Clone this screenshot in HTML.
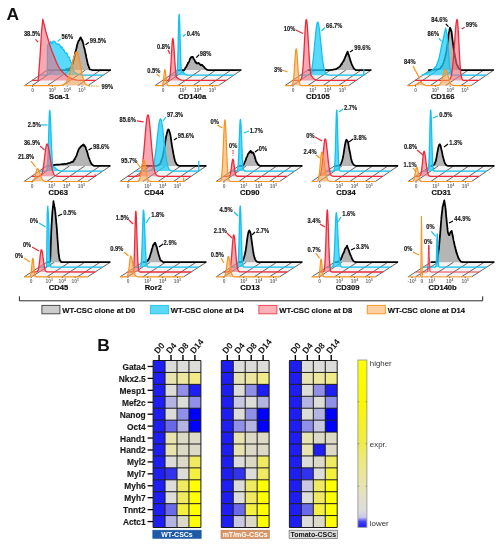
<!DOCTYPE html><html><head><meta charset="utf-8"><style>html,body{margin:0;padding:0;background:#fff;width:503px;height:550px;overflow:hidden;}svg{display:block;font-family:"Liberation Sans",sans-serif;will-change:transform;}</style></head><body><svg width="503" height="550" viewBox="0 0 503 550" font-family="Liberation Sans, sans-serif"><text x="6.6" y="19.6" font-size="17.4" font-weight="bold" fill="#111">A</text><g><path d="M24.5 85.6 L88.1 85.6 L110.9 70 L47.3 70 Z" fill="#ececec" fill-opacity="0.7"/><line x1="24.5" y1="85.6" x2="47.3" y2="70" stroke="#333" stroke-width="0.75"/><line x1="32" y1="85.6" x2="54.8" y2="70" stroke="#333" stroke-width="0.75"/><line x1="47.3" y1="85.6" x2="70.1" y2="70" stroke="#333" stroke-width="0.75"/><line x1="62.6" y1="85.6" x2="85.4" y2="70" stroke="#333" stroke-width="0.75"/><line x1="77.9" y1="85.6" x2="100.7" y2="70" stroke="#333" stroke-width="0.75"/><line x1="88.1" y1="85.6" x2="110.9" y2="70" stroke="#333" stroke-width="0.75"/><path d="M47.3 70 L69.5 70 L68.8 69.84 L68.1 69.68 L67.4 69.52 L66.7 69.36 L66 69.2 L67 69 L68 68.8 L68.72 68.6 L69.45 68.33 L70.18 68.05 L70.9 68.07 L71.2 67.01 L71.5 66.6 L71.8 65.73 L72.1 64.64 L72.4 64.44 L72.7 63.07 L73 62.91 L73.16 61.71 L73.31 61.05 L73.47 60.83 L73.62 60.71 L73.78 59.04 L73.94 58.49 L74.09 58.37 L74.25 58.13 L74.41 56.92 L74.56 55.98 L74.72 56.1 L74.88 54.12 L75.03 54.56 L75.19 53.08 L75.34 52.19 L75.5 51.46 L75.68 51.02 L75.86 51.01 L76.04 49.41 L76.21 49.26 L76.39 48.62 L76.57 47.54 L76.75 47.07 L76.93 45.67 L77.11 44.95 L77.29 44.45 L77.46 44.4 L77.64 43.33 L77.82 42.45 L78 42.12 L78.39 41.26 L78.77 40.38 L79.16 40.4 L79.54 39.59 L79.93 38.28 L80.31 38.08 L80.7 37.34 L81.06 38.57 L81.42 39.1 L81.78 39.22 L82.14 40.93 L82.5 40.47 L82.69 41.62 L82.88 42.83 L83.08 42.71 L83.27 43.92 L83.46 44.02 L83.65 45.64 L83.84 46.5 L84.03 46.97 L84.22 48.13 L84.42 48.07 L84.61 49.34 L84.8 49.93 L84.96 50.66 L85.11 51.23 L85.27 52.51 L85.42 53.4 L85.58 53.49 L85.73 54.5 L85.89 54.4 L86.04 56.04 L86.2 56.71 L86.34 57.91 L86.48 58.39 L86.62 58.36 L86.76 59.22 L86.9 60.34 L87.04 60.15 L87.18 61.49 L87.32 61.8 L87.46 62.44 L87.6 63.08 L87.86 64.75 L88.12 64.68 L88.39 65.55 L88.65 66.41 L88.91 67.44 L89.17 67.69 L89.44 68.6 L89.7 69.3 L90.47 69.53 L91.23 69.77 L92 70 L110.9 70 Z" fill="#a8a8a8" fill-opacity="0.85" stroke="none"/><path d="M47.3 70 L69.5 70 L68.8 69.84 L68.1 69.68 L67.4 69.52 L66.7 69.36 L66 69.2 L67 69 L68 68.8 L68.72 68.6 L69.45 68.33 L70.18 68.05 L70.9 68.07 L71.2 67.01 L71.5 66.6 L71.8 65.73 L72.1 64.64 L72.4 64.44 L72.7 63.07 L73 62.91 L73.16 61.71 L73.31 61.05 L73.47 60.83 L73.62 60.71 L73.78 59.04 L73.94 58.49 L74.09 58.37 L74.25 58.13 L74.41 56.92 L74.56 55.98 L74.72 56.1 L74.88 54.12 L75.03 54.56 L75.19 53.08 L75.34 52.19 L75.5 51.46 L75.68 51.02 L75.86 51.01 L76.04 49.41 L76.21 49.26 L76.39 48.62 L76.57 47.54 L76.75 47.07 L76.93 45.67 L77.11 44.95 L77.29 44.45 L77.46 44.4 L77.64 43.33 L77.82 42.45 L78 42.12 L78.39 41.26 L78.77 40.38 L79.16 40.4 L79.54 39.59 L79.93 38.28 L80.31 38.08 L80.7 37.34 L81.06 38.57 L81.42 39.1 L81.78 39.22 L82.14 40.93 L82.5 40.47 L82.69 41.62 L82.88 42.83 L83.08 42.71 L83.27 43.92 L83.46 44.02 L83.65 45.64 L83.84 46.5 L84.03 46.97 L84.22 48.13 L84.42 48.07 L84.61 49.34 L84.8 49.93 L84.96 50.66 L85.11 51.23 L85.27 52.51 L85.42 53.4 L85.58 53.49 L85.73 54.5 L85.89 54.4 L86.04 56.04 L86.2 56.71 L86.34 57.91 L86.48 58.39 L86.62 58.36 L86.76 59.22 L86.9 60.34 L87.04 60.15 L87.18 61.49 L87.32 61.8 L87.46 62.44 L87.6 63.08 L87.86 64.75 L88.12 64.68 L88.39 65.55 L88.65 66.41 L88.91 67.44 L89.17 67.69 L89.44 68.6 L89.7 69.3 L90.47 69.53 L91.23 69.77 L92 70 L110.9 70" fill="none" stroke="#000000" stroke-width="1.75" stroke-linejoin="round"/><path d="M39.7 75.2 L44.26 75.14 L47.3 75.1 L47.3 74.4 L47.31 73.67 L47.31 73.02 L47.32 72.59 L47.32 71.9 L47.33 71.3 L47.33 69.89 L47.34 69.35 L47.34 68.55 L47.35 68.69 L47.35 68.11 L47.36 66.11 L47.36 65.45 L47.37 64.84 L47.37 64.14 L47.38 63.84 L47.38 63.3 L47.39 62.08 L47.39 60.96 L47.4 60.92 L47.4 60.14 L47.41 59.75 L47.41 59.67 L47.42 58.55 L47.42 57.56 L47.43 57.02 L47.43 56.42 L47.44 54.72 L47.44 55.37 L47.45 54.47 L47.45 53.92 L47.46 53.1 L47.46 51.75 L47.47 51.06 L47.47 49.88 L47.48 50.03 L47.48 48.41 L47.49 47.72 L47.49 47.24 L47.5 46.46 L47.5 46.04 L48 44.82 L48.5 43.97 L49 43.44 L49.57 42.73 L50.13 42.52 L50.7 41.34 L51.35 43.35 L52 43.58 L52.5 42.04 L53 41.4 L54.2 41.16 L54.8 41.78 L55.4 42 L56 43.76 L56.8 44.32 L57.6 43.81 L58.4 44.17 L58.92 44.11 L59.45 44.71 L59.98 45.67 L60.5 46.12 L61.02 47.5 L61.55 46.91 L62.08 47.16 L62.6 49.12 L62.98 49.07 L63.36 49.07 L63.74 50.33 L64.12 50.12 L64.5 51.54 L65.05 52.72 L65.6 52.98 L66.15 53.16 L66.7 52.92 L67 53.73 L67.3 54.05 L67.6 55.66 L67.9 55.91 L68.2 56.95 L68.85 57.03 L69.5 57.66 L69.78 59.32 L70.05 60.33 L70.32 60.84 L70.6 61.49 L70.93 62.18 L71.27 62.72 L71.6 62.56 L71.8 63.83 L72 64.37 L72.2 64.65 L72.4 65.44 L72.6 66.65 L72.82 67.35 L73.04 68.79 L73.26 69.95 L73.48 69.89 L73.7 71.22 L74.15 71.79 L74.6 72.26 L75.05 72.32 L75.5 72.84 L76.3 73.27 L77.1 73.8 L77.9 74.2 L78.72 74.38 L79.54 74.56 L80.36 74.74 L81.18 74.92 L82 75.1 L93.36 75.15 L103.3 75.2 Z" fill="#22cef8" fill-opacity="0.75" stroke="none"/><path d="M39.7 75.2 L44.26 75.14 L47.3 75.1 L47.3 74.4 L47.31 73.67 L47.31 73.02 L47.32 72.59 L47.32 71.9 L47.33 71.3 L47.33 69.89 L47.34 69.35 L47.34 68.55 L47.35 68.69 L47.35 68.11 L47.36 66.11 L47.36 65.45 L47.37 64.84 L47.37 64.14 L47.38 63.84 L47.38 63.3 L47.39 62.08 L47.39 60.96 L47.4 60.92 L47.4 60.14 L47.41 59.75 L47.41 59.67 L47.42 58.55 L47.42 57.56 L47.43 57.02 L47.43 56.42 L47.44 54.72 L47.44 55.37 L47.45 54.47 L47.45 53.92 L47.46 53.1 L47.46 51.75 L47.47 51.06 L47.47 49.88 L47.48 50.03 L47.48 48.41 L47.49 47.72 L47.49 47.24 L47.5 46.46 L47.5 46.04 L48 44.82 L48.5 43.97 L49 43.44 L49.57 42.73 L50.13 42.52 L50.7 41.34 L51.35 43.35 L52 43.58 L52.5 42.04 L53 41.4 L54.2 41.16 L54.8 41.78 L55.4 42 L56 43.76 L56.8 44.32 L57.6 43.81 L58.4 44.17 L58.92 44.11 L59.45 44.71 L59.98 45.67 L60.5 46.12 L61.02 47.5 L61.55 46.91 L62.08 47.16 L62.6 49.12 L62.98 49.07 L63.36 49.07 L63.74 50.33 L64.12 50.12 L64.5 51.54 L65.05 52.72 L65.6 52.98 L66.15 53.16 L66.7 52.92 L67 53.73 L67.3 54.05 L67.6 55.66 L67.9 55.91 L68.2 56.95 L68.85 57.03 L69.5 57.66 L69.78 59.32 L70.05 60.33 L70.32 60.84 L70.6 61.49 L70.93 62.18 L71.27 62.72 L71.6 62.56 L71.8 63.83 L72 64.37 L72.2 64.65 L72.4 65.44 L72.6 66.65 L72.82 67.35 L73.04 68.79 L73.26 69.95 L73.48 69.89 L73.7 71.22 L74.15 71.79 L74.6 72.26 L75.05 72.32 L75.5 72.84 L76.3 73.27 L77.1 73.8 L77.9 74.2 L78.72 74.38 L79.54 74.56 L80.36 74.74 L81.18 74.92 L82 75.1 L93.36 75.15 L103.3 75.2" fill="none" stroke="#12c2f2" stroke-width="1.3" stroke-linejoin="round"/><path d="M32.1 80.4 L38.2 80.4 L39 70 L40 56.7 L41.5 32 L42.8 19.2 L44.2 25 L45.9 31.7 L48 39 L50 45.6 L52 51.5 L54.2 56.7 L56.3 62 L58.4 66.5 L61 70.5 L64 73.4 L66.8 76 L69.5 77.6 L73 79.2 L77 80.1 L80 80.4 L95.7 80.4 Z" fill="#f07080" fill-opacity="0.6" stroke="none"/><path d="M32.1 80.4 L38.2 80.4 L39 70 L40 56.7 L41.5 32 L42.8 19.2 L44.2 25 L45.9 31.7 L48 39 L50 45.6 L52 51.5 L54.2 56.7 L56.3 62 L58.4 66.5 L61 70.5 L64 73.4 L66.8 76 L69.5 77.6 L73 79.2 L77 80.1 L80 80.4 L95.7 80.4" fill="none" stroke="#ee2a3a" stroke-width="1.3" stroke-linejoin="round"/><path d="M24.5 85.6 L58.92 85.54 L59.92 85.49 L60.66 85.42 L61.16 85.35 L61.66 85.26 L61.91 85.2 L62.16 85.14 L62.41 85.06 L62.66 84.98 L62.91 84.89 L63.16 84.78 L63.41 84.67 L63.66 84.53 L63.91 84.39 L64.16 84.22 L64.41 84.04 L64.66 83.84 L64.9 83.61 L65.15 83.36 L65.4 83.09 L65.65 82.79 L65.9 82.47 L66.15 82.11 L66.4 81.72 L66.65 81.31 L66.9 80.85 L67.15 80.37 L67.4 79.85 L67.65 79.29 L67.9 78.69 L68.15 78.06 L68.4 77.39 L68.65 76.69 L68.9 75.94 L69.14 75.16 L69.39 74.35 L69.64 73.5 L69.89 72.62 L70.14 71.71 L70.39 70.78 L70.64 69.82 L70.89 68.84 L71.14 67.84 L71.39 66.83 L71.64 65.82 L71.89 64.8 L72.14 63.78 L72.39 62.77 L72.64 61.77 L72.89 60.79 L73.14 59.84 L73.38 58.91 L73.63 58.02 L73.88 57.17 L74.13 56.37 L74.38 55.62 L74.63 54.92 L74.88 54.29 L75.13 53.73 L75.38 53.23 L75.63 52.81 L75.88 52.47 L76.13 52.2 L76.38 52.02 L76.63 51.92 L76.88 51.91 L77.13 52.04 L77.38 52.33 L77.62 52.77 L77.87 53.37 L78.12 54.1 L78.37 54.97 L78.62 55.95 L78.87 57.04 L79.12 58.22 L79.37 59.48 L79.62 60.8 L79.87 62.17 L80.12 63.57 L80.37 64.98 L80.62 66.39 L80.87 67.8 L81.12 69.18 L81.37 70.52 L81.62 71.82 L81.86 73.07 L82.11 74.26 L82.36 75.39 L82.61 76.45 L82.86 77.44 L83.11 78.35 L83.36 79.2 L83.61 79.97 L83.86 80.67 L84.11 81.31 L84.36 81.88 L84.61 82.39 L84.86 82.85 L85.11 83.25 L85.36 83.6 L85.61 83.91 L85.86 84.18 L86.1 84.41 L86.35 84.6 L86.6 84.77 L86.85 84.92 L87.1 85.04 L87.35 85.14 L87.6 85.23 L87.85 85.3 L88.1 85.36 Z" fill="#f5a050" fill-opacity="0.55" stroke="none"/><path d="M24.5 85.6 L58.92 85.54 L59.92 85.49 L60.66 85.42 L61.16 85.35 L61.66 85.26 L61.91 85.2 L62.16 85.14 L62.41 85.06 L62.66 84.98 L62.91 84.89 L63.16 84.78 L63.41 84.67 L63.66 84.53 L63.91 84.39 L64.16 84.22 L64.41 84.04 L64.66 83.84 L64.9 83.61 L65.15 83.36 L65.4 83.09 L65.65 82.79 L65.9 82.47 L66.15 82.11 L66.4 81.72 L66.65 81.31 L66.9 80.85 L67.15 80.37 L67.4 79.85 L67.65 79.29 L67.9 78.69 L68.15 78.06 L68.4 77.39 L68.65 76.69 L68.9 75.94 L69.14 75.16 L69.39 74.35 L69.64 73.5 L69.89 72.62 L70.14 71.71 L70.39 70.78 L70.64 69.82 L70.89 68.84 L71.14 67.84 L71.39 66.83 L71.64 65.82 L71.89 64.8 L72.14 63.78 L72.39 62.77 L72.64 61.77 L72.89 60.79 L73.14 59.84 L73.38 58.91 L73.63 58.02 L73.88 57.17 L74.13 56.37 L74.38 55.62 L74.63 54.92 L74.88 54.29 L75.13 53.73 L75.38 53.23 L75.63 52.81 L75.88 52.47 L76.13 52.2 L76.38 52.02 L76.63 51.92 L76.88 51.91 L77.13 52.04 L77.38 52.33 L77.62 52.77 L77.87 53.37 L78.12 54.1 L78.37 54.97 L78.62 55.95 L78.87 57.04 L79.12 58.22 L79.37 59.48 L79.62 60.8 L79.87 62.17 L80.12 63.57 L80.37 64.98 L80.62 66.39 L80.87 67.8 L81.12 69.18 L81.37 70.52 L81.62 71.82 L81.86 73.07 L82.11 74.26 L82.36 75.39 L82.61 76.45 L82.86 77.44 L83.11 78.35 L83.36 79.2 L83.61 79.97 L83.86 80.67 L84.11 81.31 L84.36 81.88 L84.61 82.39 L84.86 82.85 L85.11 83.25 L85.36 83.6 L85.61 83.91 L85.86 84.18 L86.1 84.41 L86.35 84.6 L86.6 84.77 L86.85 84.92 L87.1 85.04 L87.35 85.14 L87.6 85.23 L87.85 85.3 L88.1 85.36" fill="none" stroke="#f7941d" stroke-width="1.2" stroke-linejoin="round"/><g font-size="4.9" font-weight="bold" fill="#707070" text-anchor="middle"><text x="32.5" y="91.8">0</text><text x="52.3" y="91.8">10<tspan font-size="3.3" dy="-1.7">3</tspan></text><text x="67.2" y="91.8">10<tspan font-size="3.3" dy="-1.7">4</tspan></text><text x="82" y="91.8">10<tspan font-size="3.3" dy="-1.7">5</tspan></text></g><line x1="32.5" y1="85.6" x2="32.5" y2="86.8" stroke="#333" stroke-width="0.7"/><line x1="52.3" y1="85.6" x2="52.3" y2="86.8" stroke="#333" stroke-width="0.7"/><line x1="67.2" y1="85.6" x2="67.2" y2="86.8" stroke="#333" stroke-width="0.7"/><line x1="82" y1="85.6" x2="82" y2="86.8" stroke="#333" stroke-width="0.7"/><text x="59.2" y="98.9" font-size="7.6" font-weight="bold" text-anchor="middle" fill="#111" stroke="#111" stroke-width="0.2">Sca-1</text><line x1="35.4" y1="39.4" x2="38.2" y2="42.1" stroke="#ee2a3a" stroke-width="1.2"/><text transform="translate(23.9 35.9) scale(0.9 1)" font-size="6.4" font-weight="bold" fill="#1a1a1a" stroke="#1a1a1a" stroke-width="0.15">38.5%</text><line x1="57.7" y1="41.4" x2="60.5" y2="38.9" stroke="#16c0ee" stroke-width="1.2"/><text transform="translate(61.5 39.3) scale(0.9 1)" font-size="6.4" font-weight="bold" fill="#1a1a1a" stroke="#1a1a1a" stroke-width="0.15">56%</text><line x1="85.5" y1="44.7" x2="88.8" y2="42.6" stroke="#000" stroke-width="1.2"/><text transform="translate(89.8 43.1) scale(0.9 1)" font-size="6.4" font-weight="bold" fill="#1a1a1a" stroke="#1a1a1a" stroke-width="0.15">99.5%</text><line x1="88.5" y1="86" x2="99.3" y2="86" stroke="#f7941d" stroke-width="1.2" stroke-dasharray="1.5 1"/><text transform="translate(101.5 88.5) scale(0.9 1)" font-size="6.4" font-weight="bold" fill="#1a1a1a" stroke="#1a1a1a" stroke-width="0.15">99%</text></g><g><path d="M155 85.6 L218.6 85.6 L241.4 70 L177.8 70 Z" fill="#ececec" fill-opacity="0.7"/><line x1="155" y1="85.6" x2="177.8" y2="70" stroke="#333" stroke-width="0.75"/><line x1="162.5" y1="85.6" x2="185.3" y2="70" stroke="#333" stroke-width="0.75"/><line x1="177.8" y1="85.6" x2="200.6" y2="70" stroke="#333" stroke-width="0.75"/><line x1="193.1" y1="85.6" x2="215.9" y2="70" stroke="#333" stroke-width="0.75"/><line x1="208.4" y1="85.6" x2="231.2" y2="70" stroke="#333" stroke-width="0.75"/><line x1="218.6" y1="85.6" x2="241.4" y2="70" stroke="#333" stroke-width="0.75"/><path d="M177.8 70 L179.9 70.07 L182 70.13 L184.1 70.2 L184.48 69.56 L184.86 68.92 L185.24 68.18 L185.62 67.5 L186 67.07 L186.36 66.64 L186.71 65.98 L187.07 65.01 L187.43 64.54 L187.79 64.07 L188.14 62.56 L188.5 62.59 L188.83 62.16 L189.17 61.27 L189.5 60.5 L189.83 59.44 L190.17 58.35 L190.5 58.35 L191.03 57.23 L191.57 57.23 L192.1 56.87 L192.65 56.78 L193.2 57.38 L193.47 58.71 L193.75 59.12 L194.03 59.13 L194.3 59.75 L194.74 60.36 L195.18 61.85 L195.62 62.31 L196.06 62.1 L196.5 63.49 L197.45 63.48 L198.4 62.89 L198.82 63.1 L199.25 63.91 L199.68 64.01 L200.1 64.51 L201 65.29 L201.9 64.76 L202.55 65.32 L203.2 66.35 L203.85 66.71 L204.5 67.69 L205.05 68.18 L205.6 68.6 L206.15 69.15 L206.7 69.7 L207.47 69.87 L208.23 70.03 L209 70.2 L217.45 70.15 L225.9 70.1 L234.36 70.04 L241.4 70 Z" fill="#a8a8a8" fill-opacity="0.85" stroke="none"/><path d="M177.8 70 L179.9 70.07 L182 70.13 L184.1 70.2 L184.48 69.56 L184.86 68.92 L185.24 68.18 L185.62 67.5 L186 67.07 L186.36 66.64 L186.71 65.98 L187.07 65.01 L187.43 64.54 L187.79 64.07 L188.14 62.56 L188.5 62.59 L188.83 62.16 L189.17 61.27 L189.5 60.5 L189.83 59.44 L190.17 58.35 L190.5 58.35 L191.03 57.23 L191.57 57.23 L192.1 56.87 L192.65 56.78 L193.2 57.38 L193.47 58.71 L193.75 59.12 L194.03 59.13 L194.3 59.75 L194.74 60.36 L195.18 61.85 L195.62 62.31 L196.06 62.1 L196.5 63.49 L197.45 63.48 L198.4 62.89 L198.82 63.1 L199.25 63.91 L199.68 64.01 L200.1 64.51 L201 65.29 L201.9 64.76 L202.55 65.32 L203.2 66.35 L203.85 66.71 L204.5 67.69 L205.05 68.18 L205.6 68.6 L206.15 69.15 L206.7 69.7 L207.47 69.87 L208.23 70.03 L209 70.2 L217.45 70.15 L225.9 70.1 L234.36 70.04 L241.4 70" fill="none" stroke="#000000" stroke-width="1.75" stroke-linejoin="round"/><path d="M170.2 75.2 L175.94 75.18 L176.19 75.12 L176.44 74.96 L176.68 74.56 L176.93 73.64 L177.18 71.73 L177.43 68.23 L177.68 62.49 L177.93 54.16 L178.18 43.61 L178.43 32.15 L178.68 21.97 L178.93 15.47 L179.18 14.29 L179.43 17.3 L179.68 23.49 L179.93 31.8 L180.18 40.97 L180.43 49.83 L180.68 57.53 L180.92 63.64 L181.17 68.09 L181.42 71.06 L181.67 71.15 L181.92 71.28 L182.17 71.44 L182.42 71.63 L182.67 71.84 L182.92 72.07 L183.17 72.32 L183.42 72.57 L183.67 72.82 L183.92 73.07 L184.17 73.32 L184.42 73.55 L184.67 73.77 L184.92 73.97 L185.16 74.15 L185.41 74.32 L185.66 74.46 L185.91 74.59 L186.16 74.7 L186.41 74.8 L186.66 74.88 L186.91 74.94 L187.16 75 L187.66 75.08 L188.16 75.13 L189.4 75.19 L233.8 75.2 Z" fill="#22cef8" fill-opacity="0.75" stroke="none"/><path d="M170.2 75.2 L175.94 75.18 L176.19 75.12 L176.44 74.96 L176.68 74.56 L176.93 73.64 L177.18 71.73 L177.43 68.23 L177.68 62.49 L177.93 54.16 L178.18 43.61 L178.43 32.15 L178.68 21.97 L178.93 15.47 L179.18 14.29 L179.43 17.3 L179.68 23.49 L179.93 31.8 L180.18 40.97 L180.43 49.83 L180.68 57.53 L180.92 63.64 L181.17 68.09 L181.42 71.06 L181.67 71.15 L181.92 71.28 L182.17 71.44 L182.42 71.63 L182.67 71.84 L182.92 72.07 L183.17 72.32 L183.42 72.57 L183.67 72.82 L183.92 73.07 L184.17 73.32 L184.42 73.55 L184.67 73.77 L184.92 73.97 L185.16 74.15 L185.41 74.32 L185.66 74.46 L185.91 74.59 L186.16 74.7 L186.41 74.8 L186.66 74.88 L186.91 74.94 L187.16 75 L187.66 75.08 L188.16 75.13 L189.4 75.19 L233.8 75.2" fill="none" stroke="#12c2f2" stroke-width="1.3" stroke-linejoin="round"/><path d="M162.6 80.4 L168.09 80.31 L168.34 80.22 L168.59 80.08 L168.84 79.84 L169.08 79.45 L169.33 78.84 L169.58 77.94 L169.83 76.65 L170.08 74.86 L170.33 72.5 L170.58 69.52 L170.83 65.91 L171.08 61.75 L171.33 57.2 L171.58 52.5 L171.83 47.99 L172.08 44 L172.33 40.9 L172.58 38.97 L172.83 38.41 L173.08 39.02 L173.32 40.6 L173.57 43.04 L173.82 46.17 L174.07 49.79 L174.32 53.69 L174.57 57.65 L174.82 61.49 L175.07 65.06 L175.32 68.25 L175.57 71.01 L175.82 73.32 L176.07 75.19 L176.32 76.65 L176.57 77.43 L176.82 77.57 L177.07 77.72 L177.32 77.88 L177.56 78.04 L177.81 78.21 L178.06 78.38 L178.31 78.55 L178.56 78.72 L178.81 78.88 L179.06 79.04 L179.31 79.19 L179.56 79.33 L179.81 79.46 L180.06 79.58 L180.31 79.69 L180.56 79.79 L180.81 79.88 L181.06 79.96 L181.31 80.03 L181.56 80.09 L181.8 80.14 L182.3 80.22 L182.8 80.28 L183.55 80.34 L185.55 80.39 L226.2 80.4 Z" fill="#f07080" fill-opacity="0.6" stroke="none"/><path d="M162.6 80.4 L168.09 80.31 L168.34 80.22 L168.59 80.08 L168.84 79.84 L169.08 79.45 L169.33 78.84 L169.58 77.94 L169.83 76.65 L170.08 74.86 L170.33 72.5 L170.58 69.52 L170.83 65.91 L171.08 61.75 L171.33 57.2 L171.58 52.5 L171.83 47.99 L172.08 44 L172.33 40.9 L172.58 38.97 L172.83 38.41 L173.08 39.02 L173.32 40.6 L173.57 43.04 L173.82 46.17 L174.07 49.79 L174.32 53.69 L174.57 57.65 L174.82 61.49 L175.07 65.06 L175.32 68.25 L175.57 71.01 L175.82 73.32 L176.07 75.19 L176.32 76.65 L176.57 77.43 L176.82 77.57 L177.07 77.72 L177.32 77.88 L177.56 78.04 L177.81 78.21 L178.06 78.38 L178.31 78.55 L178.56 78.72 L178.81 78.88 L179.06 79.04 L179.31 79.19 L179.56 79.33 L179.81 79.46 L180.06 79.58 L180.31 79.69 L180.56 79.79 L180.81 79.88 L181.06 79.96 L181.31 80.03 L181.56 80.09 L181.8 80.14 L182.3 80.22 L182.8 80.28 L183.55 80.34 L185.55 80.39 L226.2 80.4" fill="none" stroke="#ee2a3a" stroke-width="1.3" stroke-linejoin="round"/><path d="M155 85.6 L161.73 85.54 L161.98 85.46 L162.23 85.29 L162.48 84.97 L162.73 84.41 L162.98 83.51 L163.23 82.16 L163.48 80.33 L163.73 78.06 L163.98 75.54 L164.23 73.06 L164.48 71.02 L164.73 69.76 L164.98 69.55 L165.23 70.33 L165.48 71.96 L165.72 74.14 L165.97 76.56 L166.22 78.89 L166.47 80.93 L166.72 82.54 L166.97 83.72 L167.22 84.51 L167.47 85.01 L167.72 85.3 L167.97 85.46 L168.22 85.53 L168.72 85.59 L218.6 85.6 Z" fill="#f5a050" fill-opacity="0.55" stroke="none"/><path d="M155 85.6 L161.73 85.54 L161.98 85.46 L162.23 85.29 L162.48 84.97 L162.73 84.41 L162.98 83.51 L163.23 82.16 L163.48 80.33 L163.73 78.06 L163.98 75.54 L164.23 73.06 L164.48 71.02 L164.73 69.76 L164.98 69.55 L165.23 70.33 L165.48 71.96 L165.72 74.14 L165.97 76.56 L166.22 78.89 L166.47 80.93 L166.72 82.54 L166.97 83.72 L167.22 84.51 L167.47 85.01 L167.72 85.3 L167.97 85.46 L168.22 85.53 L168.72 85.59 L218.6 85.6" fill="none" stroke="#f7941d" stroke-width="1.2" stroke-linejoin="round"/><g font-size="4.9" font-weight="bold" fill="#707070" text-anchor="middle"><text x="163" y="91.8">0</text><text x="182.8" y="91.8">10<tspan font-size="3.3" dy="-1.7">3</tspan></text><text x="197.7" y="91.8">10<tspan font-size="3.3" dy="-1.7">4</tspan></text><text x="212.5" y="91.8">10<tspan font-size="3.3" dy="-1.7">5</tspan></text></g><line x1="163" y1="85.6" x2="163" y2="86.8" stroke="#333" stroke-width="0.7"/><line x1="182.8" y1="85.6" x2="182.8" y2="86.8" stroke="#333" stroke-width="0.7"/><line x1="197.7" y1="85.6" x2="197.7" y2="86.8" stroke="#333" stroke-width="0.7"/><line x1="212.5" y1="85.6" x2="212.5" y2="86.8" stroke="#333" stroke-width="0.7"/><text x="192.3" y="98.9" font-size="7.6" font-weight="bold" text-anchor="middle" fill="#111" stroke="#111" stroke-width="0.2">CD140a</text><line x1="156.7" y1="74" x2="159.6" y2="76.5" stroke="#f7941d" stroke-width="1.2"/><text transform="translate(147.3 72.9) scale(0.9 1)" font-size="6.4" font-weight="bold" fill="#1a1a1a" stroke="#1a1a1a" stroke-width="0.15">0.5%</text><line x1="167.9" y1="49.7" x2="169.9" y2="54" stroke="#ee2a3a" stroke-width="1.2"/><text transform="translate(157 48.6) scale(0.9 1)" font-size="6.4" font-weight="bold" fill="#1a1a1a" stroke="#1a1a1a" stroke-width="0.15">0.8%</text><line x1="182.8" y1="36.4" x2="185.8" y2="34.2" stroke="#16c0ee" stroke-width="1.2"/><text transform="translate(186.8 36.1) scale(0.9 1)" font-size="6.4" font-weight="bold" fill="#1a1a1a" stroke="#1a1a1a" stroke-width="0.15">0.4%</text><line x1="196.2" y1="57.7" x2="199.2" y2="54.7" stroke="#000" stroke-width="1.2"/><text transform="translate(199.8 56) scale(0.9 1)" font-size="6.4" font-weight="bold" fill="#1a1a1a" stroke="#1a1a1a" stroke-width="0.15">98%</text></g><g><path d="M285 85.6 L348.6 85.6 L371.4 70 L307.8 70 Z" fill="#ececec" fill-opacity="0.7"/><line x1="285" y1="85.6" x2="307.8" y2="70" stroke="#333" stroke-width="0.75"/><line x1="292.5" y1="85.6" x2="315.3" y2="70" stroke="#333" stroke-width="0.75"/><line x1="307.8" y1="85.6" x2="330.6" y2="70" stroke="#333" stroke-width="0.75"/><line x1="323.1" y1="85.6" x2="345.9" y2="70" stroke="#333" stroke-width="0.75"/><line x1="338.4" y1="85.6" x2="361.2" y2="70" stroke="#333" stroke-width="0.75"/><line x1="348.6" y1="85.6" x2="371.4" y2="70" stroke="#333" stroke-width="0.75"/><path d="M307.8 70 L313.57 70.06 L319.33 70.11 L325.1 70.17 L328.7 70.2 L329.46 70.12 L330.22 70.04 L330.98 69.96 L331.74 69.88 L332.5 69.8 L333.28 69.64 L334.06 69.48 L334.84 69.32 L335.62 69.16 L336.4 69 L337.06 68.56 L337.72 68.01 L338.38 67.56 L339.04 67.13 L339.7 66.63 L340.12 66.27 L340.54 65.39 L340.96 64.92 L341.38 63.99 L341.8 64.29 L342.23 62.87 L342.65 62.25 L343.07 61.65 L343.5 61.29 L343.81 60.08 L344.13 60.04 L344.44 58.92 L344.76 58.32 L345.07 57.69 L345.39 56.45 L345.7 56.33 L345.97 55.32 L346.24 54.4 L346.51 54.66 L346.79 53.21 L347.06 52.87 L347.33 52.47 L347.6 51.57 L347.84 52.04 L348.08 53.02 L348.31 53.82 L348.55 54.84 L348.79 54.78 L349.02 56.07 L349.26 56.45 L349.5 57.23 L349.74 58.56 L349.99 58.98 L350.23 59.77 L350.48 60.75 L350.72 61.66 L350.97 61.83 L351.21 62.77 L351.46 63.37 L351.7 64.11 L352.01 64.95 L352.33 65.34 L352.64 66.06 L352.96 66.66 L353.27 67.55 L353.59 68.04 L353.9 68.6 L354.63 69.13 L355.37 69.67 L356.1 70.2 L360.47 70.14 L364.84 70.09 L369.21 70.03 L371.4 70 Z" fill="#a8a8a8" fill-opacity="0.85" stroke="none"/><path d="M307.8 70 L313.57 70.06 L319.33 70.11 L325.1 70.17 L328.7 70.2 L329.46 70.12 L330.22 70.04 L330.98 69.96 L331.74 69.88 L332.5 69.8 L333.28 69.64 L334.06 69.48 L334.84 69.32 L335.62 69.16 L336.4 69 L337.06 68.56 L337.72 68.01 L338.38 67.56 L339.04 67.13 L339.7 66.63 L340.12 66.27 L340.54 65.39 L340.96 64.92 L341.38 63.99 L341.8 64.29 L342.23 62.87 L342.65 62.25 L343.07 61.65 L343.5 61.29 L343.81 60.08 L344.13 60.04 L344.44 58.92 L344.76 58.32 L345.07 57.69 L345.39 56.45 L345.7 56.33 L345.97 55.32 L346.24 54.4 L346.51 54.66 L346.79 53.21 L347.06 52.87 L347.33 52.47 L347.6 51.57 L347.84 52.04 L348.08 53.02 L348.31 53.82 L348.55 54.84 L348.79 54.78 L349.02 56.07 L349.26 56.45 L349.5 57.23 L349.74 58.56 L349.99 58.98 L350.23 59.77 L350.48 60.75 L350.72 61.66 L350.97 61.83 L351.21 62.77 L351.46 63.37 L351.7 64.11 L352.01 64.95 L352.33 65.34 L352.64 66.06 L352.96 66.66 L353.27 67.55 L353.59 68.04 L353.9 68.6 L354.63 69.13 L355.37 69.67 L356.1 70.2 L360.47 70.14 L364.84 70.09 L369.21 70.03 L371.4 70" fill="none" stroke="#000000" stroke-width="1.75" stroke-linejoin="round"/><path d="M300.2 75.2 L306.93 75.15 L307.68 75.06 L307.93 75.02 L308.18 74.96 L308.43 74.88 L308.68 74.78 L308.93 74.65 L309.18 74.49 L309.43 74.29 L309.68 74.05 L309.93 73.74 L310.18 73.37 L310.43 72.92 L310.68 72.38 L310.92 71.74 L311.17 70.99 L311.42 70.11 L311.67 69.09 L311.92 67.92 L312.17 66.59 L312.42 65.09 L312.67 63.42 L312.92 61.58 L313.17 59.56 L313.42 57.37 L313.67 55.04 L313.92 52.56 L314.17 49.97 L314.42 47.28 L314.67 44.54 L314.92 41.78 L315.16 39.03 L315.41 36.35 L315.66 33.78 L315.91 31.37 L316.16 29.15 L316.41 27.18 L316.66 25.49 L316.91 24.13 L317.16 23.11 L317.41 22.47 L317.66 22.21 L317.91 22.32 L318.16 22.77 L318.41 23.56 L318.66 24.66 L318.91 26.06 L319.16 27.73 L319.4 29.64 L319.65 31.75 L319.9 34.03 L320.15 36.45 L320.4 38.95 L320.65 41.52 L320.9 44.1 L321.15 46.67 L321.4 49.2 L321.65 51.66 L321.9 54.02 L322.15 56.27 L322.4 58.39 L322.65 60.37 L322.9 62.2 L323.15 63.87 L323.4 65.4 L323.64 66.77 L323.89 68 L324.14 69.09 L324.39 70.05 L324.64 70.88 L324.89 71.61 L325.14 72.23 L325.39 72.76 L325.64 73.21 L325.89 73.58 L326.14 73.9 L326.39 74.16 L326.64 74.31 L326.89 74.44 L327.14 74.56 L327.39 74.66 L327.64 74.75 L327.88 74.83 L328.13 74.89 L328.38 74.95 L328.88 75.04 L329.38 75.09 L330.13 75.15 L333.87 75.2 L363.8 75.2 Z" fill="#22cef8" fill-opacity="0.75" stroke="none"/><path d="M300.2 75.2 L306.93 75.15 L307.68 75.06 L307.93 75.02 L308.18 74.96 L308.43 74.88 L308.68 74.78 L308.93 74.65 L309.18 74.49 L309.43 74.29 L309.68 74.05 L309.93 73.74 L310.18 73.37 L310.43 72.92 L310.68 72.38 L310.92 71.74 L311.17 70.99 L311.42 70.11 L311.67 69.09 L311.92 67.92 L312.17 66.59 L312.42 65.09 L312.67 63.42 L312.92 61.58 L313.17 59.56 L313.42 57.37 L313.67 55.04 L313.92 52.56 L314.17 49.97 L314.42 47.28 L314.67 44.54 L314.92 41.78 L315.16 39.03 L315.41 36.35 L315.66 33.78 L315.91 31.37 L316.16 29.15 L316.41 27.18 L316.66 25.49 L316.91 24.13 L317.16 23.11 L317.41 22.47 L317.66 22.21 L317.91 22.32 L318.16 22.77 L318.41 23.56 L318.66 24.66 L318.91 26.06 L319.16 27.73 L319.4 29.64 L319.65 31.75 L319.9 34.03 L320.15 36.45 L320.4 38.95 L320.65 41.52 L320.9 44.1 L321.15 46.67 L321.4 49.2 L321.65 51.66 L321.9 54.02 L322.15 56.27 L322.4 58.39 L322.65 60.37 L322.9 62.2 L323.15 63.87 L323.4 65.4 L323.64 66.77 L323.89 68 L324.14 69.09 L324.39 70.05 L324.64 70.88 L324.89 71.61 L325.14 72.23 L325.39 72.76 L325.64 73.21 L325.89 73.58 L326.14 73.9 L326.39 74.16 L326.64 74.31 L326.89 74.44 L327.14 74.56 L327.39 74.66 L327.64 74.75 L327.88 74.83 L328.13 74.89 L328.38 74.95 L328.88 75.04 L329.38 75.09 L330.13 75.15 L333.87 75.2 L363.8 75.2 L363.8 69.2" fill="none" stroke="#12c2f2" stroke-width="1.3" stroke-linejoin="round"/><path d="M292.6 80.4 L299.33 80.33 L299.58 80.28 L299.83 80.21 L300.08 80.11 L300.33 79.96 L300.58 79.74 L300.83 79.43 L301.08 79 L301.33 78.41 L301.58 77.62 L301.83 76.58 L302.08 75.25 L302.33 73.56 L302.58 71.47 L302.83 68.95 L303.08 65.97 L303.32 62.53 L303.57 58.64 L303.82 54.36 L304.07 49.76 L304.32 44.97 L304.57 40.13 L304.82 35.41 L305.07 31 L305.32 27.09 L305.57 23.84 L305.82 21.42 L306.07 19.95 L306.32 19.5 L306.57 19.99 L306.82 21.31 L307.07 23.42 L307.32 26.22 L307.56 29.6 L307.81 33.44 L308.06 37.6 L308.31 41.93 L308.56 46.31 L308.81 50.62 L309.06 54.74 L309.31 58.61 L309.56 62.15 L309.81 65.33 L310.06 68.13 L310.31 70.55 L310.56 72.6 L310.81 74.31 L311.06 75.34 L311.31 75.64 L311.56 75.95 L311.8 76.27 L312.05 76.59 L312.3 76.91 L312.55 77.23 L312.8 77.53 L313.05 77.83 L313.3 78.11 L313.55 78.37 L313.8 78.62 L314.05 78.85 L314.3 79.05 L314.55 79.24 L314.8 79.41 L315.05 79.56 L315.3 79.69 L315.55 79.81 L315.8 79.91 L316.04 79.99 L316.29 80.07 L316.54 80.13 L316.79 80.18 L317.29 80.26 L317.79 80.31 L318.79 80.37 L356.2 80.4 Z" fill="#f07080" fill-opacity="0.6" stroke="none"/><path d="M292.6 80.4 L299.33 80.33 L299.58 80.28 L299.83 80.21 L300.08 80.11 L300.33 79.96 L300.58 79.74 L300.83 79.43 L301.08 79 L301.33 78.41 L301.58 77.62 L301.83 76.58 L302.08 75.25 L302.33 73.56 L302.58 71.47 L302.83 68.95 L303.08 65.97 L303.32 62.53 L303.57 58.64 L303.82 54.36 L304.07 49.76 L304.32 44.97 L304.57 40.13 L304.82 35.41 L305.07 31 L305.32 27.09 L305.57 23.84 L305.82 21.42 L306.07 19.95 L306.32 19.5 L306.57 19.99 L306.82 21.31 L307.07 23.42 L307.32 26.22 L307.56 29.6 L307.81 33.44 L308.06 37.6 L308.31 41.93 L308.56 46.31 L308.81 50.62 L309.06 54.74 L309.31 58.61 L309.56 62.15 L309.81 65.33 L310.06 68.13 L310.31 70.55 L310.56 72.6 L310.81 74.31 L311.06 75.34 L311.31 75.64 L311.56 75.95 L311.8 76.27 L312.05 76.59 L312.3 76.91 L312.55 77.23 L312.8 77.53 L313.05 77.83 L313.3 78.11 L313.55 78.37 L313.8 78.62 L314.05 78.85 L314.3 79.05 L314.55 79.24 L314.8 79.41 L315.05 79.56 L315.3 79.69 L315.55 79.81 L315.8 79.91 L316.04 79.99 L316.29 80.07 L316.54 80.13 L316.79 80.18 L317.29 80.26 L317.79 80.31 L318.79 80.37 L356.2 80.4" fill="none" stroke="#ee2a3a" stroke-width="1.3" stroke-linejoin="round"/><path d="M285 85.6 L290.99 85.54 L291.24 85.5 L291.48 85.41 L291.73 85.28 L291.98 85.06 L292.23 84.73 L292.48 84.22 L292.73 83.49 L292.98 82.47 L293.23 81.08 L293.48 79.27 L293.73 76.98 L293.98 74.22 L294.23 71 L294.48 67.43 L294.73 63.63 L294.98 59.82 L295.23 56.23 L295.48 53.12 L295.72 50.72 L295.97 49.24 L296.22 48.8 L296.47 49.45 L296.72 51.11 L296.97 53.66 L297.22 56.88 L297.47 60.53 L297.72 64.36 L297.97 68.12 L298.22 71.64 L298.47 74.77 L298.72 77.45 L298.97 79.64 L299.22 81.37 L299.47 82.69 L299.72 83.65 L299.96 84.34 L300.21 84.8 L300.46 85.11 L300.71 85.31 L300.96 85.43 L301.21 85.51 L301.71 85.57 L348.6 85.6 Z" fill="#f5a050" fill-opacity="0.55" stroke="none"/><path d="M285 85.6 L290.99 85.54 L291.24 85.5 L291.48 85.41 L291.73 85.28 L291.98 85.06 L292.23 84.73 L292.48 84.22 L292.73 83.49 L292.98 82.47 L293.23 81.08 L293.48 79.27 L293.73 76.98 L293.98 74.22 L294.23 71 L294.48 67.43 L294.73 63.63 L294.98 59.82 L295.23 56.23 L295.48 53.12 L295.72 50.72 L295.97 49.24 L296.22 48.8 L296.47 49.45 L296.72 51.11 L296.97 53.66 L297.22 56.88 L297.47 60.53 L297.72 64.36 L297.97 68.12 L298.22 71.64 L298.47 74.77 L298.72 77.45 L298.97 79.64 L299.22 81.37 L299.47 82.69 L299.72 83.65 L299.96 84.34 L300.21 84.8 L300.46 85.11 L300.71 85.31 L300.96 85.43 L301.21 85.51 L301.71 85.57 L348.6 85.6" fill="none" stroke="#f7941d" stroke-width="1.2" stroke-linejoin="round"/><g font-size="4.9" font-weight="bold" fill="#707070" text-anchor="middle"><text x="293" y="91.8">0</text><text x="312.8" y="91.8">10<tspan font-size="3.3" dy="-1.7">3</tspan></text><text x="327.7" y="91.8">10<tspan font-size="3.3" dy="-1.7">4</tspan></text><text x="342.5" y="91.8">10<tspan font-size="3.3" dy="-1.7">5</tspan></text></g><line x1="293" y1="85.6" x2="293" y2="86.8" stroke="#333" stroke-width="0.7"/><line x1="312.8" y1="85.6" x2="312.8" y2="86.8" stroke="#333" stroke-width="0.7"/><line x1="327.7" y1="85.6" x2="327.7" y2="86.8" stroke="#333" stroke-width="0.7"/><line x1="342.5" y1="85.6" x2="342.5" y2="86.8" stroke="#333" stroke-width="0.7"/><text x="317.8" y="98.9" font-size="7.6" font-weight="bold" text-anchor="middle" fill="#111" stroke="#111" stroke-width="0.2">CD105</text><line x1="282.5" y1="70" x2="287.5" y2="72" stroke="#f7941d" stroke-width="1.2"/><text transform="translate(274 71.5) scale(0.9 1)" font-size="6.4" font-weight="bold" fill="#1a1a1a" stroke="#1a1a1a" stroke-width="0.15">3%</text><line x1="295.8" y1="30" x2="303" y2="33.5" stroke="#ee2a3a" stroke-width="1.2"/><text transform="translate(283.8 31.1) scale(0.9 1)" font-size="6.4" font-weight="bold" fill="#1a1a1a" stroke="#1a1a1a" stroke-width="0.15">10%</text><line x1="321.5" y1="31" x2="325" y2="27.5" stroke="#16c0ee" stroke-width="1.2"/><text transform="translate(326 27.7) scale(0.9 1)" font-size="6.4" font-weight="bold" fill="#1a1a1a" stroke="#1a1a1a" stroke-width="0.15">66.7%</text><line x1="350" y1="52" x2="353" y2="50" stroke="#000" stroke-width="1.2"/><text transform="translate(354.2 50.4) scale(0.9 1)" font-size="6.4" font-weight="bold" fill="#1a1a1a" stroke="#1a1a1a" stroke-width="0.15">99.6%</text></g><g><path d="M407.5 85.6 L471.1 85.6 L493.9 70 L430.3 70 Z" fill="#ececec" fill-opacity="0.7"/><line x1="407.5" y1="85.6" x2="430.3" y2="70" stroke="#333" stroke-width="0.75"/><line x1="415" y1="85.6" x2="437.8" y2="70" stroke="#333" stroke-width="0.75"/><line x1="430.3" y1="85.6" x2="453.1" y2="70" stroke="#333" stroke-width="0.75"/><line x1="445.6" y1="85.6" x2="468.4" y2="70" stroke="#333" stroke-width="0.75"/><line x1="460.9" y1="85.6" x2="483.7" y2="70" stroke="#333" stroke-width="0.75"/><line x1="471.1" y1="85.6" x2="493.9" y2="70" stroke="#333" stroke-width="0.75"/><path d="M430.3 70 L429.5 70.1 L428.7 70.2 L429.43 70.14 L430.16 70.08 L430.89 70.02 L431.62 69.96 L432.35 69.9 L433.08 69.84 L433.81 69.78 L434.54 69.72 L435.27 69.66 L436 69.6 L436.8 69.42 L437.6 69.24 L438.4 69.06 L439.2 68.88 L440 68.7 L440.43 68.21 L440.85 67.65 L441.27 66.63 L441.7 66.2 L442.12 65.91 L442.55 65.22 L442.97 63.82 L443.4 63.15 L443.57 62.85 L443.75 61.72 L443.92 61.25 L444.1 60.36 L444.27 60.4 L444.45 59.85 L444.62 59.31 L444.8 57.74 L444.97 57.73 L445.15 56.98 L445.32 55.68 L445.5 55.88 L445.68 55.3 L445.85 53.73 L446.02 53.92 L446.2 52.58 L446.31 51.96 L446.41 51.83 L446.52 50.92 L446.63 49.39 L446.73 48.98 L446.84 48.36 L446.95 47.42 L447.05 46.52 L447.16 45.94 L447.27 45.7 L447.37 44.13 L447.48 44.04 L447.59 43.18 L447.69 41.95 L447.8 41.6 L447.88 41.19 L447.96 40.29 L448.04 39 L448.12 39.34 L448.2 38.35 L448.28 37.81 L448.36 36.01 L448.44 35.44 L448.52 34.41 L448.6 34.53 L448.76 33.19 L448.91 32.29 L449.07 31.91 L449.22 31.76 L449.38 30.92 L449.53 29.51 L449.69 28.65 L449.84 28.84 L450 27.68 L450.27 28.57 L450.53 28.57 L450.8 29.27 L451.07 30.76 L451.33 31.18 L451.6 31.49 L451.68 33.23 L451.76 33.56 L451.84 34.46 L451.91 34.3 L451.99 35.93 L452.07 35.68 L452.15 37.34 L452.23 37.54 L452.31 38.11 L452.39 39.06 L452.46 40.21 L452.54 40.12 L452.62 40.66 L452.7 41.83 L452.81 42.21 L452.91 42.78 L453.02 43.57 L453.13 44.17 L453.23 45.08 L453.34 45.93 L453.45 46.65 L453.55 47.92 L453.66 48.09 L453.77 49.07 L453.87 49.41 L453.98 50.34 L454.09 50.67 L454.19 51.67 L454.3 52.12 L454.45 53.71 L454.59 54.21 L454.74 54.51 L454.89 55.58 L455.03 56.85 L455.18 56.59 L455.33 58.17 L455.47 58.43 L455.62 59.23 L455.77 60.37 L455.91 60.57 L456.06 61.43 L456.21 62.37 L456.35 63.45 L456.5 63.41 L456.81 64.68 L457.13 65.21 L457.44 65.82 L457.76 66.33 L458.07 67.01 L458.39 67.6 L458.7 68.5 L459.27 68.92 L459.85 69.35 L460.43 69.78 L461 70.2 L469.4 70.15 L477.8 70.1 L486.2 70.05 L493.9 70 Z" fill="#a8a8a8" fill-opacity="0.85" stroke="none"/><path d="M430.3 70 L429.5 70.1 L428.7 70.2 L429.43 70.14 L430.16 70.08 L430.89 70.02 L431.62 69.96 L432.35 69.9 L433.08 69.84 L433.81 69.78 L434.54 69.72 L435.27 69.66 L436 69.6 L436.8 69.42 L437.6 69.24 L438.4 69.06 L439.2 68.88 L440 68.7 L440.43 68.21 L440.85 67.65 L441.27 66.63 L441.7 66.2 L442.12 65.91 L442.55 65.22 L442.97 63.82 L443.4 63.15 L443.57 62.85 L443.75 61.72 L443.92 61.25 L444.1 60.36 L444.27 60.4 L444.45 59.85 L444.62 59.31 L444.8 57.74 L444.97 57.73 L445.15 56.98 L445.32 55.68 L445.5 55.88 L445.68 55.3 L445.85 53.73 L446.02 53.92 L446.2 52.58 L446.31 51.96 L446.41 51.83 L446.52 50.92 L446.63 49.39 L446.73 48.98 L446.84 48.36 L446.95 47.42 L447.05 46.52 L447.16 45.94 L447.27 45.7 L447.37 44.13 L447.48 44.04 L447.59 43.18 L447.69 41.95 L447.8 41.6 L447.88 41.19 L447.96 40.29 L448.04 39 L448.12 39.34 L448.2 38.35 L448.28 37.81 L448.36 36.01 L448.44 35.44 L448.52 34.41 L448.6 34.53 L448.76 33.19 L448.91 32.29 L449.07 31.91 L449.22 31.76 L449.38 30.92 L449.53 29.51 L449.69 28.65 L449.84 28.84 L450 27.68 L450.27 28.57 L450.53 28.57 L450.8 29.27 L451.07 30.76 L451.33 31.18 L451.6 31.49 L451.68 33.23 L451.76 33.56 L451.84 34.46 L451.91 34.3 L451.99 35.93 L452.07 35.68 L452.15 37.34 L452.23 37.54 L452.31 38.11 L452.39 39.06 L452.46 40.21 L452.54 40.12 L452.62 40.66 L452.7 41.83 L452.81 42.21 L452.91 42.78 L453.02 43.57 L453.13 44.17 L453.23 45.08 L453.34 45.93 L453.45 46.65 L453.55 47.92 L453.66 48.09 L453.77 49.07 L453.87 49.41 L453.98 50.34 L454.09 50.67 L454.19 51.67 L454.3 52.12 L454.45 53.71 L454.59 54.21 L454.74 54.51 L454.89 55.58 L455.03 56.85 L455.18 56.59 L455.33 58.17 L455.47 58.43 L455.62 59.23 L455.77 60.37 L455.91 60.57 L456.06 61.43 L456.21 62.37 L456.35 63.45 L456.5 63.41 L456.81 64.68 L457.13 65.21 L457.44 65.82 L457.76 66.33 L458.07 67.01 L458.39 67.6 L458.7 68.5 L459.27 68.92 L459.85 69.35 L460.43 69.78 L461 70.2 L469.4 70.15 L477.8 70.1 L486.2 70.05 L493.9 70" fill="none" stroke="#000000" stroke-width="1.75" stroke-linejoin="round"/><path d="M422.7 75.2 L422.2 75.1 L426 73.5 L430.9 71.2 L434 68.5 L436.3 65.8 L437.8 62 L439.1 58.1 L440.2 53 L441.3 47.2 L442.4 42.5 L443.4 38.5 L444.5 33 L445.6 28.2 L446.4 31 L447.2 36.3 L448 44 L448.6 52.7 L449.6 66.9 L451.1 73.4 L452.5 75.1 L486.3 75.2 Z" fill="#22cef8" fill-opacity="0.75" stroke="none"/><path d="M422.7 75.2 L422.2 75.1 L426 73.5 L430.9 71.2 L434 68.5 L436.3 65.8 L437.8 62 L439.1 58.1 L440.2 53 L441.3 47.2 L442.4 42.5 L443.4 38.5 L444.5 33 L445.6 28.2 L446.4 31 L447.2 36.3 L448 44 L448.6 52.7 L449.6 66.9 L451.1 73.4 L452.5 75.1 L486.3 75.2" fill="none" stroke="#12c2f2" stroke-width="1.3" stroke-linejoin="round"/><path d="M415.1 80.4 L447.52 80.33 L448.02 80.26 L448.27 80.21 L448.52 80.14 L448.77 80.04 L449.02 79.91 L449.27 79.75 L449.52 79.53 L449.77 79.26 L450.02 78.91 L450.27 78.47 L450.52 77.93 L450.77 77.27 L451.02 76.46 L451.26 75.49 L451.51 74.34 L451.76 72.99 L452.01 71.42 L452.26 69.61 L452.51 67.57 L452.76 65.27 L453.01 62.72 L453.26 59.94 L453.51 56.93 L453.76 53.73 L454.01 50.37 L454.26 46.9 L454.51 43.36 L454.76 39.83 L455.01 36.37 L455.26 33.05 L455.5 29.95 L455.75 27.14 L456 24.68 L456.25 22.65 L456.5 21.09 L456.75 20.04 L457 19.54 L457.25 19.71 L457.5 20.99 L457.75 23.34 L458 26.64 L458.25 30.71 L458.5 35.35 L458.75 40.33 L459 45.44 L459.25 50.48 L459.5 55.28 L459.74 59.71 L459.99 63.68 L460.24 67.15 L460.49 70.09 L460.74 72.54 L460.99 74.52 L461.24 76.08 L461.49 77.29 L461.74 78.2 L461.99 78.88 L462.24 79.37 L462.49 79.71 L462.74 79.95 L462.99 80.11 L463.24 80.22 L463.49 80.29 L463.98 80.36 L478.7 80.4 Z" fill="#f07080" fill-opacity="0.6" stroke="none"/><path d="M415.1 80.4 L447.52 80.33 L448.02 80.26 L448.27 80.21 L448.52 80.14 L448.77 80.04 L449.02 79.91 L449.27 79.75 L449.52 79.53 L449.77 79.26 L450.02 78.91 L450.27 78.47 L450.52 77.93 L450.77 77.27 L451.02 76.46 L451.26 75.49 L451.51 74.34 L451.76 72.99 L452.01 71.42 L452.26 69.61 L452.51 67.57 L452.76 65.27 L453.01 62.72 L453.26 59.94 L453.51 56.93 L453.76 53.73 L454.01 50.37 L454.26 46.9 L454.51 43.36 L454.76 39.83 L455.01 36.37 L455.26 33.05 L455.5 29.95 L455.75 27.14 L456 24.68 L456.25 22.65 L456.5 21.09 L456.75 20.04 L457 19.54 L457.25 19.71 L457.5 20.99 L457.75 23.34 L458 26.64 L458.25 30.71 L458.5 35.35 L458.75 40.33 L459 45.44 L459.25 50.48 L459.5 55.28 L459.74 59.71 L459.99 63.68 L460.24 67.15 L460.49 70.09 L460.74 72.54 L460.99 74.52 L461.24 76.08 L461.49 77.29 L461.74 78.2 L461.99 78.88 L462.24 79.37 L462.49 79.71 L462.74 79.95 L462.99 80.11 L463.24 80.22 L463.49 80.29 L463.98 80.36 L478.7 80.4" fill="none" stroke="#ee2a3a" stroke-width="1.3" stroke-linejoin="round"/><path d="M407.5 85.6 L412.99 85.53 L413.74 85.45 L414.23 85.36 L414.48 85.3 L414.73 85.23 L414.98 85.15 L415.23 85.05 L415.48 84.94 L415.73 84.81 L415.98 84.67 L416.23 84.51 L416.48 84.34 L416.73 84.16 L416.98 83.96 L417.23 83.76 L417.48 83.56 L417.73 83.35 L417.98 83.15 L418.22 82.96 L418.47 82.78 L418.72 82.62 L418.97 82.48 L419.22 82.36 L419.47 82.28 L419.72 82.22 L420.47 82.26 L420.72 82.34 L420.97 82.45 L421.22 82.58 L421.47 82.74 L421.72 82.91 L421.97 83.1 L422.22 83.3 L422.46 83.51 L422.71 83.71 L422.96 83.92 L423.21 84.11 L423.46 84.3 L423.71 84.47 L423.96 84.63 L424.21 84.78 L424.46 84.91 L424.71 85.02 L424.96 85.12 L425.21 85.21 L425.46 85.29 L425.71 85.35 L425.96 85.4 L426.46 85.48 L426.95 85.53 L428.2 85.58 L436.93 85.53 L437.43 85.47 L437.68 85.43 L437.93 85.37 L438.18 85.3 L438.43 85.21 L438.68 85.09 L438.93 84.95 L439.18 84.78 L439.42 84.56 L439.67 84.31 L439.92 84.01 L440.17 83.65 L440.42 83.24 L440.67 82.76 L440.92 82.23 L441.17 81.63 L441.42 80.96 L441.67 80.23 L441.92 79.44 L442.17 78.6 L442.42 77.73 L442.67 76.82 L442.92 75.9 L443.17 74.97 L443.42 74.07 L443.66 73.21 L443.91 72.4 L444.16 71.67 L444.41 71.03 L444.66 70.5 L444.91 70.1 L445.16 69.83 L445.41 69.71 L445.66 69.73 L445.91 69.9 L446.16 70.2 L446.41 70.64 L446.66 71.2 L446.91 71.87 L447.16 72.62 L447.41 73.45 L447.66 74.32 L447.9 75.23 L448.15 76.16 L448.4 77.08 L448.65 77.98 L448.9 78.85 L449.15 79.67 L449.4 80.44 L449.65 81.15 L449.9 81.8 L450.15 82.39 L450.4 82.91 L450.65 83.36 L450.9 83.76 L451.15 84.1 L451.4 84.39 L451.65 84.63 L451.9 84.83 L452.14 84.99 L452.39 85.13 L452.64 85.24 L452.89 85.32 L453.14 85.39 L453.39 85.44 L453.89 85.51 L454.64 85.57 L471.1 85.6 Z" fill="#f5a050" fill-opacity="0.55" stroke="none"/><path d="M407.5 85.6 L412.99 85.53 L413.74 85.45 L414.23 85.36 L414.48 85.3 L414.73 85.23 L414.98 85.15 L415.23 85.05 L415.48 84.94 L415.73 84.81 L415.98 84.67 L416.23 84.51 L416.48 84.34 L416.73 84.16 L416.98 83.96 L417.23 83.76 L417.48 83.56 L417.73 83.35 L417.98 83.15 L418.22 82.96 L418.47 82.78 L418.72 82.62 L418.97 82.48 L419.22 82.36 L419.47 82.28 L419.72 82.22 L420.47 82.26 L420.72 82.34 L420.97 82.45 L421.22 82.58 L421.47 82.74 L421.72 82.91 L421.97 83.1 L422.22 83.3 L422.46 83.51 L422.71 83.71 L422.96 83.92 L423.21 84.11 L423.46 84.3 L423.71 84.47 L423.96 84.63 L424.21 84.78 L424.46 84.91 L424.71 85.02 L424.96 85.12 L425.21 85.21 L425.46 85.29 L425.71 85.35 L425.96 85.4 L426.46 85.48 L426.95 85.53 L428.2 85.58 L436.93 85.53 L437.43 85.47 L437.68 85.43 L437.93 85.37 L438.18 85.3 L438.43 85.21 L438.68 85.09 L438.93 84.95 L439.18 84.78 L439.42 84.56 L439.67 84.31 L439.92 84.01 L440.17 83.65 L440.42 83.24 L440.67 82.76 L440.92 82.23 L441.17 81.63 L441.42 80.96 L441.67 80.23 L441.92 79.44 L442.17 78.6 L442.42 77.73 L442.67 76.82 L442.92 75.9 L443.17 74.97 L443.42 74.07 L443.66 73.21 L443.91 72.4 L444.16 71.67 L444.41 71.03 L444.66 70.5 L444.91 70.1 L445.16 69.83 L445.41 69.71 L445.66 69.73 L445.91 69.9 L446.16 70.2 L446.41 70.64 L446.66 71.2 L446.91 71.87 L447.16 72.62 L447.41 73.45 L447.66 74.32 L447.9 75.23 L448.15 76.16 L448.4 77.08 L448.65 77.98 L448.9 78.85 L449.15 79.67 L449.4 80.44 L449.65 81.15 L449.9 81.8 L450.15 82.39 L450.4 82.91 L450.65 83.36 L450.9 83.76 L451.15 84.1 L451.4 84.39 L451.65 84.63 L451.9 84.83 L452.14 84.99 L452.39 85.13 L452.64 85.24 L452.89 85.32 L453.14 85.39 L453.39 85.44 L453.89 85.51 L454.64 85.57 L471.1 85.6" fill="none" stroke="#f7941d" stroke-width="1.2" stroke-linejoin="round"/><g font-size="4.9" font-weight="bold" fill="#707070" text-anchor="middle"><text x="415.5" y="91.8">0</text><text x="435.3" y="91.8">10<tspan font-size="3.3" dy="-1.7">3</tspan></text><text x="450.2" y="91.8">10<tspan font-size="3.3" dy="-1.7">4</tspan></text><text x="465" y="91.8">10<tspan font-size="3.3" dy="-1.7">5</tspan></text></g><line x1="415.5" y1="85.6" x2="415.5" y2="86.8" stroke="#333" stroke-width="0.7"/><line x1="435.3" y1="85.6" x2="435.3" y2="86.8" stroke="#333" stroke-width="0.7"/><line x1="450.2" y1="85.6" x2="450.2" y2="86.8" stroke="#333" stroke-width="0.7"/><line x1="465" y1="85.6" x2="465" y2="86.8" stroke="#333" stroke-width="0.7"/><text x="442.6" y="98.9" font-size="7.6" font-weight="bold" text-anchor="middle" fill="#111" stroke="#111" stroke-width="0.2">CD166</text><line x1="445.8" y1="23.8" x2="448.4" y2="26.7" stroke="#000" stroke-width="1.2"/><text transform="translate(431.2 22.2) scale(0.9 1)" font-size="6.4" font-weight="bold" fill="#1a1a1a" stroke="#1a1a1a" stroke-width="0.15">84.6%</text><line x1="438.8" y1="38.4" x2="441.7" y2="41.3" stroke="#16c0ee" stroke-width="1.2"/><text transform="translate(427.6 36) scale(0.9 1)" font-size="6.4" font-weight="bold" fill="#1a1a1a" stroke="#1a1a1a" stroke-width="0.15">86%</text><line x1="461.8" y1="28.9" x2="464.7" y2="27.2" stroke="#ee2a3a" stroke-width="1.2"/><text transform="translate(465.8 26.9) scale(0.9 1)" font-size="6.4" font-weight="bold" fill="#1a1a1a" stroke="#1a1a1a" stroke-width="0.15">99%</text><line x1="413" y1="66" x2="419.6" y2="78.4" stroke="#f7941d" stroke-width="1.2"/><text transform="translate(404 64.4) scale(0.9 1)" font-size="6.4" font-weight="bold" fill="#1a1a1a" stroke="#1a1a1a" stroke-width="0.15">84%</text></g><g><path d="M24 181.5 L87.6 181.5 L110.4 165.9 L46.8 165.9 Z" fill="#ececec" fill-opacity="0.7"/><line x1="24" y1="181.5" x2="46.8" y2="165.9" stroke="#333" stroke-width="0.75"/><line x1="31.5" y1="181.5" x2="54.3" y2="165.9" stroke="#333" stroke-width="0.75"/><line x1="46.8" y1="181.5" x2="69.6" y2="165.9" stroke="#333" stroke-width="0.75"/><line x1="62.1" y1="181.5" x2="84.9" y2="165.9" stroke="#333" stroke-width="0.75"/><line x1="77.4" y1="181.5" x2="100.2" y2="165.9" stroke="#333" stroke-width="0.75"/><line x1="87.6" y1="181.5" x2="110.4" y2="165.9" stroke="#333" stroke-width="0.75"/><path d="M46.8 165.9 L50 165.9 L50.71 165.74 L51.43 165.59 L52.14 165.43 L52.86 165.27 L53.57 165.11 L54.29 164.96 L55 164.8 L56.43 164.71 L57.86 164.63 L59.29 164.54 L60 164.5 L60.71 164.43 L61.43 164.24 L62.14 164.15 L62.86 164.3 L63.57 164.06 L64.29 163.95 L65 163.84 L65.71 164 L66.43 163.88 L67.14 163.65 L67.86 163.32 L68.57 163.15 L69.29 163.03 L70 162.98 L70.75 162.4 L71.5 162.21 L72.25 161.68 L73 161.91 L73.43 161.33 L73.86 160.27 L74.29 159.26 L74.71 159.49 L75.14 158.06 L75.57 157.47 L76 156.4 L76.25 156.19 L76.5 155.64 L76.75 155 L77 153.97 L77.25 153.67 L77.5 152.41 L77.75 152.05 L78 151.17 L78.25 150.88 L78.5 149.78 L78.75 149.09 L79 148.77 L79.42 148.1 L79.83 147.94 L80.25 147.29 L80.67 146.97 L81.08 146.27 L81.5 145.76 L82.17 145.69 L82.83 144.83 L83.5 144.49 L84 145.86 L84.5 145.43 L85 146.69 L85.5 147.17 L85.72 147.12 L85.94 148.74 L86.17 149.47 L86.39 149.82 L86.61 150.61 L86.83 151.37 L87.06 151.23 L87.28 152.36 L87.5 153.01 L87.7 154.1 L87.9 154.77 L88.1 155.49 L88.3 155.9 L88.5 156.97 L88.7 157.42 L88.9 158.13 L89.1 158.28 L89.3 158.74 L89.5 159.57 L89.83 160.52 L90.17 160.97 L90.5 162.26 L90.83 162.7 L91.17 163.4 L91.5 164.05 L92.12 164.47 L92.75 164.95 L93.38 165.43 L94 165.9 L110.4 165.9 Z" fill="#a8a8a8" fill-opacity="0.85" stroke="none"/><path d="M46.8 165.9 L50 165.9 L50.71 165.74 L51.43 165.59 L52.14 165.43 L52.86 165.27 L53.57 165.11 L54.29 164.96 L55 164.8 L56.43 164.71 L57.86 164.63 L59.29 164.54 L60 164.5 L60.71 164.43 L61.43 164.24 L62.14 164.15 L62.86 164.3 L63.57 164.06 L64.29 163.95 L65 163.84 L65.71 164 L66.43 163.88 L67.14 163.65 L67.86 163.32 L68.57 163.15 L69.29 163.03 L70 162.98 L70.75 162.4 L71.5 162.21 L72.25 161.68 L73 161.91 L73.43 161.33 L73.86 160.27 L74.29 159.26 L74.71 159.49 L75.14 158.06 L75.57 157.47 L76 156.4 L76.25 156.19 L76.5 155.64 L76.75 155 L77 153.97 L77.25 153.67 L77.5 152.41 L77.75 152.05 L78 151.17 L78.25 150.88 L78.5 149.78 L78.75 149.09 L79 148.77 L79.42 148.1 L79.83 147.94 L80.25 147.29 L80.67 146.97 L81.08 146.27 L81.5 145.76 L82.17 145.69 L82.83 144.83 L83.5 144.49 L84 145.86 L84.5 145.43 L85 146.69 L85.5 147.17 L85.72 147.12 L85.94 148.74 L86.17 149.47 L86.39 149.82 L86.61 150.61 L86.83 151.37 L87.06 151.23 L87.28 152.36 L87.5 153.01 L87.7 154.1 L87.9 154.77 L88.1 155.49 L88.3 155.9 L88.5 156.97 L88.7 157.42 L88.9 158.13 L89.1 158.28 L89.3 158.74 L89.5 159.57 L89.83 160.52 L90.17 160.97 L90.5 162.26 L90.83 162.7 L91.17 163.4 L91.5 164.05 L92.12 164.47 L92.75 164.95 L93.38 165.43 L94 165.9 L110.4 165.9" fill="none" stroke="#000000" stroke-width="1.75" stroke-linejoin="round"/><path d="M39.2 171.1 L45.19 171.04 L45.93 170.95 L46.18 170.91 L46.43 170.81 L46.68 170.46 L46.93 169.78 L47.18 168.55 L47.43 166.47 L47.68 163.2 L47.93 158.42 L48.18 151.98 L48.43 144.02 L48.68 135.05 L48.93 126 L49.18 118.09 L49.43 112.54 L49.68 110.32 L49.92 111.14 L50.17 113.94 L50.42 118.43 L50.67 124.21 L50.92 130.75 L51.17 137.54 L51.42 144.13 L51.67 150.15 L51.92 155.37 L52.17 159.69 L52.42 163.1 L52.67 165.68 L52.92 166.54 L53.17 166.6 L53.42 166.68 L53.67 166.8 L53.92 166.93 L54.16 167.08 L54.41 167.25 L54.66 167.44 L54.91 167.64 L55.16 167.85 L55.41 168.06 L55.66 168.28 L55.91 168.49 L56.16 168.71 L56.41 168.92 L56.66 169.12 L56.91 169.32 L57.16 169.51 L57.41 169.68 L57.66 169.84 L57.91 170 L58.16 170.13 L58.4 170.26 L58.65 170.38 L58.9 170.48 L59.15 170.57 L59.4 170.65 L59.65 170.72 L59.9 170.78 L60.15 170.84 L60.65 170.92 L61.15 170.98 L61.9 171.04 L63.64 171.09 L102.8 171.1 Z" fill="#22cef8" fill-opacity="0.75" stroke="none"/><path d="M39.2 171.1 L45.19 171.04 L45.93 170.95 L46.18 170.91 L46.43 170.81 L46.68 170.46 L46.93 169.78 L47.18 168.55 L47.43 166.47 L47.68 163.2 L47.93 158.42 L48.18 151.98 L48.43 144.02 L48.68 135.05 L48.93 126 L49.18 118.09 L49.43 112.54 L49.68 110.32 L49.92 111.14 L50.17 113.94 L50.42 118.43 L50.67 124.21 L50.92 130.75 L51.17 137.54 L51.42 144.13 L51.67 150.15 L51.92 155.37 L52.17 159.69 L52.42 163.1 L52.67 165.68 L52.92 166.54 L53.17 166.6 L53.42 166.68 L53.67 166.8 L53.92 166.93 L54.16 167.08 L54.41 167.25 L54.66 167.44 L54.91 167.64 L55.16 167.85 L55.41 168.06 L55.66 168.28 L55.91 168.49 L56.16 168.71 L56.41 168.92 L56.66 169.12 L56.91 169.32 L57.16 169.51 L57.41 169.68 L57.66 169.84 L57.91 170 L58.16 170.13 L58.4 170.26 L58.65 170.38 L58.9 170.48 L59.15 170.57 L59.4 170.65 L59.65 170.72 L59.9 170.78 L60.15 170.84 L60.65 170.92 L61.15 170.98 L61.9 171.04 L63.64 171.09 L102.8 171.1" fill="none" stroke="#12c2f2" stroke-width="1.3" stroke-linejoin="round"/><path d="M31.6 176.3 L38.83 176.24 L39.33 176.18 L39.58 176.12 L39.83 176.05 L40.08 175.95 L40.33 175.82 L40.58 175.64 L40.83 175.42 L41.08 175.13 L41.33 174.76 L41.58 174.3 L41.83 173.73 L42.08 173.04 L42.32 172.21 L42.57 171.23 L42.82 170.09 L43.07 168.78 L43.32 167.3 L43.57 165.66 L43.82 163.87 L44.07 161.95 L44.32 159.92 L44.57 157.82 L44.82 155.7 L45.07 153.6 L45.32 151.58 L45.57 149.7 L45.82 148.01 L46.07 146.56 L46.32 145.4 L46.56 144.57 L46.81 144.11 L47.06 144.01 L47.31 144.18 L47.56 144.56 L47.81 145.16 L48.06 145.96 L48.31 146.94 L48.56 148.08 L48.81 149.37 L49.06 150.78 L49.31 152.28 L49.56 153.84 L49.81 155.45 L50.06 157.08 L50.31 158.7 L50.56 160.3 L50.8 161.85 L51.05 163.34 L51.3 164.76 L51.55 166.09 L51.8 167.33 L52.05 168.48 L52.3 169.52 L52.55 170.47 L52.8 171.32 L53.05 172.07 L53.3 172.74 L53.55 173.32 L53.8 173.82 L54.05 174.25 L54.3 174.62 L54.55 174.93 L54.8 175.2 L55.04 175.41 L55.29 175.59 L55.54 175.74 L55.79 175.86 L56.04 175.96 L56.29 176.03 L56.54 176.09 L57.04 176.18 L57.54 176.23 L58.79 176.29 L95.2 176.3 Z" fill="#f07080" fill-opacity="0.6" stroke="none"/><path d="M31.6 176.3 L38.83 176.24 L39.33 176.18 L39.58 176.12 L39.83 176.05 L40.08 175.95 L40.33 175.82 L40.58 175.64 L40.83 175.42 L41.08 175.13 L41.33 174.76 L41.58 174.3 L41.83 173.73 L42.08 173.04 L42.32 172.21 L42.57 171.23 L42.82 170.09 L43.07 168.78 L43.32 167.3 L43.57 165.66 L43.82 163.87 L44.07 161.95 L44.32 159.92 L44.57 157.82 L44.82 155.7 L45.07 153.6 L45.32 151.58 L45.57 149.7 L45.82 148.01 L46.07 146.56 L46.32 145.4 L46.56 144.57 L46.81 144.11 L47.06 144.01 L47.31 144.18 L47.56 144.56 L47.81 145.16 L48.06 145.96 L48.31 146.94 L48.56 148.08 L48.81 149.37 L49.06 150.78 L49.31 152.28 L49.56 153.84 L49.81 155.45 L50.06 157.08 L50.31 158.7 L50.56 160.3 L50.8 161.85 L51.05 163.34 L51.3 164.76 L51.55 166.09 L51.8 167.33 L52.05 168.48 L52.3 169.52 L52.55 170.47 L52.8 171.32 L53.05 172.07 L53.3 172.74 L53.55 173.32 L53.8 173.82 L54.05 174.25 L54.3 174.62 L54.55 174.93 L54.8 175.2 L55.04 175.41 L55.29 175.59 L55.54 175.74 L55.79 175.86 L56.04 175.96 L56.29 176.03 L56.54 176.09 L57.04 176.18 L57.54 176.23 L58.79 176.29 L95.2 176.3 L95.2 174.5" fill="none" stroke="#ee2a3a" stroke-width="1.3" stroke-linejoin="round"/><path d="M24 181.5 L32.23 181.43 L32.48 181.39 L32.73 181.32 L32.98 181.22 L33.23 181.07 L33.48 180.86 L33.73 180.57 L33.98 180.19 L34.23 179.7 L34.48 179.07 L34.72 178.31 L34.97 177.41 L35.22 176.39 L35.47 175.25 L35.72 174.06 L35.97 172.84 L36.22 171.67 L36.47 170.6 L36.72 169.71 L36.97 169.06 L37.22 168.68 L37.47 168.6 L37.72 168.7 L37.97 168.9 L38.22 169.22 L38.47 169.64 L38.72 170.15 L38.96 170.74 L39.21 171.39 L39.46 172.09 L39.71 172.82 L39.96 173.56 L40.21 174.31 L40.46 175.05 L40.71 175.77 L40.96 176.45 L41.21 177.09 L41.46 177.69 L41.71 178.23 L41.96 178.72 L42.21 179.16 L42.46 179.55 L42.71 179.89 L42.96 180.18 L43.2 180.43 L43.45 180.64 L43.7 180.82 L43.95 180.96 L44.2 181.08 L44.45 181.17 L44.7 181.25 L44.95 181.31 L45.45 181.39 L46.2 181.46 L87.6 181.5 Z" fill="#f5a050" fill-opacity="0.55" stroke="none"/><path d="M24 181.5 L32.23 181.43 L32.48 181.39 L32.73 181.32 L32.98 181.22 L33.23 181.07 L33.48 180.86 L33.73 180.57 L33.98 180.19 L34.23 179.7 L34.48 179.07 L34.72 178.31 L34.97 177.41 L35.22 176.39 L35.47 175.25 L35.72 174.06 L35.97 172.84 L36.22 171.67 L36.47 170.6 L36.72 169.71 L36.97 169.06 L37.22 168.68 L37.47 168.6 L37.72 168.7 L37.97 168.9 L38.22 169.22 L38.47 169.64 L38.72 170.15 L38.96 170.74 L39.21 171.39 L39.46 172.09 L39.71 172.82 L39.96 173.56 L40.21 174.31 L40.46 175.05 L40.71 175.77 L40.96 176.45 L41.21 177.09 L41.46 177.69 L41.71 178.23 L41.96 178.72 L42.21 179.16 L42.46 179.55 L42.71 179.89 L42.96 180.18 L43.2 180.43 L43.45 180.64 L43.7 180.82 L43.95 180.96 L44.2 181.08 L44.45 181.17 L44.7 181.25 L44.95 181.31 L45.45 181.39 L46.2 181.46 L87.6 181.5" fill="none" stroke="#f7941d" stroke-width="1.2" stroke-linejoin="round"/><g font-size="4.9" font-weight="bold" fill="#707070" text-anchor="middle"><text x="32" y="187.7">0</text><text x="51.8" y="187.7">10<tspan font-size="3.3" dy="-1.7">3</tspan></text><text x="66.7" y="187.7">10<tspan font-size="3.3" dy="-1.7">4</tspan></text><text x="81.5" y="187.7">10<tspan font-size="3.3" dy="-1.7">5</tspan></text></g><line x1="32" y1="181.5" x2="32" y2="182.7" stroke="#333" stroke-width="0.7"/><line x1="51.8" y1="181.5" x2="51.8" y2="182.7" stroke="#333" stroke-width="0.7"/><line x1="66.7" y1="181.5" x2="66.7" y2="182.7" stroke="#333" stroke-width="0.7"/><line x1="81.5" y1="181.5" x2="81.5" y2="182.7" stroke="#333" stroke-width="0.7"/><text x="58.2" y="194.8" font-size="7.6" font-weight="bold" text-anchor="middle" fill="#111" stroke="#111" stroke-width="0.2">CD63</text><line x1="31" y1="161" x2="35.5" y2="167" stroke="#f7941d" stroke-width="1.2"/><text transform="translate(17.9 159.3) scale(0.9 1)" font-size="6.4" font-weight="bold" fill="#1a1a1a" stroke="#1a1a1a" stroke-width="0.15">21.8%</text><line x1="40" y1="146" x2="44.5" y2="150" stroke="#ee2a3a" stroke-width="1.2"/><text transform="translate(23.9 144.6) scale(0.9 1)" font-size="6.4" font-weight="bold" fill="#1a1a1a" stroke="#1a1a1a" stroke-width="0.15">36.9%</text><line x1="41" y1="125" x2="47.5" y2="125" stroke="#16c0ee" stroke-width="1.2"/><text transform="translate(27.8 127.2) scale(0.9 1)" font-size="6.4" font-weight="bold" fill="#1a1a1a" stroke="#1a1a1a" stroke-width="0.15">2.5%</text><line x1="88.5" y1="150" x2="92" y2="148" stroke="#000" stroke-width="1.2"/><text transform="translate(93 149.4) scale(0.9 1)" font-size="6.4" font-weight="bold" fill="#1a1a1a" stroke="#1a1a1a" stroke-width="0.15">98.6%</text></g><g><path d="M120 181.5 L183.6 181.5 L206.4 165.9 L142.8 165.9 Z" fill="#ececec" fill-opacity="0.7"/><line x1="120" y1="181.5" x2="142.8" y2="165.9" stroke="#333" stroke-width="0.75"/><line x1="127.5" y1="181.5" x2="150.3" y2="165.9" stroke="#333" stroke-width="0.75"/><line x1="142.8" y1="181.5" x2="165.6" y2="165.9" stroke="#333" stroke-width="0.75"/><line x1="158.1" y1="181.5" x2="180.9" y2="165.9" stroke="#333" stroke-width="0.75"/><line x1="173.4" y1="181.5" x2="196.2" y2="165.9" stroke="#333" stroke-width="0.75"/><line x1="183.6" y1="181.5" x2="206.4" y2="165.9" stroke="#333" stroke-width="0.75"/><path d="M142.8 165.9 L155.52 165.85 L156.27 165.79 L157.02 165.68 L157.76 165.48 L158.51 165.13 L159.26 164.56 L160.01 163.74 L160.76 162.32 L161.51 159.89 L162.25 158.24 L163 154.95 L163.75 150.78 L164.5 146.48 L165.25 142.09 L166 137.04 L166.74 134.14 L167.49 130.89 L168.24 129.38 L168.99 129.91 L169.74 132.52 L170.48 135.42 L171.23 140.57 L171.98 145.78 L172.73 150.01 L173.48 154.19 L174.23 157.86 L174.97 160.82 L175.72 162.78 L176.47 163.99 L177.22 164.8 L177.97 165.31 L178.72 165.6 L179.46 165.76 L180.21 165.83 L181.71 165.89 L206.4 165.9 Z" fill="#a8a8a8" fill-opacity="0.85" stroke="none"/><path d="M142.8 165.9 L155.52 165.85 L156.27 165.79 L157.02 165.68 L157.76 165.48 L158.51 165.13 L159.26 164.56 L160.01 163.74 L160.76 162.32 L161.51 159.89 L162.25 158.24 L163 154.95 L163.75 150.78 L164.5 146.48 L165.25 142.09 L166 137.04 L166.74 134.14 L167.49 130.89 L168.24 129.38 L168.99 129.91 L169.74 132.52 L170.48 135.42 L171.23 140.57 L171.98 145.78 L172.73 150.01 L173.48 154.19 L174.23 157.86 L174.97 160.82 L175.72 162.78 L176.47 163.99 L177.22 164.8 L177.97 165.31 L178.72 165.6 L179.46 165.76 L180.21 165.83 L181.71 165.89 L206.4 165.9" fill="none" stroke="#000000" stroke-width="1.75" stroke-linejoin="round"/><path d="M135.2 171.1 L147.92 171.04 L148.67 170.98 L149.17 170.9 L149.42 170.84 L149.67 170.77 L149.92 170.69 L150.16 170.59 L150.41 170.46 L150.66 170.31 L150.91 170.12 L151.16 169.9 L151.41 169.63 L151.66 169.32 L151.91 168.95 L152.16 168.52 L152.41 168.02 L152.66 167.45 L152.91 166.78 L153.16 166.03 L153.41 165.18 L153.66 164.21 L153.91 163.14 L154.16 161.95 L154.4 160.63 L154.65 159.2 L154.9 157.63 L155.15 155.94 L155.4 154.14 L155.65 152.21 L155.9 150.19 L156.15 148.07 L156.4 145.87 L156.65 143.61 L156.9 141.31 L157.15 138.99 L157.4 136.67 L157.65 134.39 L157.9 132.16 L158.15 130.03 L158.4 128 L158.64 126.12 L158.89 124.41 L159.14 122.89 L159.39 121.6 L159.64 120.53 L159.89 119.73 L160.14 119.19 L160.39 118.93 L160.64 118.94 L160.89 119.24 L161.14 119.81 L161.39 120.65 L161.64 121.74 L161.89 123.07 L162.14 124.61 L162.39 126.34 L162.64 128.24 L162.88 130.28 L163.13 132.43 L163.38 134.67 L163.63 136.96 L163.88 139.27 L164.13 141.59 L164.38 143.89 L164.63 146.14 L164.88 148.33 L165.13 150.44 L165.38 152.46 L165.63 154.36 L165.88 156.16 L166.13 157.83 L166.38 159.38 L166.63 160.8 L166.88 162.1 L167.12 163.28 L167.37 164.34 L167.62 165.29 L167.87 166.13 L168.12 166.87 L168.37 167.52 L168.62 168.09 L168.87 168.58 L169.12 169 L169.37 169.36 L169.62 169.67 L169.87 169.93 L170.12 170.14 L170.37 170.33 L170.62 170.48 L170.87 170.6 L171.12 170.7 L171.36 170.78 L171.61 170.85 L171.86 170.9 L172.36 170.98 L173.11 171.05 L175.36 171.1 L198.8 171.1 Z" fill="#22cef8" fill-opacity="0.75" stroke="none"/><path d="M135.2 171.1 L147.92 171.04 L148.67 170.98 L149.17 170.9 L149.42 170.84 L149.67 170.77 L149.92 170.69 L150.16 170.59 L150.41 170.46 L150.66 170.31 L150.91 170.12 L151.16 169.9 L151.41 169.63 L151.66 169.32 L151.91 168.95 L152.16 168.52 L152.41 168.02 L152.66 167.45 L152.91 166.78 L153.16 166.03 L153.41 165.18 L153.66 164.21 L153.91 163.14 L154.16 161.95 L154.4 160.63 L154.65 159.2 L154.9 157.63 L155.15 155.94 L155.4 154.14 L155.65 152.21 L155.9 150.19 L156.15 148.07 L156.4 145.87 L156.65 143.61 L156.9 141.31 L157.15 138.99 L157.4 136.67 L157.65 134.39 L157.9 132.16 L158.15 130.03 L158.4 128 L158.64 126.12 L158.89 124.41 L159.14 122.89 L159.39 121.6 L159.64 120.53 L159.89 119.73 L160.14 119.19 L160.39 118.93 L160.64 118.94 L160.89 119.24 L161.14 119.81 L161.39 120.65 L161.64 121.74 L161.89 123.07 L162.14 124.61 L162.39 126.34 L162.64 128.24 L162.88 130.28 L163.13 132.43 L163.38 134.67 L163.63 136.96 L163.88 139.27 L164.13 141.59 L164.38 143.89 L164.63 146.14 L164.88 148.33 L165.13 150.44 L165.38 152.46 L165.63 154.36 L165.88 156.16 L166.13 157.83 L166.38 159.38 L166.63 160.8 L166.88 162.1 L167.12 163.28 L167.37 164.34 L167.62 165.29 L167.87 166.13 L168.12 166.87 L168.37 167.52 L168.62 168.09 L168.87 168.58 L169.12 169 L169.37 169.36 L169.62 169.67 L169.87 169.93 L170.12 170.14 L170.37 170.33 L170.62 170.48 L170.87 170.6 L171.12 170.7 L171.36 170.78 L171.61 170.85 L171.86 170.9 L172.36 170.98 L173.11 171.05 L175.36 171.1 L198.8 171.1 L198.8 161.1" fill="none" stroke="#12c2f2" stroke-width="1.3" stroke-linejoin="round"/><path d="M127.6 176.3 L136.83 176.23 L137.33 176.18 L137.58 176.14 L137.83 176.08 L138.08 176.01 L138.32 175.92 L138.57 175.81 L138.82 175.67 L139.07 175.49 L139.32 175.27 L139.57 175 L139.82 174.67 L140.07 174.26 L140.32 173.78 L140.57 173.2 L140.82 172.51 L141.07 171.71 L141.32 170.77 L141.57 169.69 L141.82 168.44 L142.07 167.03 L142.32 165.44 L142.56 163.67 L142.81 161.71 L143.06 159.56 L143.31 157.22 L143.56 154.71 L143.81 152.04 L144.06 149.22 L144.31 146.29 L144.56 143.26 L144.81 140.18 L145.06 137.09 L145.31 134.02 L145.56 131.03 L145.81 128.16 L146.06 125.46 L146.31 122.98 L146.56 120.77 L146.8 118.86 L147.05 117.29 L147.3 116.1 L147.55 115.31 L147.8 114.93 L148.05 114.97 L148.3 115.41 L148.55 116.24 L148.8 117.43 L149.05 118.98 L149.3 120.84 L149.55 122.99 L149.8 125.39 L150.05 127.99 L150.3 130.76 L150.55 133.64 L150.8 136.6 L151.04 139.6 L151.29 142.58 L151.54 145.52 L151.79 148.39 L152.04 151.16 L152.29 153.79 L152.54 156.28 L152.79 158.61 L153.04 160.77 L153.29 162.75 L153.54 164.56 L153.79 166.19 L154.04 167.65 L154.29 168.95 L154.54 170.09 L154.79 171.09 L155.04 171.96 L155.28 172.7 L155.53 173.34 L155.78 173.88 L156.03 174.33 L156.28 174.71 L156.53 175.03 L156.78 175.29 L157.03 175.5 L157.28 175.67 L157.53 175.81 L157.78 175.92 L158.03 176 L158.28 176.07 L158.53 176.13 L159.03 176.2 L159.77 176.26 L191.2 176.3 Z" fill="#f07080" fill-opacity="0.6" stroke="none"/><path d="M127.6 176.3 L136.83 176.23 L137.33 176.18 L137.58 176.14 L137.83 176.08 L138.08 176.01 L138.32 175.92 L138.57 175.81 L138.82 175.67 L139.07 175.49 L139.32 175.27 L139.57 175 L139.82 174.67 L140.07 174.26 L140.32 173.78 L140.57 173.2 L140.82 172.51 L141.07 171.71 L141.32 170.77 L141.57 169.69 L141.82 168.44 L142.07 167.03 L142.32 165.44 L142.56 163.67 L142.81 161.71 L143.06 159.56 L143.31 157.22 L143.56 154.71 L143.81 152.04 L144.06 149.22 L144.31 146.29 L144.56 143.26 L144.81 140.18 L145.06 137.09 L145.31 134.02 L145.56 131.03 L145.81 128.16 L146.06 125.46 L146.31 122.98 L146.56 120.77 L146.8 118.86 L147.05 117.29 L147.3 116.1 L147.55 115.31 L147.8 114.93 L148.05 114.97 L148.3 115.41 L148.55 116.24 L148.8 117.43 L149.05 118.98 L149.3 120.84 L149.55 122.99 L149.8 125.39 L150.05 127.99 L150.3 130.76 L150.55 133.64 L150.8 136.6 L151.04 139.6 L151.29 142.58 L151.54 145.52 L151.79 148.39 L152.04 151.16 L152.29 153.79 L152.54 156.28 L152.79 158.61 L153.04 160.77 L153.29 162.75 L153.54 164.56 L153.79 166.19 L154.04 167.65 L154.29 168.95 L154.54 170.09 L154.79 171.09 L155.04 171.96 L155.28 172.7 L155.53 173.34 L155.78 173.88 L156.03 174.33 L156.28 174.71 L156.53 175.03 L156.78 175.29 L157.03 175.5 L157.28 175.67 L157.53 175.81 L157.78 175.92 L158.03 176 L158.28 176.07 L158.53 176.13 L159.03 176.2 L159.77 176.26 L191.2 176.3" fill="none" stroke="#ee2a3a" stroke-width="1.3" stroke-linejoin="round"/><path d="M120 181.5 L136.96 181.43 L137.21 181.39 L137.46 181.33 L137.71 181.26 L137.96 181.15 L138.21 181 L138.46 180.8 L138.71 180.54 L138.96 180.2 L139.2 179.76 L139.45 179.22 L139.7 178.55 L139.95 177.75 L140.2 176.8 L140.45 175.7 L140.7 174.45 L140.95 173.06 L141.2 171.57 L141.45 169.98 L141.7 168.35 L141.95 166.71 L142.2 165.13 L142.45 163.67 L142.7 162.37 L142.95 161.29 L143.2 160.48 L143.44 159.98 L143.69 159.8 L143.94 159.96 L144.19 160.45 L144.44 161.24 L144.69 162.31 L144.94 163.6 L145.19 165.06 L145.44 166.64 L145.69 168.27 L145.94 169.9 L146.19 171.49 L146.44 173 L146.69 174.39 L146.94 175.64 L147.19 176.75 L147.44 177.71 L147.68 178.52 L147.93 179.19 L148.18 179.74 L148.43 180.18 L148.68 180.53 L148.93 180.79 L149.18 180.99 L149.43 181.14 L149.68 181.25 L149.93 181.33 L150.18 181.39 L150.68 181.45 L183.6 181.5 Z" fill="#f5a050" fill-opacity="0.55" stroke="none"/><path d="M120 181.5 L136.96 181.43 L137.21 181.39 L137.46 181.33 L137.71 181.26 L137.96 181.15 L138.21 181 L138.46 180.8 L138.71 180.54 L138.96 180.2 L139.2 179.76 L139.45 179.22 L139.7 178.55 L139.95 177.75 L140.2 176.8 L140.45 175.7 L140.7 174.45 L140.95 173.06 L141.2 171.57 L141.45 169.98 L141.7 168.35 L141.95 166.71 L142.2 165.13 L142.45 163.67 L142.7 162.37 L142.95 161.29 L143.2 160.48 L143.44 159.98 L143.69 159.8 L143.94 159.96 L144.19 160.45 L144.44 161.24 L144.69 162.31 L144.94 163.6 L145.19 165.06 L145.44 166.64 L145.69 168.27 L145.94 169.9 L146.19 171.49 L146.44 173 L146.69 174.39 L146.94 175.64 L147.19 176.75 L147.44 177.71 L147.68 178.52 L147.93 179.19 L148.18 179.74 L148.43 180.18 L148.68 180.53 L148.93 180.79 L149.18 180.99 L149.43 181.14 L149.68 181.25 L149.93 181.33 L150.18 181.39 L150.68 181.45 L183.6 181.5 L183.6 177.5" fill="none" stroke="#f7941d" stroke-width="1.2" stroke-linejoin="round"/><g font-size="4.9" font-weight="bold" fill="#707070" text-anchor="middle"><text x="128" y="187.7">0</text><text x="147.8" y="187.7">10<tspan font-size="3.3" dy="-1.7">3</tspan></text><text x="162.7" y="187.7">10<tspan font-size="3.3" dy="-1.7">4</tspan></text><text x="177.5" y="187.7">10<tspan font-size="3.3" dy="-1.7">5</tspan></text></g><line x1="128" y1="181.5" x2="128" y2="182.7" stroke="#333" stroke-width="0.7"/><line x1="147.8" y1="181.5" x2="147.8" y2="182.7" stroke="#333" stroke-width="0.7"/><line x1="162.7" y1="181.5" x2="162.7" y2="182.7" stroke="#333" stroke-width="0.7"/><line x1="177.5" y1="181.5" x2="177.5" y2="182.7" stroke="#333" stroke-width="0.7"/><text x="154" y="194.8" font-size="7.6" font-weight="bold" text-anchor="middle" fill="#111" stroke="#111" stroke-width="0.2">CD44</text><line x1="137" y1="163" x2="141" y2="168" stroke="#f7941d" stroke-width="1.2"/><text transform="translate(121.1 163.3) scale(0.9 1)" font-size="6.4" font-weight="bold" fill="#1a1a1a" stroke="#1a1a1a" stroke-width="0.15">95.7%</text><line x1="136.9" y1="120.9" x2="143.7" y2="121.8" stroke="#ee2a3a" stroke-width="1.2"/><text transform="translate(119.5 121.7) scale(0.9 1)" font-size="6.4" font-weight="bold" fill="#1a1a1a" stroke="#1a1a1a" stroke-width="0.15">85.6%</text><line x1="163" y1="121" x2="166" y2="117" stroke="#16c0ee" stroke-width="1.2"/><text transform="translate(166.9 117.2) scale(0.9 1)" font-size="6.4" font-weight="bold" fill="#1a1a1a" stroke="#1a1a1a" stroke-width="0.15">97.3%</text><line x1="174" y1="140" x2="177" y2="138" stroke="#000" stroke-width="1.2"/><text transform="translate(177.8 138.1) scale(0.9 1)" font-size="6.4" font-weight="bold" fill="#1a1a1a" stroke="#1a1a1a" stroke-width="0.15">95.6%</text></g><g><path d="M216 181.5 L279.6 181.5 L302.4 165.9 L238.8 165.9 Z" fill="#ececec" fill-opacity="0.7"/><line x1="216" y1="181.5" x2="238.8" y2="165.9" stroke="#333" stroke-width="0.75"/><line x1="223.5" y1="181.5" x2="246.3" y2="165.9" stroke="#333" stroke-width="0.75"/><line x1="238.8" y1="181.5" x2="261.6" y2="165.9" stroke="#333" stroke-width="0.75"/><line x1="254.1" y1="181.5" x2="276.9" y2="165.9" stroke="#333" stroke-width="0.75"/><line x1="269.4" y1="181.5" x2="292.2" y2="165.9" stroke="#333" stroke-width="0.75"/><line x1="279.6" y1="181.5" x2="302.4" y2="165.9" stroke="#333" stroke-width="0.75"/><path d="M238.8 165.9 L243 165.9 L243.38 165.18 L243.75 164.45 L244.12 163.79 L244.5 162.75 L244.79 162.03 L245.07 161.36 L245.36 161.1 L245.64 159.92 L245.93 159.51 L246.21 158.13 L246.5 157.47 L246.75 157.06 L247 156.87 L247.25 156.23 L247.5 155.54 L247.75 154.42 L248 154.02 L248.5 153.46 L249 152.96 L249.5 152.04 L249.93 152.37 L250.37 150.94 L250.8 151.27 L251.2 151.99 L251.6 151.65 L252 152.95 L252.5 152.88 L253 152.56 L253.25 152.61 L253.5 153.06 L253.75 153.65 L254 155.2 L254.25 154.99 L254.5 156.1 L254.71 156.28 L254.93 157.46 L255.14 158.69 L255.36 158.42 L255.57 159.96 L255.79 160.3 L256 161.38 L256.4 161.87 L256.8 162.21 L257.2 163.32 L257.6 163.79 L258 164.5 L258.67 164.97 L259.33 165.43 L260 165.9 L302.4 165.9 Z" fill="#a8a8a8" fill-opacity="0.85" stroke="none"/><path d="M238.8 165.9 L243 165.9 L243.38 165.18 L243.75 164.45 L244.12 163.79 L244.5 162.75 L244.79 162.03 L245.07 161.36 L245.36 161.1 L245.64 159.92 L245.93 159.51 L246.21 158.13 L246.5 157.47 L246.75 157.06 L247 156.87 L247.25 156.23 L247.5 155.54 L247.75 154.42 L248 154.02 L248.5 153.46 L249 152.96 L249.5 152.04 L249.93 152.37 L250.37 150.94 L250.8 151.27 L251.2 151.99 L251.6 151.65 L252 152.95 L252.5 152.88 L253 152.56 L253.25 152.61 L253.5 153.06 L253.75 153.65 L254 155.2 L254.25 154.99 L254.5 156.1 L254.71 156.28 L254.93 157.46 L255.14 158.69 L255.36 158.42 L255.57 159.96 L255.79 160.3 L256 161.38 L256.4 161.87 L256.8 162.21 L257.2 163.32 L257.6 163.79 L258 164.5 L258.67 164.97 L259.33 165.43 L260 165.9 L302.4 165.9" fill="none" stroke="#000000" stroke-width="1.75" stroke-linejoin="round"/><path d="M231.2 171.1 L236.44 171.02 L236.69 170.93 L236.94 170.74 L237.19 170.37 L237.44 169.73 L237.68 168.64 L237.93 166.9 L238.18 164.3 L238.43 160.63 L238.68 155.79 L238.93 149.84 L239.18 143.06 L239.43 135.97 L239.68 129.29 L239.93 123.83 L240.18 120.34 L240.43 119.31 L240.68 120.67 L240.93 124.06 L241.18 129.08 L241.43 135.16 L241.68 141.65 L241.92 147.99 L242.17 153.73 L242.42 158.6 L242.67 162.48 L242.92 165.41 L243.17 167.5 L243.42 168.92 L243.67 169.84 L243.92 170.4 L244.17 170.73 L244.42 170.91 L244.67 171.01 L245.17 171.08 L294.8 171.1 Z" fill="#22cef8" fill-opacity="0.75" stroke="none"/><path d="M231.2 171.1 L236.44 171.02 L236.69 170.93 L236.94 170.74 L237.19 170.37 L237.44 169.73 L237.68 168.64 L237.93 166.9 L238.18 164.3 L238.43 160.63 L238.68 155.79 L238.93 149.84 L239.18 143.06 L239.43 135.97 L239.68 129.29 L239.93 123.83 L240.18 120.34 L240.43 119.31 L240.68 120.67 L240.93 124.06 L241.18 129.08 L241.43 135.16 L241.68 141.65 L241.92 147.99 L242.17 153.73 L242.42 158.6 L242.67 162.48 L242.92 165.41 L243.17 167.5 L243.42 168.92 L243.67 169.84 L243.92 170.4 L244.17 170.73 L244.42 170.91 L244.67 171.01 L245.17 171.08 L294.8 171.1" fill="none" stroke="#12c2f2" stroke-width="1.3" stroke-linejoin="round"/><path d="M223.6 176.3 L228.59 176.23 L228.84 176.17 L229.09 176.07 L229.34 175.9 L229.59 175.64 L229.84 175.24 L230.08 174.66 L230.33 173.86 L230.58 172.8 L230.83 171.47 L231.08 169.87 L231.33 168.04 L231.58 166.08 L231.83 164.11 L232.08 162.28 L232.33 160.77 L232.58 159.71 L232.83 159.23 L233.08 159.36 L233.33 160.1 L233.58 161.37 L233.83 163.03 L234.08 164.94 L234.32 166.92 L234.57 168.84 L234.82 170.58 L235.07 172.07 L235.32 173.29 L235.57 174.23 L235.82 174.93 L236.07 175.43 L236.32 175.76 L236.57 175.98 L236.82 176.12 L237.07 176.2 L237.57 176.27 L287.2 176.3 Z" fill="#f07080" fill-opacity="0.6" stroke="none"/><path d="M223.6 176.3 L228.59 176.23 L228.84 176.17 L229.09 176.07 L229.34 175.9 L229.59 175.64 L229.84 175.24 L230.08 174.66 L230.33 173.86 L230.58 172.8 L230.83 171.47 L231.08 169.87 L231.33 168.04 L231.58 166.08 L231.83 164.11 L232.08 162.28 L232.33 160.77 L232.58 159.71 L232.83 159.23 L233.08 159.36 L233.33 160.1 L233.58 161.37 L233.83 163.03 L234.08 164.94 L234.32 166.92 L234.57 168.84 L234.82 170.58 L235.07 172.07 L235.32 173.29 L235.57 174.23 L235.82 174.93 L236.07 175.43 L236.32 175.76 L236.57 175.98 L236.82 176.12 L237.07 176.2 L237.57 176.27 L287.2 176.3" fill="none" stroke="#ee2a3a" stroke-width="1.3" stroke-linejoin="round"/><path d="M216 181.5 L219.24 181.45 L219.49 181.41 L219.74 181.33 L219.99 181.21 L220.24 181.01 L220.49 180.68 L220.74 180.19 L220.99 179.45 L221.24 178.37 L221.49 176.87 L221.74 174.84 L221.99 172.17 L222.24 168.79 L222.48 164.65 L222.73 159.78 L222.98 154.27 L223.23 148.28 L223.48 142.09 L223.73 136.02 L223.98 130.44 L224.23 125.74 L224.48 122.27 L224.73 120.3 L224.98 119.98 L225.23 121.36 L225.48 124.3 L225.73 128.59 L225.98 133.88 L226.23 139.82 L226.48 146.01 L226.72 152.11 L226.97 157.82 L227.22 162.94 L227.47 167.35 L227.72 171.01 L227.97 173.93 L228.22 176.19 L228.47 177.88 L228.72 179.09 L228.97 179.95 L229.22 180.52 L229.47 180.9 L229.72 181.15 L229.97 181.3 L230.22 181.38 L230.47 181.44 L231.21 181.49 L279.6 181.5 Z" fill="#f5a050" fill-opacity="0.55" stroke="none"/><path d="M216 181.5 L219.24 181.45 L219.49 181.41 L219.74 181.33 L219.99 181.21 L220.24 181.01 L220.49 180.68 L220.74 180.19 L220.99 179.45 L221.24 178.37 L221.49 176.87 L221.74 174.84 L221.99 172.17 L222.24 168.79 L222.48 164.65 L222.73 159.78 L222.98 154.27 L223.23 148.28 L223.48 142.09 L223.73 136.02 L223.98 130.44 L224.23 125.74 L224.48 122.27 L224.73 120.3 L224.98 119.98 L225.23 121.36 L225.48 124.3 L225.73 128.59 L225.98 133.88 L226.23 139.82 L226.48 146.01 L226.72 152.11 L226.97 157.82 L227.22 162.94 L227.47 167.35 L227.72 171.01 L227.97 173.93 L228.22 176.19 L228.47 177.88 L228.72 179.09 L228.97 179.95 L229.22 180.52 L229.47 180.9 L229.72 181.15 L229.97 181.3 L230.22 181.38 L230.47 181.44 L231.21 181.49 L279.6 181.5" fill="none" stroke="#f7941d" stroke-width="1.2" stroke-linejoin="round"/><g font-size="4.9" font-weight="bold" fill="#707070" text-anchor="middle"><text x="224" y="187.7">0</text><text x="243.8" y="187.7">10<tspan font-size="3.3" dy="-1.7">3</tspan></text><text x="258.7" y="187.7">10<tspan font-size="3.3" dy="-1.7">4</tspan></text><text x="273.5" y="187.7">10<tspan font-size="3.3" dy="-1.7">5</tspan></text></g><line x1="224" y1="181.5" x2="224" y2="182.7" stroke="#333" stroke-width="0.7"/><line x1="243.8" y1="181.5" x2="243.8" y2="182.7" stroke="#333" stroke-width="0.7"/><line x1="258.7" y1="181.5" x2="258.7" y2="182.7" stroke="#333" stroke-width="0.7"/><line x1="273.5" y1="181.5" x2="273.5" y2="182.7" stroke="#333" stroke-width="0.7"/><text x="249.8" y="194.8" font-size="7.6" font-weight="bold" text-anchor="middle" fill="#111" stroke="#111" stroke-width="0.2">CD90</text><line x1="217.5" y1="125" x2="222.5" y2="128" stroke="#f7941d" stroke-width="1.2"/><text transform="translate(210.6 124.2) scale(0.9 1)" font-size="6.4" font-weight="bold" fill="#1a1a1a" stroke="#1a1a1a" stroke-width="0.15">0%</text><line x1="233" y1="150" x2="233" y2="155.5" stroke="#ee2a3a" stroke-width="1.2" stroke-dasharray="1.5 1"/><text transform="translate(229 148.3) scale(0.9 1)" font-size="6.4" font-weight="bold" fill="#1a1a1a" stroke="#1a1a1a" stroke-width="0.15">0%</text><line x1="244" y1="133" x2="249" y2="131" stroke="#16c0ee" stroke-width="1.2"/><text transform="translate(249.8 133.1) scale(0.9 1)" font-size="6.4" font-weight="bold" fill="#1a1a1a" stroke="#1a1a1a" stroke-width="0.15">1.7%</text><line x1="255" y1="152" x2="258.5" y2="149.5" stroke="#000" stroke-width="1.2"/><text transform="translate(258.7 150.6) scale(0.9 1)" font-size="6.4" font-weight="bold" fill="#1a1a1a" stroke="#1a1a1a" stroke-width="0.15">0%</text></g><g><path d="M311.7 181.5 L375.3 181.5 L398.1 165.9 L334.5 165.9 Z" fill="#ececec" fill-opacity="0.7"/><line x1="311.7" y1="181.5" x2="334.5" y2="165.9" stroke="#333" stroke-width="0.75"/><line x1="319.2" y1="181.5" x2="342" y2="165.9" stroke="#333" stroke-width="0.75"/><line x1="334.5" y1="181.5" x2="357.3" y2="165.9" stroke="#333" stroke-width="0.75"/><line x1="349.8" y1="181.5" x2="372.6" y2="165.9" stroke="#333" stroke-width="0.75"/><line x1="365.1" y1="181.5" x2="387.9" y2="165.9" stroke="#333" stroke-width="0.75"/><line x1="375.3" y1="181.5" x2="398.1" y2="165.9" stroke="#333" stroke-width="0.75"/><path d="M334.5 165.9 L337.49 165.87 L338.24 165.81 L338.99 165.68 L339.74 165.36 L340.49 164.71 L341.23 163.28 L341.98 161.06 L342.73 158.49 L343.48 154.46 L344.23 149.66 L344.98 144.9 L345.72 141.53 L346.47 139.69 L347.22 140.65 L347.97 141.75 L348.72 146.06 L349.46 150.28 L350.21 153.56 L350.96 158.21 L351.71 160.86 L352.46 163 L353.21 164.07 L353.95 164.99 L354.7 165.46 L355.45 165.7 L356.2 165.82 L356.95 165.87 L398.1 165.9 Z" fill="#a8a8a8" fill-opacity="0.85" stroke="none"/><path d="M334.5 165.9 L337.49 165.87 L338.24 165.81 L338.99 165.68 L339.74 165.36 L340.49 164.71 L341.23 163.28 L341.98 161.06 L342.73 158.49 L343.48 154.46 L344.23 149.66 L344.98 144.9 L345.72 141.53 L346.47 139.69 L347.22 140.65 L347.97 141.75 L348.72 146.06 L349.46 150.28 L350.21 153.56 L350.96 158.21 L351.71 160.86 L352.46 163 L353.21 164.07 L353.95 164.99 L354.7 165.46 L355.45 165.7 L356.2 165.82 L356.95 165.87 L398.1 165.9" fill="none" stroke="#000000" stroke-width="1.75" stroke-linejoin="round"/><path d="M326.9 171.1 L333.38 171.03 L333.63 170.92 L333.88 170.64 L334.13 170.05 L334.38 168.88 L334.63 166.74 L334.88 163.17 L335.13 157.74 L335.38 150.26 L335.63 140.99 L335.88 130.8 L336.13 121.17 L336.38 113.8 L336.63 110.2 L336.88 110.94 L337.13 115.3 L337.38 122.46 L337.62 131.26 L337.87 140.43 L338.12 148.92 L338.37 156.02 L338.62 161.47 L338.87 165.32 L339.12 167.84 L339.37 169.37 L339.62 170.24 L339.87 170.7 L340.12 170.92 L340.37 171.03 L340.87 171.09 L390.5 171.1 Z" fill="#22cef8" fill-opacity="0.75" stroke="none"/><path d="M326.9 171.1 L333.38 171.03 L333.63 170.92 L333.88 170.64 L334.13 170.05 L334.38 168.88 L334.63 166.74 L334.88 163.17 L335.13 157.74 L335.38 150.26 L335.63 140.99 L335.88 130.8 L336.13 121.17 L336.38 113.8 L336.63 110.2 L336.88 110.94 L337.13 115.3 L337.38 122.46 L337.62 131.26 L337.87 140.43 L338.12 148.92 L338.37 156.02 L338.62 161.47 L338.87 165.32 L339.12 167.84 L339.37 169.37 L339.62 170.24 L339.87 170.7 L340.12 170.92 L340.37 171.03 L340.87 171.09 L390.5 171.1" fill="none" stroke="#12c2f2" stroke-width="1.3" stroke-linejoin="round"/><path d="M319.3 175.82 L319.55 175.61 L319.8 175.32 L320.05 174.94 L320.3 174.44 L320.55 173.8 L320.8 172.98 L321.05 171.96 L321.3 170.72 L321.54 169.24 L321.79 167.5 L322.04 165.51 L322.29 163.26 L322.54 160.79 L322.79 158.14 L323.04 155.36 L323.29 152.53 L323.54 149.73 L323.79 147.06 L324.04 144.62 L324.29 142.5 L324.54 140.8 L324.79 139.59 L325.04 138.93 L325.29 138.83 L325.54 139.2 L325.78 139.99 L326.03 141.19 L326.28 142.74 L326.53 144.6 L326.78 146.7 L327.03 148.99 L327.28 151.4 L327.53 153.86 L327.78 156.31 L328.03 158.7 L328.28 160.99 L328.53 163.14 L328.78 165.12 L329.03 166.91 L329.28 168.5 L329.53 169.9 L329.78 171.12 L330.02 172.15 L330.27 173.01 L330.52 173.73 L330.77 174.31 L331.02 174.78 L331.27 175.15 L331.52 175.44 L331.77 175.67 L332.02 175.84 L332.27 175.97 L332.52 176.06 L332.77 176.13 L333.02 176.18 L333.52 176.25 L335.01 176.3 L382.9 176.3 Z" fill="#f07080" fill-opacity="0.6" stroke="none"/><path d="M319.3 175.82 L319.55 175.61 L319.8 175.32 L320.05 174.94 L320.3 174.44 L320.55 173.8 L320.8 172.98 L321.05 171.96 L321.3 170.72 L321.54 169.24 L321.79 167.5 L322.04 165.51 L322.29 163.26 L322.54 160.79 L322.79 158.14 L323.04 155.36 L323.29 152.53 L323.54 149.73 L323.79 147.06 L324.04 144.62 L324.29 142.5 L324.54 140.8 L324.79 139.59 L325.04 138.93 L325.29 138.83 L325.54 139.2 L325.78 139.99 L326.03 141.19 L326.28 142.74 L326.53 144.6 L326.78 146.7 L327.03 148.99 L327.28 151.4 L327.53 153.86 L327.78 156.31 L328.03 158.7 L328.28 160.99 L328.53 163.14 L328.78 165.12 L329.03 166.91 L329.28 168.5 L329.53 169.9 L329.78 171.12 L330.02 172.15 L330.27 173.01 L330.52 173.73 L330.77 174.31 L331.02 174.78 L331.27 175.15 L331.52 175.44 L331.77 175.67 L332.02 175.84 L332.27 175.97 L332.52 176.06 L332.77 176.13 L333.02 176.18 L333.52 176.25 L335.01 176.3 L382.9 176.3" fill="none" stroke="#ee2a3a" stroke-width="1.3" stroke-linejoin="round"/><path d="M311.7 181.5 L316.69 181.41 L316.94 181.35 L317.19 181.24 L317.44 181.07 L317.69 180.81 L317.94 180.43 L318.18 179.88 L318.43 179.12 L318.68 178.09 L318.93 176.75 L319.18 175.07 L319.43 173.02 L319.68 170.62 L319.93 167.93 L320.18 165.04 L320.43 162.07 L320.68 159.19 L320.93 156.58 L321.18 154.43 L321.43 152.9 L321.68 152.1 L321.93 152.04 L322.18 152.33 L322.42 152.91 L322.67 153.75 L322.92 154.83 L323.17 156.13 L323.42 157.6 L323.67 159.21 L323.92 160.92 L324.17 162.68 L324.42 164.47 L324.67 166.23 L324.92 167.95 L325.17 169.6 L325.42 171.15 L325.67 172.58 L325.92 173.9 L326.17 175.08 L326.42 176.13 L326.66 177.06 L326.91 177.86 L327.16 178.55 L327.41 179.13 L327.66 179.61 L327.91 180.01 L328.16 180.34 L328.41 180.61 L328.66 180.82 L328.91 180.98 L329.16 181.11 L329.41 181.21 L329.66 181.29 L329.91 181.35 L330.41 181.42 L331.15 181.47 L375.3 181.5 Z" fill="#f5a050" fill-opacity="0.55" stroke="none"/><path d="M311.7 181.5 L316.69 181.41 L316.94 181.35 L317.19 181.24 L317.44 181.07 L317.69 180.81 L317.94 180.43 L318.18 179.88 L318.43 179.12 L318.68 178.09 L318.93 176.75 L319.18 175.07 L319.43 173.02 L319.68 170.62 L319.93 167.93 L320.18 165.04 L320.43 162.07 L320.68 159.19 L320.93 156.58 L321.18 154.43 L321.43 152.9 L321.68 152.1 L321.93 152.04 L322.18 152.33 L322.42 152.91 L322.67 153.75 L322.92 154.83 L323.17 156.13 L323.42 157.6 L323.67 159.21 L323.92 160.92 L324.17 162.68 L324.42 164.47 L324.67 166.23 L324.92 167.95 L325.17 169.6 L325.42 171.15 L325.67 172.58 L325.92 173.9 L326.17 175.08 L326.42 176.13 L326.66 177.06 L326.91 177.86 L327.16 178.55 L327.41 179.13 L327.66 179.61 L327.91 180.01 L328.16 180.34 L328.41 180.61 L328.66 180.82 L328.91 180.98 L329.16 181.11 L329.41 181.21 L329.66 181.29 L329.91 181.35 L330.41 181.42 L331.15 181.47 L375.3 181.5" fill="none" stroke="#f7941d" stroke-width="1.2" stroke-linejoin="round"/><g font-size="4.9" font-weight="bold" fill="#707070" text-anchor="middle"><text x="319.7" y="187.7">0</text><text x="339.5" y="187.7">10<tspan font-size="3.3" dy="-1.7">3</tspan></text><text x="354.4" y="187.7">10<tspan font-size="3.3" dy="-1.7">4</tspan></text><text x="369.2" y="187.7">10<tspan font-size="3.3" dy="-1.7">5</tspan></text></g><line x1="319.7" y1="181.5" x2="319.7" y2="182.7" stroke="#333" stroke-width="0.7"/><line x1="339.5" y1="181.5" x2="339.5" y2="182.7" stroke="#333" stroke-width="0.7"/><line x1="354.4" y1="181.5" x2="354.4" y2="182.7" stroke="#333" stroke-width="0.7"/><line x1="369.2" y1="181.5" x2="369.2" y2="182.7" stroke="#333" stroke-width="0.7"/><text x="346" y="194.8" font-size="7.6" font-weight="bold" text-anchor="middle" fill="#111" stroke="#111" stroke-width="0.2">CD34</text><line x1="316" y1="155" x2="320" y2="158" stroke="#f7941d" stroke-width="1.2"/><text transform="translate(303.5 154.4) scale(0.9 1)" font-size="6.4" font-weight="bold" fill="#1a1a1a" stroke="#1a1a1a" stroke-width="0.15">2.4%</text><line x1="315" y1="137" x2="322" y2="141" stroke="#ee2a3a" stroke-width="1.2"/><text transform="translate(306.3 138.1) scale(0.9 1)" font-size="6.4" font-weight="bold" fill="#1a1a1a" stroke="#1a1a1a" stroke-width="0.15">0%</text><line x1="339" y1="112" x2="343" y2="109" stroke="#16c0ee" stroke-width="1.2"/><text transform="translate(344 109.9) scale(0.9 1)" font-size="6.4" font-weight="bold" fill="#1a1a1a" stroke="#1a1a1a" stroke-width="0.15">2.7%</text><line x1="349" y1="142" x2="353" y2="139" stroke="#000" stroke-width="1.2"/><text transform="translate(353.6 139.7) scale(0.9 1)" font-size="6.4" font-weight="bold" fill="#1a1a1a" stroke="#1a1a1a" stroke-width="0.15">3.8%</text></g><g><path d="M408 181.5 L471.6 181.5 L494.4 165.9 L430.8 165.9 Z" fill="#ececec" fill-opacity="0.7"/><line x1="408" y1="181.5" x2="430.8" y2="165.9" stroke="#333" stroke-width="0.75"/><line x1="415.5" y1="181.5" x2="438.3" y2="165.9" stroke="#333" stroke-width="0.75"/><line x1="430.8" y1="181.5" x2="453.6" y2="165.9" stroke="#333" stroke-width="0.75"/><line x1="446.1" y1="181.5" x2="468.9" y2="165.9" stroke="#333" stroke-width="0.75"/><line x1="461.4" y1="181.5" x2="484.2" y2="165.9" stroke="#333" stroke-width="0.75"/><line x1="471.6" y1="181.5" x2="494.4" y2="165.9" stroke="#333" stroke-width="0.75"/><path d="M430.8 165.89 L431.55 165.85 L432.3 165.76 L433.04 165.53 L433.79 165.02 L434.54 163.96 L435.29 162.16 L436.04 160.11 L436.79 155.98 L437.53 151.57 L438.28 147.82 L439.03 145.07 L439.78 144.21 L440.53 145.53 L441.28 149.08 L442.02 151.91 L442.77 156.35 L443.52 158.8 L444.27 161.47 L445.02 163.48 L445.76 164.62 L446.51 165.28 L447.26 165.62 L448.01 165.79 L448.76 165.86 L494.4 165.9 Z" fill="#a8a8a8" fill-opacity="0.85" stroke="none"/><path d="M430.8 165.89 L431.55 165.85 L432.3 165.76 L433.04 165.53 L433.79 165.02 L434.54 163.96 L435.29 162.16 L436.04 160.11 L436.79 155.98 L437.53 151.57 L438.28 147.82 L439.03 145.07 L439.78 144.21 L440.53 145.53 L441.28 149.08 L442.02 151.91 L442.77 156.35 L443.52 158.8 L444.27 161.47 L445.02 163.48 L445.76 164.62 L446.51 165.28 L447.26 165.62 L448.01 165.79 L448.76 165.86 L494.4 165.9" fill="none" stroke="#000000" stroke-width="1.75" stroke-linejoin="round"/><path d="M423.2 171.1 L427.19 171.07 L427.44 171.01 L427.69 170.87 L427.94 170.55 L428.19 169.86 L428.44 168.51 L428.69 166.09 L428.94 162.14 L429.19 156.26 L429.44 148.34 L429.68 138.76 L429.93 128.56 L430.18 119.28 L430.43 112.63 L430.68 110.01 L430.93 111.62 L431.18 116.68 L431.43 124.31 L431.68 133.3 L431.93 142.4 L432.18 150.63 L432.43 157.38 L432.68 162.46 L432.93 165.98 L433.18 168.25 L433.43 169.61 L433.68 170.37 L433.92 170.76 L434.17 170.95 L434.42 171.04 L434.92 171.09 L486.8 171.1 Z" fill="#22cef8" fill-opacity="0.75" stroke="none"/><path d="M423.2 171.1 L427.19 171.07 L427.44 171.01 L427.69 170.87 L427.94 170.55 L428.19 169.86 L428.44 168.51 L428.69 166.09 L428.94 162.14 L429.19 156.26 L429.44 148.34 L429.68 138.76 L429.93 128.56 L430.18 119.28 L430.43 112.63 L430.68 110.01 L430.93 111.62 L431.18 116.68 L431.43 124.31 L431.68 133.3 L431.93 142.4 L432.18 150.63 L432.43 157.38 L432.68 162.46 L432.93 165.98 L433.18 168.25 L433.43 169.61 L433.68 170.37 L433.92 170.76 L434.17 170.95 L434.42 171.04 L434.92 171.09 L486.8 171.1" fill="none" stroke="#12c2f2" stroke-width="1.3" stroke-linejoin="round"/><path d="M415.6 176.3 L418.84 176.25 L419.09 176.21 L419.34 176.14 L419.59 176.03 L419.84 175.86 L420.09 175.6 L420.34 175.22 L420.59 174.69 L420.84 173.95 L421.09 172.97 L421.34 171.72 L421.59 170.16 L421.84 168.3 L422.08 166.16 L422.33 163.8 L422.58 161.3 L422.83 158.8 L423.08 156.44 L423.33 154.37 L423.58 152.75 L423.83 151.7 L424.08 151.3 L424.33 151.5 L424.58 152.17 L424.83 153.26 L425.08 154.73 L425.33 156.48 L425.58 158.44 L425.83 160.51 L426.08 162.61 L426.32 164.65 L426.57 166.58 L426.82 168.34 L427.07 169.91 L427.32 171.26 L427.57 172.41 L427.82 173.35 L428.07 174.11 L428.32 174.7 L428.57 175.15 L428.82 175.5 L429.07 175.75 L429.32 175.93 L429.57 176.05 L429.82 176.14 L430.07 176.2 L430.56 176.26 L479.2 176.3 Z" fill="#f07080" fill-opacity="0.6" stroke="none"/><path d="M415.6 176.3 L418.84 176.25 L419.09 176.21 L419.34 176.14 L419.59 176.03 L419.84 175.86 L420.09 175.6 L420.34 175.22 L420.59 174.69 L420.84 173.95 L421.09 172.97 L421.34 171.72 L421.59 170.16 L421.84 168.3 L422.08 166.16 L422.33 163.8 L422.58 161.3 L422.83 158.8 L423.08 156.44 L423.33 154.37 L423.58 152.75 L423.83 151.7 L424.08 151.3 L424.33 151.5 L424.58 152.17 L424.83 153.26 L425.08 154.73 L425.33 156.48 L425.58 158.44 L425.83 160.51 L426.08 162.61 L426.32 164.65 L426.57 166.58 L426.82 168.34 L427.07 169.91 L427.32 171.26 L427.57 172.41 L427.82 173.35 L428.07 174.11 L428.32 174.7 L428.57 175.15 L428.82 175.5 L429.07 175.75 L429.32 175.93 L429.57 176.05 L429.82 176.14 L430.07 176.2 L430.56 176.26 L479.2 176.3" fill="none" stroke="#ee2a3a" stroke-width="1.3" stroke-linejoin="round"/><path d="M408 181.5 L411.99 181.42 L412.24 181.36 L412.49 181.27 L412.74 181.13 L412.99 180.93 L413.24 180.65 L413.49 180.25 L413.74 179.72 L413.99 179.04 L414.24 178.18 L414.48 177.16 L414.73 175.96 L414.98 174.63 L415.23 173.21 L415.48 171.78 L415.73 170.4 L415.98 169.18 L416.23 168.19 L416.48 167.52 L416.73 167.22 L416.98 167.3 L417.23 167.77 L417.48 168.59 L417.73 169.69 L417.98 170.99 L418.23 172.4 L418.48 173.84 L418.72 175.22 L418.97 176.5 L419.22 177.62 L419.47 178.58 L419.72 179.36 L419.97 179.97 L420.22 180.44 L420.47 180.78 L420.72 181.03 L420.97 181.2 L421.22 181.31 L421.47 181.39 L421.97 181.46 L471.6 181.5 Z" fill="#f5a050" fill-opacity="0.55" stroke="none"/><path d="M408 181.5 L411.99 181.42 L412.24 181.36 L412.49 181.27 L412.74 181.13 L412.99 180.93 L413.24 180.65 L413.49 180.25 L413.74 179.72 L413.99 179.04 L414.24 178.18 L414.48 177.16 L414.73 175.96 L414.98 174.63 L415.23 173.21 L415.48 171.78 L415.73 170.4 L415.98 169.18 L416.23 168.19 L416.48 167.52 L416.73 167.22 L416.98 167.3 L417.23 167.77 L417.48 168.59 L417.73 169.69 L417.98 170.99 L418.23 172.4 L418.48 173.84 L418.72 175.22 L418.97 176.5 L419.22 177.62 L419.47 178.58 L419.72 179.36 L419.97 179.97 L420.22 180.44 L420.47 180.78 L420.72 181.03 L420.97 181.2 L421.22 181.31 L421.47 181.39 L421.97 181.46 L471.6 181.5" fill="none" stroke="#f7941d" stroke-width="1.2" stroke-linejoin="round"/><g font-size="4.9" font-weight="bold" fill="#707070" text-anchor="middle"><text x="416" y="187.7">0</text><text x="435.8" y="187.7">10<tspan font-size="3.3" dy="-1.7">3</tspan></text><text x="450.7" y="187.7">10<tspan font-size="3.3" dy="-1.7">4</tspan></text><text x="465.5" y="187.7">10<tspan font-size="3.3" dy="-1.7">5</tspan></text></g><line x1="416" y1="181.5" x2="416" y2="182.7" stroke="#333" stroke-width="0.7"/><line x1="435.8" y1="181.5" x2="435.8" y2="182.7" stroke="#333" stroke-width="0.7"/><line x1="450.7" y1="181.5" x2="450.7" y2="182.7" stroke="#333" stroke-width="0.7"/><line x1="465.5" y1="181.5" x2="465.5" y2="182.7" stroke="#333" stroke-width="0.7"/><text x="441.3" y="194.8" font-size="7.6" font-weight="bold" text-anchor="middle" fill="#111" stroke="#111" stroke-width="0.2">CD31</text><line x1="413" y1="168" x2="416" y2="172" stroke="#f7941d" stroke-width="1.2"/><text transform="translate(403.5 166.9) scale(0.9 1)" font-size="6.4" font-weight="bold" fill="#1a1a1a" stroke="#1a1a1a" stroke-width="0.15">1.1%</text><line x1="417" y1="150" x2="423" y2="155" stroke="#ee2a3a" stroke-width="1.2"/><text transform="translate(403.9 149.4) scale(0.9 1)" font-size="6.4" font-weight="bold" fill="#1a1a1a" stroke="#1a1a1a" stroke-width="0.15">0.8%</text><line x1="433" y1="118" x2="438" y2="116" stroke="#16c0ee" stroke-width="1.2"/><text transform="translate(439.2 117.2) scale(0.9 1)" font-size="6.4" font-weight="bold" fill="#1a1a1a" stroke="#1a1a1a" stroke-width="0.15">0.5%</text><line x1="444" y1="147" x2="448" y2="144" stroke="#000" stroke-width="1.2"/><text transform="translate(449.2 144.6) scale(0.9 1)" font-size="6.4" font-weight="bold" fill="#1a1a1a" stroke="#1a1a1a" stroke-width="0.15">1.3%</text></g><g><path d="M24 276.9 L87.6 276.9 L110.4 262.2 L46.8 262.2 Z" fill="#ececec" fill-opacity="0.7"/><line x1="24" y1="276.9" x2="46.8" y2="262.2" stroke="#333" stroke-width="0.75"/><line x1="31.5" y1="276.9" x2="54.3" y2="262.2" stroke="#333" stroke-width="0.75"/><line x1="46.8" y1="276.9" x2="69.6" y2="262.2" stroke="#333" stroke-width="0.75"/><line x1="62.1" y1="276.9" x2="84.9" y2="262.2" stroke="#333" stroke-width="0.75"/><line x1="77.4" y1="276.9" x2="100.2" y2="262.2" stroke="#333" stroke-width="0.75"/><line x1="87.6" y1="276.9" x2="110.4" y2="262.2" stroke="#333" stroke-width="0.75"/><path d="M46.8 262.2 L49.5 262.2 L49.73 261.4 L49.97 260.5 L50.2 259.74 L50.24 259.31 L50.28 258.55 L50.31 257.77 L50.35 256.84 L50.39 256.42 L50.42 255.68 L50.46 254.43 L50.5 253.86 L50.52 252.34 L50.55 252.43 L50.57 251.37 L50.59 251.01 L50.62 250.16 L50.64 249 L50.66 247.99 L50.69 248.32 L50.71 246.64 L50.74 246.33 L50.76 245.45 L50.78 244.67 L50.81 244.48 L50.83 244.04 L50.85 242.46 L50.88 242.21 L50.9 241.06 L50.93 240.67 L50.95 239.77 L50.98 238.8 L51.01 238.09 L51.04 237.45 L51.06 237.59 L51.09 236.4 L51.12 235.36 L51.15 235.49 L51.17 234.9 L51.2 233.54 L51.23 232.47 L51.25 231.83 L51.28 231.01 L51.31 230.61 L51.34 229.61 L51.36 229.09 L51.39 228.41 L51.42 228.08 L51.45 227.76 L51.47 226.9 L51.5 225.8 L51.55 225.09 L51.59 224.52 L51.64 223.64 L51.68 222.89 L51.73 221.85 L51.77 221.41 L51.82 221.53 L51.86 219.81 L51.91 219.56 L51.95 219.01 L52 218.59 L52.05 217.1 L52.09 216.47 L52.14 215.73 L52.18 215.21 L52.23 214.56 L52.27 214.47 L52.32 213.64 L52.36 212.96 L52.41 211.24 L52.45 210.54 L52.5 210.65 L52.58 210.13 L52.67 208.88 L52.75 208.28 L52.83 206.83 L52.92 206.56 L53 206.46 L53.08 205.6 L53.17 204.89 L53.25 204.29 L53.33 202.68 L53.42 201.77 L53.5 201.09 L53.63 202.27 L53.77 203.2 L53.9 204.25 L54.03 204.73 L54.17 205.39 L54.3 206.27 L54.43 206.64 L54.57 207.5 L54.7 207.62 L54.83 209.26 L54.97 209.34 L55.1 210.9 L55.17 211.28 L55.24 211.57 L55.3 212.07 L55.37 212.92 L55.44 214.09 L55.51 214.87 L55.58 214.87 L55.65 215.52 L55.71 216.77 L55.78 217.54 L55.85 218.02 L55.92 218.52 L55.99 219.68 L56.05 219.68 L56.12 220.73 L56.19 221.63 L56.26 222.93 L56.33 223.26 L56.4 224.25 L56.46 224.46 L56.53 224.88 L56.6 225.6 L56.65 227.15 L56.7 227.55 L56.75 227.77 L56.8 228.13 L56.85 229.4 L56.9 230.31 L56.95 230.7 L57 231.21 L57.05 232.4 L57.1 233.41 L57.15 233.27 L57.2 233.74 L57.25 234.81 L57.3 235.6 L57.35 236.62 L57.4 236.74 L57.45 238.16 L57.5 238.79 L57.55 239.21 L57.6 239.55 L57.65 241.16 L57.7 241.07 L57.75 242.41 L57.81 242.42 L57.86 243.14 L57.91 244.51 L57.96 244.67 L58.02 246.18 L58.07 246.36 L58.12 246.71 L58.18 247.48 L58.23 248.44 L58.28 249.46 L58.34 250.52 L58.39 250.28 L58.44 251.3 L58.49 251.81 L58.55 253.45 L58.6 253.17 L58.74 253.84 L58.88 254.62 L59.01 255.8 L59.15 257.14 L59.29 257.84 L59.43 258.43 L59.56 259.34 L59.7 260.01 L60.1 260.34 L60.5 261 L60.9 261.6 L61.3 262.2 L110.4 262.2 Z" fill="#a8a8a8" fill-opacity="0.85" stroke="none"/><path d="M46.8 262.2 L49.5 262.2 L49.73 261.4 L49.97 260.5 L50.2 259.74 L50.24 259.31 L50.28 258.55 L50.31 257.77 L50.35 256.84 L50.39 256.42 L50.42 255.68 L50.46 254.43 L50.5 253.86 L50.52 252.34 L50.55 252.43 L50.57 251.37 L50.59 251.01 L50.62 250.16 L50.64 249 L50.66 247.99 L50.69 248.32 L50.71 246.64 L50.74 246.33 L50.76 245.45 L50.78 244.67 L50.81 244.48 L50.83 244.04 L50.85 242.46 L50.88 242.21 L50.9 241.06 L50.93 240.67 L50.95 239.77 L50.98 238.8 L51.01 238.09 L51.04 237.45 L51.06 237.59 L51.09 236.4 L51.12 235.36 L51.15 235.49 L51.17 234.9 L51.2 233.54 L51.23 232.47 L51.25 231.83 L51.28 231.01 L51.31 230.61 L51.34 229.61 L51.36 229.09 L51.39 228.41 L51.42 228.08 L51.45 227.76 L51.47 226.9 L51.5 225.8 L51.55 225.09 L51.59 224.52 L51.64 223.64 L51.68 222.89 L51.73 221.85 L51.77 221.41 L51.82 221.53 L51.86 219.81 L51.91 219.56 L51.95 219.01 L52 218.59 L52.05 217.1 L52.09 216.47 L52.14 215.73 L52.18 215.21 L52.23 214.56 L52.27 214.47 L52.32 213.64 L52.36 212.96 L52.41 211.24 L52.45 210.54 L52.5 210.65 L52.58 210.13 L52.67 208.88 L52.75 208.28 L52.83 206.83 L52.92 206.56 L53 206.46 L53.08 205.6 L53.17 204.89 L53.25 204.29 L53.33 202.68 L53.42 201.77 L53.5 201.09 L53.63 202.27 L53.77 203.2 L53.9 204.25 L54.03 204.73 L54.17 205.39 L54.3 206.27 L54.43 206.64 L54.57 207.5 L54.7 207.62 L54.83 209.26 L54.97 209.34 L55.1 210.9 L55.17 211.28 L55.24 211.57 L55.3 212.07 L55.37 212.92 L55.44 214.09 L55.51 214.87 L55.58 214.87 L55.65 215.52 L55.71 216.77 L55.78 217.54 L55.85 218.02 L55.92 218.52 L55.99 219.68 L56.05 219.68 L56.12 220.73 L56.19 221.63 L56.26 222.93 L56.33 223.26 L56.4 224.25 L56.46 224.46 L56.53 224.88 L56.6 225.6 L56.65 227.15 L56.7 227.55 L56.75 227.77 L56.8 228.13 L56.85 229.4 L56.9 230.31 L56.95 230.7 L57 231.21 L57.05 232.4 L57.1 233.41 L57.15 233.27 L57.2 233.74 L57.25 234.81 L57.3 235.6 L57.35 236.62 L57.4 236.74 L57.45 238.16 L57.5 238.79 L57.55 239.21 L57.6 239.55 L57.65 241.16 L57.7 241.07 L57.75 242.41 L57.81 242.42 L57.86 243.14 L57.91 244.51 L57.96 244.67 L58.02 246.18 L58.07 246.36 L58.12 246.71 L58.18 247.48 L58.23 248.44 L58.28 249.46 L58.34 250.52 L58.39 250.28 L58.44 251.3 L58.49 251.81 L58.55 253.45 L58.6 253.17 L58.74 253.84 L58.88 254.62 L59.01 255.8 L59.15 257.14 L59.29 257.84 L59.43 258.43 L59.56 259.34 L59.7 260.01 L60.1 260.34 L60.5 261 L60.9 261.6 L61.3 262.2 L110.4 262.2" fill="none" stroke="#000000" stroke-width="1.75" stroke-linejoin="round"/><path d="M39.2 267.1 L46.6 267.1 L46.9 240 L47.2 215 L47.8 206.1 L48.4 215 L48.9 225.9 L49.4 256.7 L50 264 L51 267.1 L102.8 267.1 Z" fill="#22cef8" fill-opacity="0.75" stroke="none"/><path d="M39.2 267.1 L46.6 267.1 L46.9 240 L47.2 215 L47.8 206.1 L48.4 215 L48.9 225.9 L49.4 256.7 L50 264 L51 267.1 L102.8 267.1" fill="none" stroke="#12c2f2" stroke-width="1.3" stroke-linejoin="round"/><path d="M31.6 272 L36.34 271.92 L36.59 271.87 L36.84 271.78 L37.09 271.64 L37.34 271.43 L37.59 271.12 L37.84 270.68 L38.08 270.06 L38.33 269.24 L38.58 268.17 L38.83 266.84 L39.08 265.24 L39.33 263.38 L39.58 261.31 L39.83 259.1 L40.08 256.86 L40.33 254.71 L40.58 252.8 L40.83 251.26 L41.08 250.21 L41.33 249.73 L41.58 249.81 L41.83 250.32 L42.08 251.22 L42.32 252.46 L42.57 253.97 L42.82 255.69 L43.07 257.52 L43.32 259.39 L43.57 261.23 L43.82 262.98 L44.07 264.58 L44.32 266.02 L44.57 267.27 L44.82 268.33 L45.07 269.2 L45.32 269.91 L45.57 270.47 L45.82 270.9 L46.07 271.23 L46.32 271.46 L46.56 271.64 L46.81 271.76 L47.06 271.84 L47.31 271.9 L47.81 271.96 L95.2 272 Z" fill="#f07080" fill-opacity="0.6" stroke="none"/><path d="M31.6 272 L36.34 271.92 L36.59 271.87 L36.84 271.78 L37.09 271.64 L37.34 271.43 L37.59 271.12 L37.84 270.68 L38.08 270.06 L38.33 269.24 L38.58 268.17 L38.83 266.84 L39.08 265.24 L39.33 263.38 L39.58 261.31 L39.83 259.1 L40.08 256.86 L40.33 254.71 L40.58 252.8 L40.83 251.26 L41.08 250.21 L41.33 249.73 L41.58 249.81 L41.83 250.32 L42.08 251.22 L42.32 252.46 L42.57 253.97 L42.82 255.69 L43.07 257.52 L43.32 259.39 L43.57 261.23 L43.82 262.98 L44.07 264.58 L44.32 266.02 L44.57 267.27 L44.82 268.33 L45.07 269.2 L45.32 269.91 L45.57 270.47 L45.82 270.9 L46.07 271.23 L46.32 271.46 L46.56 271.64 L46.81 271.76 L47.06 271.84 L47.31 271.9 L47.81 271.96 L95.2 272" fill="none" stroke="#ee2a3a" stroke-width="1.3" stroke-linejoin="round"/><path d="M24 276.9 L29.49 276.82 L29.74 276.73 L29.99 276.54 L30.24 276.2 L30.48 275.62 L30.73 274.69 L30.98 273.31 L31.23 271.42 L31.48 269.05 L31.73 266.33 L31.98 263.53 L32.23 261 L32.48 259.13 L32.73 258.25 L32.98 258.5 L33.23 259.84 L33.48 262.04 L33.73 264.73 L33.98 267.54 L34.23 270.13 L34.48 272.3 L34.72 273.97 L34.97 275.14 L35.22 275.91 L35.47 276.37 L35.72 276.64 L35.97 276.78 L36.22 276.85 L36.97 276.9 L87.6 276.9 Z" fill="#f5a050" fill-opacity="0.55" stroke="none"/><path d="M24 276.9 L29.49 276.82 L29.74 276.73 L29.99 276.54 L30.24 276.2 L30.48 275.62 L30.73 274.69 L30.98 273.31 L31.23 271.42 L31.48 269.05 L31.73 266.33 L31.98 263.53 L32.23 261 L32.48 259.13 L32.73 258.25 L32.98 258.5 L33.23 259.84 L33.48 262.04 L33.73 264.73 L33.98 267.54 L34.23 270.13 L34.48 272.3 L34.72 273.97 L34.97 275.14 L35.22 275.91 L35.47 276.37 L35.72 276.64 L35.97 276.78 L36.22 276.85 L36.97 276.9 L87.6 276.9" fill="none" stroke="#f7941d" stroke-width="1.2" stroke-linejoin="round"/><g font-size="4.9" font-weight="bold" fill="#707070" text-anchor="middle"><text x="31.2" y="283.1">0</text><text x="49.1" y="283.1">10<tspan font-size="3.3" dy="-1.7">3</tspan></text><text x="62.2" y="283.1">10<tspan font-size="3.3" dy="-1.7">4</tspan></text><text x="75.1" y="283.1">10<tspan font-size="3.3" dy="-1.7">5</tspan></text></g><line x1="31.2" y1="276.9" x2="31.2" y2="278.1" stroke="#333" stroke-width="0.7"/><line x1="49.1" y1="276.9" x2="49.1" y2="278.1" stroke="#333" stroke-width="0.7"/><line x1="62.2" y1="276.9" x2="62.2" y2="278.1" stroke="#333" stroke-width="0.7"/><line x1="75.1" y1="276.9" x2="75.1" y2="278.1" stroke="#333" stroke-width="0.7"/><text x="58.4" y="290.2" font-size="7.6" font-weight="bold" text-anchor="middle" fill="#111" stroke="#111" stroke-width="0.2">CD45</text><line x1="24" y1="258" x2="30" y2="262" stroke="#f7941d" stroke-width="1.2"/><text transform="translate(14.9 257.5) scale(0.9 1)" font-size="6.4" font-weight="bold" fill="#1a1a1a" stroke="#1a1a1a" stroke-width="0.15">0%</text><line x1="32" y1="247" x2="39" y2="251" stroke="#ee2a3a" stroke-width="1.2"/><text transform="translate(22.9 246.6) scale(0.9 1)" font-size="6.4" font-weight="bold" fill="#1a1a1a" stroke="#1a1a1a" stroke-width="0.15">0%</text><line x1="39" y1="223" x2="45.5" y2="227" stroke="#16c0ee" stroke-width="1.2"/><text transform="translate(29.8 223.1) scale(0.9 1)" font-size="6.4" font-weight="bold" fill="#1a1a1a" stroke="#1a1a1a" stroke-width="0.15">0%</text><line x1="58" y1="216" x2="62" y2="214" stroke="#000" stroke-width="1.2"/><text transform="translate(63.2 214.8) scale(0.9 1)" font-size="6.4" font-weight="bold" fill="#1a1a1a" stroke="#1a1a1a" stroke-width="0.15">0.5%</text></g><g><path d="M120 276.9 L183.6 276.9 L206.4 262.2 L142.8 262.2 Z" fill="#ececec" fill-opacity="0.7"/><line x1="120" y1="276.9" x2="142.8" y2="262.2" stroke="#333" stroke-width="0.75"/><line x1="127.5" y1="276.9" x2="150.3" y2="262.2" stroke="#333" stroke-width="0.75"/><line x1="142.8" y1="276.9" x2="165.6" y2="262.2" stroke="#333" stroke-width="0.75"/><line x1="158.1" y1="276.9" x2="180.9" y2="262.2" stroke="#333" stroke-width="0.75"/><line x1="173.4" y1="276.9" x2="196.2" y2="262.2" stroke="#333" stroke-width="0.75"/><line x1="183.6" y1="276.9" x2="206.4" y2="262.2" stroke="#333" stroke-width="0.75"/><path d="M142.8 262.2 L145 262.2 L145.7 261.97 L146.4 261.73 L147.1 261.5 L147.54 260.84 L147.98 260.05 L148.42 259.75 L148.86 259.02 L149.3 257.83 L149.54 257.61 L149.79 256.58 L150.03 255.82 L150.27 255.03 L150.51 254.09 L150.76 253.15 L151 252.74 L151.17 252.11 L151.34 252.12 L151.51 250.41 L151.69 250.7 L151.86 249.08 L152.03 248.54 L152.2 248.39 L152.46 247.69 L152.72 246.52 L152.98 245.36 L153.24 245.17 L153.5 244.35 L154.03 244.47 L154.57 243.06 L155.1 242.74 L155.38 244.03 L155.65 243.64 L155.92 244.74 L156.2 245.87 L156.42 246.62 L156.64 246.55 L156.86 247.34 L157.08 248.18 L157.3 250 L157.49 249.9 L157.68 251.17 L157.86 252.04 L158.05 252.06 L158.24 252.66 L158.43 254.17 L158.61 254.45 L158.8 254.71 L159 255.93 L159.2 256.13 L159.4 256.78 L159.6 257.24 L159.8 258.55 L160 259.29 L160.2 259.77 L160.78 260.38 L161.36 260.7 L161.94 261.2 L162.52 261.7 L163.1 262.2 L206.4 262.2 Z" fill="#a8a8a8" fill-opacity="0.85" stroke="none"/><path d="M142.8 262.2 L145 262.2 L145.7 261.97 L146.4 261.73 L147.1 261.5 L147.54 260.84 L147.98 260.05 L148.42 259.75 L148.86 259.02 L149.3 257.83 L149.54 257.61 L149.79 256.58 L150.03 255.82 L150.27 255.03 L150.51 254.09 L150.76 253.15 L151 252.74 L151.17 252.11 L151.34 252.12 L151.51 250.41 L151.69 250.7 L151.86 249.08 L152.03 248.54 L152.2 248.39 L152.46 247.69 L152.72 246.52 L152.98 245.36 L153.24 245.17 L153.5 244.35 L154.03 244.47 L154.57 243.06 L155.1 242.74 L155.38 244.03 L155.65 243.64 L155.92 244.74 L156.2 245.87 L156.42 246.62 L156.64 246.55 L156.86 247.34 L157.08 248.18 L157.3 250 L157.49 249.9 L157.68 251.17 L157.86 252.04 L158.05 252.06 L158.24 252.66 L158.43 254.17 L158.61 254.45 L158.8 254.71 L159 255.93 L159.2 256.13 L159.4 256.78 L159.6 257.24 L159.8 258.55 L160 259.29 L160.2 259.77 L160.78 260.38 L161.36 260.7 L161.94 261.2 L162.52 261.7 L163.1 262.2 L206.4 262.2" fill="none" stroke="#000000" stroke-width="1.75" stroke-linejoin="round"/><path d="M135.2 267.1 L139.69 267.06 L139.94 267 L140.19 266.86 L140.44 266.57 L140.69 266.01 L140.94 264.96 L141.19 263.17 L141.44 260.31 L141.68 256.09 L141.93 250.31 L142.18 243.05 L142.43 234.73 L142.68 226.15 L142.93 218.43 L143.18 212.73 L143.43 210.04 L143.68 210.45 L143.93 212.94 L144.18 217.19 L144.43 222.77 L144.68 229.15 L144.93 235.79 L145.18 242.2 L145.43 248.01 L145.68 252.99 L145.92 257.05 L146.17 260.2 L146.42 262.54 L146.67 264.19 L146.92 265.31 L147.17 266.04 L147.42 266.49 L147.67 266.77 L147.92 266.92 L148.17 267.01 L148.67 267.08 L198.8 267.1 Z" fill="#22cef8" fill-opacity="0.75" stroke="none"/><path d="M135.2 267.1 L139.69 267.06 L139.94 267 L140.19 266.86 L140.44 266.57 L140.69 266.01 L140.94 264.96 L141.19 263.17 L141.44 260.31 L141.68 256.09 L141.93 250.31 L142.18 243.05 L142.43 234.73 L142.68 226.15 L142.93 218.43 L143.18 212.73 L143.43 210.04 L143.68 210.45 L143.93 212.94 L144.18 217.19 L144.43 222.77 L144.68 229.15 L144.93 235.79 L145.18 242.2 L145.43 248.01 L145.68 252.99 L145.92 257.05 L146.17 260.2 L146.42 262.54 L146.67 264.19 L146.92 265.31 L147.17 266.04 L147.42 266.49 L147.67 266.77 L147.92 266.92 L148.17 267.01 L148.67 267.08 L198.8 267.1" fill="none" stroke="#12c2f2" stroke-width="1.3" stroke-linejoin="round"/><path d="M127.6 272 L132.34 271.96 L132.59 271.9 L132.84 271.73 L133.09 271.35 L133.34 270.56 L133.59 269.05 L133.84 266.39 L134.08 262.11 L134.33 255.86 L134.58 247.61 L134.83 237.87 L135.08 227.76 L135.33 218.9 L135.58 212.97 L135.83 211.22 L136.08 213.14 L136.33 217.85 L136.58 224.68 L136.83 232.72 L137.08 241.03 L137.33 248.8 L137.58 255.5 L137.83 260.85 L138.08 264.84 L138.32 267.63 L138.57 269.47 L138.82 270.61 L139.07 271.27 L139.32 271.64 L139.57 271.83 L139.82 271.92 L140.32 271.99 L191.2 272 Z" fill="#f07080" fill-opacity="0.6" stroke="none"/><path d="M127.6 272 L132.34 271.96 L132.59 271.9 L132.84 271.73 L133.09 271.35 L133.34 270.56 L133.59 269.05 L133.84 266.39 L134.08 262.11 L134.33 255.86 L134.58 247.61 L134.83 237.87 L135.08 227.76 L135.33 218.9 L135.58 212.97 L135.83 211.22 L136.08 213.14 L136.33 217.85 L136.58 224.68 L136.83 232.72 L137.08 241.03 L137.33 248.8 L137.58 255.5 L137.83 260.85 L138.08 264.84 L138.32 267.63 L138.57 269.47 L138.82 270.61 L139.07 271.27 L139.32 271.64 L139.57 271.83 L139.82 271.92 L140.32 271.99 L191.2 272" fill="none" stroke="#ee2a3a" stroke-width="1.3" stroke-linejoin="round"/><path d="M120 276.9 L126.24 276.84 L126.48 276.79 L126.73 276.7 L126.98 276.55 L127.23 276.3 L127.48 275.92 L127.73 275.36 L127.98 274.55 L128.23 273.46 L128.48 272.04 L128.73 270.27 L128.98 268.2 L129.23 265.89 L129.48 263.47 L129.73 261.11 L129.98 259 L130.23 257.34 L130.48 256.31 L130.72 256 L130.97 256.18 L131.22 256.64 L131.47 257.37 L131.72 258.34 L131.97 259.5 L132.22 260.82 L132.47 262.25 L132.72 263.74 L132.97 265.24 L133.22 266.72 L133.47 268.13 L133.72 269.46 L133.97 270.67 L134.22 271.76 L134.47 272.71 L134.72 273.54 L134.96 274.24 L135.21 274.83 L135.46 275.3 L135.71 275.69 L135.96 276 L136.21 276.23 L136.46 276.41 L136.71 276.55 L136.96 276.65 L137.21 276.73 L137.46 276.78 L137.96 276.85 L139.7 276.9 L183.6 276.9 Z" fill="#f5a050" fill-opacity="0.55" stroke="none"/><path d="M120 276.9 L126.24 276.84 L126.48 276.79 L126.73 276.7 L126.98 276.55 L127.23 276.3 L127.48 275.92 L127.73 275.36 L127.98 274.55 L128.23 273.46 L128.48 272.04 L128.73 270.27 L128.98 268.2 L129.23 265.89 L129.48 263.47 L129.73 261.11 L129.98 259 L130.23 257.34 L130.48 256.31 L130.72 256 L130.97 256.18 L131.22 256.64 L131.47 257.37 L131.72 258.34 L131.97 259.5 L132.22 260.82 L132.47 262.25 L132.72 263.74 L132.97 265.24 L133.22 266.72 L133.47 268.13 L133.72 269.46 L133.97 270.67 L134.22 271.76 L134.47 272.71 L134.72 273.54 L134.96 274.24 L135.21 274.83 L135.46 275.3 L135.71 275.69 L135.96 276 L136.21 276.23 L136.46 276.41 L136.71 276.55 L136.96 276.65 L137.21 276.73 L137.46 276.78 L137.96 276.85 L139.7 276.9 L183.6 276.9" fill="none" stroke="#f7941d" stroke-width="1.2" stroke-linejoin="round"/><g font-size="4.9" font-weight="bold" fill="#707070" text-anchor="middle"><text x="128" y="283.1">0</text><text x="147.8" y="283.1">10<tspan font-size="3.3" dy="-1.7">3</tspan></text><text x="162.7" y="283.1">10<tspan font-size="3.3" dy="-1.7">4</tspan></text><text x="177.5" y="283.1">10<tspan font-size="3.3" dy="-1.7">5</tspan></text></g><line x1="128" y1="276.9" x2="128" y2="278.1" stroke="#333" stroke-width="0.7"/><line x1="147.8" y1="276.9" x2="147.8" y2="278.1" stroke="#333" stroke-width="0.7"/><line x1="162.7" y1="276.9" x2="162.7" y2="278.1" stroke="#333" stroke-width="0.7"/><line x1="177.5" y1="276.9" x2="177.5" y2="278.1" stroke="#333" stroke-width="0.7"/><text x="153.3" y="290.2" font-size="7.6" font-weight="bold" text-anchor="middle" fill="#111" stroke="#111" stroke-width="0.2">Ror2</text><line x1="124" y1="252" x2="128.5" y2="256" stroke="#f7941d" stroke-width="1.2"/><text transform="translate(110.3 251) scale(0.9 1)" font-size="6.4" font-weight="bold" fill="#1a1a1a" stroke="#1a1a1a" stroke-width="0.15">0.9%</text><line x1="129" y1="220" x2="133" y2="224" stroke="#ee2a3a" stroke-width="1.2"/><text transform="translate(115.8 220.2) scale(0.9 1)" font-size="6.4" font-weight="bold" fill="#1a1a1a" stroke="#1a1a1a" stroke-width="0.15">1.5%</text><line x1="146" y1="223" x2="150" y2="217" stroke="#16c0ee" stroke-width="1.2"/><text transform="translate(151.2 216.8) scale(0.9 1)" font-size="6.4" font-weight="bold" fill="#1a1a1a" stroke="#1a1a1a" stroke-width="0.15">1.8%</text><line x1="159" y1="247" x2="163" y2="244" stroke="#000" stroke-width="1.2"/><text transform="translate(163.6 245) scale(0.9 1)" font-size="6.4" font-weight="bold" fill="#1a1a1a" stroke="#1a1a1a" stroke-width="0.15">2.9%</text></g><g><path d="M216 276.9 L279.6 276.9 L302.4 262.2 L238.8 262.2 Z" fill="#ececec" fill-opacity="0.7"/><line x1="216" y1="276.9" x2="238.8" y2="262.2" stroke="#333" stroke-width="0.75"/><line x1="223.5" y1="276.9" x2="246.3" y2="262.2" stroke="#333" stroke-width="0.75"/><line x1="238.8" y1="276.9" x2="261.6" y2="262.2" stroke="#333" stroke-width="0.75"/><line x1="254.1" y1="276.9" x2="276.9" y2="262.2" stroke="#333" stroke-width="0.75"/><line x1="269.4" y1="276.9" x2="292.2" y2="262.2" stroke="#333" stroke-width="0.75"/><line x1="279.6" y1="276.9" x2="302.4" y2="262.2" stroke="#333" stroke-width="0.75"/><path d="M238.8 262.19 L239.55 262.16 L240.3 262.09 L241.04 261.93 L241.79 261.6 L242.54 260.93 L243.29 259.5 L244.04 257.52 L244.79 254.76 L245.53 251.3 L246.28 246.37 L247.03 240.36 L247.78 235.26 L248.53 231.84 L249.28 230.33 L250.02 231.72 L250.77 234.06 L251.52 239.68 L252.27 245.13 L253.02 250.46 L253.76 254.73 L254.51 257.69 L255.26 259.6 L256.01 260.94 L256.76 261.62 L257.51 261.95 L258.25 262.1 L259 262.17 L302.4 262.2 Z" fill="#a8a8a8" fill-opacity="0.85" stroke="none"/><path d="M238.8 262.19 L239.55 262.16 L240.3 262.09 L241.04 261.93 L241.79 261.6 L242.54 260.93 L243.29 259.5 L244.04 257.52 L244.79 254.76 L245.53 251.3 L246.28 246.37 L247.03 240.36 L247.78 235.26 L248.53 231.84 L249.28 230.33 L250.02 231.72 L250.77 234.06 L251.52 239.68 L252.27 245.13 L253.02 250.46 L253.76 254.73 L254.51 257.69 L255.26 259.6 L256.01 260.94 L256.76 261.62 L257.51 261.95 L258.25 262.1 L259 262.17 L302.4 262.2" fill="none" stroke="#000000" stroke-width="1.75" stroke-linejoin="round"/><path d="M231.2 267.1 L236.69 267.07 L236.94 267.01 L237.19 266.88 L237.44 266.55 L237.68 265.87 L237.93 264.53 L238.18 262.13 L238.43 258.19 L238.68 252.33 L238.93 244.42 L239.18 234.85 L239.43 224.63 L239.68 215.31 L239.93 208.6 L240.18 205.92 L240.43 207.47 L240.68 212.5 L240.93 220.11 L241.18 229.11 L241.43 238.23 L241.68 246.49 L241.92 253.27 L242.17 258.38 L242.42 261.93 L242.67 264.22 L242.92 265.6 L243.17 266.36 L243.42 266.76 L243.67 266.95 L243.92 267.04 L244.42 267.09 L294.8 267.1 Z" fill="#22cef8" fill-opacity="0.75" stroke="none"/><path d="M231.2 267.1 L236.69 267.07 L236.94 267.01 L237.19 266.88 L237.44 266.55 L237.68 265.87 L237.93 264.53 L238.18 262.13 L238.43 258.19 L238.68 252.33 L238.93 244.42 L239.18 234.85 L239.43 224.63 L239.68 215.31 L239.93 208.6 L240.18 205.92 L240.43 207.47 L240.68 212.5 L240.93 220.11 L241.18 229.11 L241.43 238.23 L241.68 246.49 L241.92 253.27 L242.17 258.38 L242.42 261.93 L242.67 264.22 L242.92 265.6 L243.17 266.36 L243.42 266.76 L243.67 266.95 L243.92 267.04 L244.42 267.09 L294.8 267.1" fill="none" stroke="#12c2f2" stroke-width="1.3" stroke-linejoin="round"/><path d="M223.6 272 L228.09 271.92 L228.34 271.86 L228.59 271.77 L228.84 271.63 L229.09 271.42 L229.34 271.1 L229.59 270.64 L229.84 269.99 L230.08 269.1 L230.33 267.93 L230.58 266.42 L230.83 264.53 L231.08 262.24 L231.33 259.56 L231.58 256.52 L231.83 253.2 L232.08 249.72 L232.33 246.22 L232.58 242.9 L232.83 239.93 L233.08 237.51 L233.33 235.8 L233.58 234.91 L233.83 234.89 L234.08 235.6 L234.32 236.97 L234.57 238.94 L234.82 241.38 L235.07 244.19 L235.32 247.22 L235.57 250.34 L235.82 253.42 L236.07 256.37 L236.32 259.1 L236.57 261.56 L236.82 263.71 L237.07 265.54 L237.32 267.06 L237.57 268.3 L237.82 269.28 L238.07 270.04 L238.32 270.61 L238.56 271.04 L238.81 271.34 L239.06 271.56 L239.31 271.71 L239.56 271.81 L239.81 271.88 L240.31 271.96 L287.2 272 Z" fill="#f07080" fill-opacity="0.6" stroke="none"/><path d="M223.6 272 L228.09 271.92 L228.34 271.86 L228.59 271.77 L228.84 271.63 L229.09 271.42 L229.34 271.1 L229.59 270.64 L229.84 269.99 L230.08 269.1 L230.33 267.93 L230.58 266.42 L230.83 264.53 L231.08 262.24 L231.33 259.56 L231.58 256.52 L231.83 253.2 L232.08 249.72 L232.33 246.22 L232.58 242.9 L232.83 239.93 L233.08 237.51 L233.33 235.8 L233.58 234.91 L233.83 234.89 L234.08 235.6 L234.32 236.97 L234.57 238.94 L234.82 241.38 L235.07 244.19 L235.32 247.22 L235.57 250.34 L235.82 253.42 L236.07 256.37 L236.32 259.1 L236.57 261.56 L236.82 263.71 L237.07 265.54 L237.32 267.06 L237.57 268.3 L237.82 269.28 L238.07 270.04 L238.32 270.61 L238.56 271.04 L238.81 271.34 L239.06 271.56 L239.31 271.71 L239.56 271.81 L239.81 271.88 L240.31 271.96 L287.2 272" fill="none" stroke="#ee2a3a" stroke-width="1.3" stroke-linejoin="round"/><path d="M216 276.9 L223.48 276.85 L223.73 276.8 L223.98 276.72 L224.23 276.6 L224.48 276.41 L224.73 276.11 L224.98 275.68 L225.23 275.06 L225.48 274.23 L225.73 273.13 L225.98 271.75 L226.23 270.09 L226.48 268.18 L226.72 266.07 L226.97 263.87 L227.22 261.72 L227.47 259.77 L227.72 258.16 L227.97 257.05 L228.22 256.53 L228.47 256.59 L228.72 257.05 L228.97 257.86 L229.22 258.99 L229.47 260.37 L229.72 261.94 L229.97 263.61 L230.22 265.33 L230.47 267.01 L230.72 268.61 L230.96 270.08 L231.21 271.4 L231.46 272.55 L231.71 273.52 L231.96 274.33 L232.21 274.98 L232.46 275.49 L232.71 275.89 L232.96 276.19 L233.21 276.41 L233.46 276.56 L233.71 276.68 L233.96 276.75 L234.21 276.81 L234.71 276.86 L279.6 276.9 Z" fill="#f5a050" fill-opacity="0.55" stroke="none"/><path d="M216 276.9 L223.48 276.85 L223.73 276.8 L223.98 276.72 L224.23 276.6 L224.48 276.41 L224.73 276.11 L224.98 275.68 L225.23 275.06 L225.48 274.23 L225.73 273.13 L225.98 271.75 L226.23 270.09 L226.48 268.18 L226.72 266.07 L226.97 263.87 L227.22 261.72 L227.47 259.77 L227.72 258.16 L227.97 257.05 L228.22 256.53 L228.47 256.59 L228.72 257.05 L228.97 257.86 L229.22 258.99 L229.47 260.37 L229.72 261.94 L229.97 263.61 L230.22 265.33 L230.47 267.01 L230.72 268.61 L230.96 270.08 L231.21 271.4 L231.46 272.55 L231.71 273.52 L231.96 274.33 L232.21 274.98 L232.46 275.49 L232.71 275.89 L232.96 276.19 L233.21 276.41 L233.46 276.56 L233.71 276.68 L233.96 276.75 L234.21 276.81 L234.71 276.86 L279.6 276.9" fill="none" stroke="#f7941d" stroke-width="1.2" stroke-linejoin="round"/><g font-size="4.9" font-weight="bold" fill="#707070" text-anchor="middle"><text x="224" y="283.1">0</text><text x="243.8" y="283.1">10<tspan font-size="3.3" dy="-1.7">3</tspan></text><text x="258.7" y="283.1">10<tspan font-size="3.3" dy="-1.7">4</tspan></text><text x="273.5" y="283.1">10<tspan font-size="3.3" dy="-1.7">5</tspan></text></g><line x1="224" y1="276.9" x2="224" y2="278.1" stroke="#333" stroke-width="0.7"/><line x1="243.8" y1="276.9" x2="243.8" y2="278.1" stroke="#333" stroke-width="0.7"/><line x1="258.7" y1="276.9" x2="258.7" y2="278.1" stroke="#333" stroke-width="0.7"/><line x1="273.5" y1="276.9" x2="273.5" y2="278.1" stroke="#333" stroke-width="0.7"/><text x="249.9" y="290.2" font-size="7.6" font-weight="bold" text-anchor="middle" fill="#111" stroke="#111" stroke-width="0.2">CD13</text><line x1="221" y1="258" x2="224" y2="263" stroke="#f7941d" stroke-width="1.2"/><text transform="translate(210.8 256.5) scale(0.9 1)" font-size="6.4" font-weight="bold" fill="#1a1a1a" stroke="#1a1a1a" stroke-width="0.15">0.5%</text><line x1="227" y1="233" x2="232" y2="238" stroke="#ee2a3a" stroke-width="1.2"/><text transform="translate(213.8 232.7) scale(0.9 1)" font-size="6.4" font-weight="bold" fill="#1a1a1a" stroke="#1a1a1a" stroke-width="0.15">2.1%</text><line x1="234" y1="212" x2="238" y2="216" stroke="#16c0ee" stroke-width="1.2"/><text transform="translate(219.4 211.8) scale(0.9 1)" font-size="6.4" font-weight="bold" fill="#1a1a1a" stroke="#1a1a1a" stroke-width="0.15">4.5%</text><line x1="252" y1="235" x2="255" y2="232" stroke="#000" stroke-width="1.2"/><text transform="translate(256 232.7) scale(0.9 1)" font-size="6.4" font-weight="bold" fill="#1a1a1a" stroke="#1a1a1a" stroke-width="0.15">2.7%</text></g><g><path d="M311.7 276.9 L375.3 276.9 L398.1 262.2 L334.5 262.2 Z" fill="#ececec" fill-opacity="0.7"/><line x1="311.7" y1="276.9" x2="334.5" y2="262.2" stroke="#333" stroke-width="0.75"/><line x1="319.2" y1="276.9" x2="342" y2="262.2" stroke="#333" stroke-width="0.75"/><line x1="334.5" y1="276.9" x2="357.3" y2="262.2" stroke="#333" stroke-width="0.75"/><line x1="349.8" y1="276.9" x2="372.6" y2="262.2" stroke="#333" stroke-width="0.75"/><line x1="365.1" y1="276.9" x2="387.9" y2="262.2" stroke="#333" stroke-width="0.75"/><line x1="375.3" y1="276.9" x2="398.1" y2="262.2" stroke="#333" stroke-width="0.75"/><path d="M334.5 262.2 L337.5 262.2 L338.12 261.7 L338.74 261.2 L339.36 260.7 L339.98 260.13 L340.6 259.63 L340.92 259.18 L341.23 257.97 L341.55 257.32 L341.87 257.17 L342.18 255.9 L342.5 254.98 L342.78 254.19 L343.07 254.06 L343.35 253.04 L343.63 253.08 L343.92 252.21 L344.2 251.59 L344.6 249.97 L345 249 L345.4 248.27 L345.8 248 L346.23 247.55 L346.67 246.54 L347.1 245.58 L347.38 246.52 L347.66 247.48 L347.94 248.27 L348.22 249.08 L348.5 249.92 L348.75 250.43 L349 250.51 L349.25 252.11 L349.5 252.19 L349.75 253.25 L350 253.75 L350.3 254.91 L350.6 254.98 L350.9 255.76 L351.2 256.5 L351.5 257.17 L351.85 258.53 L352.2 259 L352.55 259.59 L352.9 260.36 L353.43 260.87 L353.97 261.33 L354.5 261.8 L355.2 261.93 L355.9 262.07 L356.6 262.2 L398.1 262.2 Z" fill="#a8a8a8" fill-opacity="0.85" stroke="none"/><path d="M334.5 262.2 L337.5 262.2 L338.12 261.7 L338.74 261.2 L339.36 260.7 L339.98 260.13 L340.6 259.63 L340.92 259.18 L341.23 257.97 L341.55 257.32 L341.87 257.17 L342.18 255.9 L342.5 254.98 L342.78 254.19 L343.07 254.06 L343.35 253.04 L343.63 253.08 L343.92 252.21 L344.2 251.59 L344.6 249.97 L345 249 L345.4 248.27 L345.8 248 L346.23 247.55 L346.67 246.54 L347.1 245.58 L347.38 246.52 L347.66 247.48 L347.94 248.27 L348.22 249.08 L348.5 249.92 L348.75 250.43 L349 250.51 L349.25 252.11 L349.5 252.19 L349.75 253.25 L350 253.75 L350.3 254.91 L350.6 254.98 L350.9 255.76 L351.2 256.5 L351.5 257.17 L351.85 258.53 L352.2 259 L352.55 259.59 L352.9 260.36 L353.43 260.87 L353.97 261.33 L354.5 261.8 L355.2 261.93 L355.9 262.07 L356.6 262.2 L398.1 262.2" fill="none" stroke="#000000" stroke-width="1.75" stroke-linejoin="round"/><path d="M326.9 267.1 L331.89 267.04 L332.14 266.97 L332.39 266.83 L332.64 266.59 L332.89 266.15 L333.14 265.42 L333.38 264.26 L333.63 262.5 L333.88 259.95 L334.13 256.47 L334.38 251.96 L334.63 246.44 L334.88 240.11 L335.13 233.33 L335.38 226.63 L335.63 220.65 L335.88 216.04 L336.13 213.35 L336.38 212.86 L336.63 213.92 L336.88 216.21 L337.13 219.57 L337.38 223.78 L337.62 228.56 L337.87 233.63 L338.12 238.74 L338.37 243.64 L338.62 248.16 L338.87 252.18 L339.12 255.63 L339.37 258.49 L339.62 260.79 L339.87 262.59 L340.12 263.95 L340.37 264.96 L340.62 265.68 L340.87 266.18 L341.12 266.52 L341.37 266.74 L341.62 266.88 L341.86 266.97 L342.11 267.03 L342.61 267.08 L390.5 267.1 Z" fill="#22cef8" fill-opacity="0.75" stroke="none"/><path d="M326.9 267.1 L331.89 267.04 L332.14 266.97 L332.39 266.83 L332.64 266.59 L332.89 266.15 L333.14 265.42 L333.38 264.26 L333.63 262.5 L333.88 259.95 L334.13 256.47 L334.38 251.96 L334.63 246.44 L334.88 240.11 L335.13 233.33 L335.38 226.63 L335.63 220.65 L335.88 216.04 L336.13 213.35 L336.38 212.86 L336.63 213.92 L336.88 216.21 L337.13 219.57 L337.38 223.78 L337.62 228.56 L337.87 233.63 L338.12 238.74 L338.37 243.64 L338.62 248.16 L338.87 252.18 L339.12 255.63 L339.37 258.49 L339.62 260.79 L339.87 262.59 L340.12 263.95 L340.37 264.96 L340.62 265.68 L340.87 266.18 L341.12 266.52 L341.37 266.74 L341.62 266.88 L341.86 266.97 L342.11 267.03 L342.61 267.08 L390.5 267.1" fill="none" stroke="#12c2f2" stroke-width="1.3" stroke-linejoin="round"/><path d="M319.3 272 L322.79 271.95 L323.04 271.89 L323.29 271.77 L323.54 271.54 L323.79 271.14 L324.04 270.45 L324.29 269.34 L324.54 267.61 L324.79 265.07 L325.04 261.52 L325.29 256.82 L325.54 250.94 L325.78 244.02 L326.03 236.4 L326.28 228.62 L326.53 221.37 L326.78 215.42 L327.03 211.43 L327.28 209.91 L327.53 211.04 L327.78 214.67 L328.03 220.37 L328.28 227.47 L328.53 235.22 L328.78 242.9 L329.03 249.96 L329.28 256 L329.53 260.88 L329.78 264.6 L330.02 267.28 L330.27 269.12 L330.52 270.32 L330.77 271.06 L331.02 271.49 L331.27 271.74 L331.52 271.87 L331.77 271.94 L332.52 272 L382.9 272 Z" fill="#f07080" fill-opacity="0.6" stroke="none"/><path d="M319.3 272 L322.79 271.95 L323.04 271.89 L323.29 271.77 L323.54 271.54 L323.79 271.14 L324.04 270.45 L324.29 269.34 L324.54 267.61 L324.79 265.07 L325.04 261.52 L325.29 256.82 L325.54 250.94 L325.78 244.02 L326.03 236.4 L326.28 228.62 L326.53 221.37 L326.78 215.42 L327.03 211.43 L327.28 209.91 L327.53 211.04 L327.78 214.67 L328.03 220.37 L328.28 227.47 L328.53 235.22 L328.78 242.9 L329.03 249.96 L329.28 256 L329.53 260.88 L329.78 264.6 L330.02 267.28 L330.27 269.12 L330.52 270.32 L330.77 271.06 L331.02 271.49 L331.27 271.74 L331.52 271.87 L331.77 271.94 L332.52 272 L382.9 272" fill="none" stroke="#ee2a3a" stroke-width="1.3" stroke-linejoin="round"/><path d="M311.7 276.9 L317.94 276.86 L318.18 276.81 L318.43 276.68 L318.68 276.41 L318.93 275.91 L319.18 275.05 L319.43 273.69 L319.68 271.73 L319.93 269.2 L320.18 266.28 L320.43 263.34 L320.68 260.86 L320.93 259.32 L321.18 259.07 L321.43 260.14 L321.68 262.32 L321.93 265.15 L322.18 268.13 L322.42 270.84 L322.67 273.02 L322.92 274.6 L323.17 275.64 L323.42 276.26 L323.67 276.6 L323.92 276.77 L324.17 276.85 L324.92 276.9 L375.3 276.9 Z" fill="#f5a050" fill-opacity="0.55" stroke="none"/><path d="M311.7 276.9 L317.94 276.86 L318.18 276.81 L318.43 276.68 L318.68 276.41 L318.93 275.91 L319.18 275.05 L319.43 273.69 L319.68 271.73 L319.93 269.2 L320.18 266.28 L320.43 263.34 L320.68 260.86 L320.93 259.32 L321.18 259.07 L321.43 260.14 L321.68 262.32 L321.93 265.15 L322.18 268.13 L322.42 270.84 L322.67 273.02 L322.92 274.6 L323.17 275.64 L323.42 276.26 L323.67 276.6 L323.92 276.77 L324.17 276.85 L324.92 276.9 L375.3 276.9" fill="none" stroke="#f7941d" stroke-width="1.2" stroke-linejoin="round"/><g font-size="4.9" font-weight="bold" fill="#707070" text-anchor="middle"><text x="319.7" y="283.1">0</text><text x="339.5" y="283.1">10<tspan font-size="3.3" dy="-1.7">3</tspan></text><text x="354.4" y="283.1">10<tspan font-size="3.3" dy="-1.7">4</tspan></text><text x="369.2" y="283.1">10<tspan font-size="3.3" dy="-1.7">5</tspan></text></g><line x1="319.7" y1="276.9" x2="319.7" y2="278.1" stroke="#333" stroke-width="0.7"/><line x1="339.5" y1="276.9" x2="339.5" y2="278.1" stroke="#333" stroke-width="0.7"/><line x1="354.4" y1="276.9" x2="354.4" y2="278.1" stroke="#333" stroke-width="0.7"/><line x1="369.2" y1="276.9" x2="369.2" y2="278.1" stroke="#333" stroke-width="0.7"/><text x="347.6" y="290.2" font-size="7.6" font-weight="bold" text-anchor="middle" fill="#111" stroke="#111" stroke-width="0.2">CD309</text><line x1="315.8" y1="253.1" x2="319.5" y2="258.2" stroke="#f7941d" stroke-width="1.2"/><text transform="translate(307.4 252) scale(0.9 1)" font-size="6.4" font-weight="bold" fill="#1a1a1a" stroke="#1a1a1a" stroke-width="0.15">0.7%</text><line x1="320" y1="224" x2="325" y2="227" stroke="#ee2a3a" stroke-width="1.2"/><text transform="translate(307.4 223.1) scale(0.9 1)" font-size="6.4" font-weight="bold" fill="#1a1a1a" stroke="#1a1a1a" stroke-width="0.15">3.4%</text><line x1="338" y1="222" x2="341" y2="217" stroke="#16c0ee" stroke-width="1.2"/><text transform="translate(342.2 216.2) scale(0.9 1)" font-size="6.4" font-weight="bold" fill="#1a1a1a" stroke="#1a1a1a" stroke-width="0.15">1.6%</text><line x1="351" y1="250" x2="355" y2="248" stroke="#000" stroke-width="1.2"/><text transform="translate(355.9 248.6) scale(0.9 1)" font-size="6.4" font-weight="bold" fill="#1a1a1a" stroke="#1a1a1a" stroke-width="0.15">3.3%</text></g><g><path d="M408 276.9 L471.6 276.9 L494.4 262.2 L430.8 262.2 Z" fill="#ececec" fill-opacity="0.7"/><line x1="408" y1="276.9" x2="430.8" y2="262.2" stroke="#333" stroke-width="0.75"/><line x1="415.5" y1="276.9" x2="438.3" y2="262.2" stroke="#333" stroke-width="0.75"/><line x1="430.8" y1="276.9" x2="453.6" y2="262.2" stroke="#333" stroke-width="0.75"/><line x1="446.1" y1="276.9" x2="468.9" y2="262.2" stroke="#333" stroke-width="0.75"/><line x1="461.4" y1="276.9" x2="484.2" y2="262.2" stroke="#333" stroke-width="0.75"/><line x1="471.6" y1="276.9" x2="494.4" y2="262.2" stroke="#333" stroke-width="0.75"/><path d="M430.8 262.2 L437 262.2 L437.1 261.48 L437.2 260.76 L437.3 260.25 L437.4 259.32 L437.5 258.4 L437.6 258.14 L437.7 257.31 L437.8 257 L437.9 255.23 L438 254.96 L438.1 254.65 L438.2 253.96 L438.3 253.32 L438.4 251.55 L438.5 251.14 L438.6 250.21 L438.7 249.57 L438.8 249.79 L438.9 248.6 L438.96 248.29 L439.02 246.89 L439.09 246.75 L439.15 245.52 L439.21 244.57 L439.27 244.46 L439.33 243.93 L439.4 242.2 L439.46 242.06 L439.52 241.36 L439.58 240.15 L439.64 239.6 L439.7 238.6 L439.77 237.94 L439.83 237.28 L439.89 236.96 L439.95 236.3 L440.01 235.03 L440.08 234.07 L440.14 233.72 L440.2 233.41 L440.26 232.1 L440.31 231.54 L440.37 230.69 L440.43 230.68 L440.48 229.67 L440.54 228.37 L440.6 227.7 L440.65 227.34 L440.71 226.8 L440.77 226.19 L440.82 224.82 L440.88 224.19 L440.93 224.11 L440.99 223.05 L441.05 222.18 L441.1 221.49 L441.16 221.55 L441.22 220.06 L441.27 219.65 L441.33 218.68 L441.39 218.03 L441.44 217.85 L441.5 217.3 L441.59 215.81 L441.67 214.88 L441.76 214.79 L441.84 213.43 L441.93 212.46 L442.01 212.81 L442.1 211.51 L442.19 211.26 L442.27 210.03 L442.36 209.87 L442.44 208.64 L442.53 207.55 L442.61 206.65 L442.7 206.56 L442.9 205.94 L443.1 205.54 L443.3 203.83 L443.5 203.75 L443.7 202.72 L443.9 202.16 L444.1 201 L444.3 200.44 L444.42 201.43 L444.54 202.61 L444.66 202.33 L444.78 203.49 L444.9 204.57 L445.02 205.46 L445.14 205.24 L445.26 205.85 L445.38 207.53 L445.5 208.27 L445.56 208.39 L445.62 208.59 L445.68 210.34 L445.74 210.41 L445.81 211.74 L445.87 212.11 L445.93 213.07 L445.99 212.98 L446.05 214.44 L446.11 214.48 L446.17 215.41 L446.23 216.65 L446.29 217.34 L446.36 217.28 L446.42 218.03 L446.48 218.96 L446.54 219.81 L446.6 220.36 L446.68 220.76 L446.75 221.62 L446.83 222.91 L446.9 223.83 L446.98 223.51 L447.05 224.85 L447.12 225.8 L447.2 225.65 L447.28 227.32 L447.35 227.17 L447.43 228.46 L447.5 229.11 L447.57 229.91 L447.65 230.24 L447.73 231.09 L447.8 232 L448.06 232.59 L448.32 233.65 L448.58 234.18 L448.84 234.95 L449.1 235.23 L449.36 235.18 L449.62 234.27 L449.88 233.2 L450.14 233.08 L450.4 232.34 L451.05 231.6 L451.7 230.92 L451.85 231.98 L452 232.25 L452.15 232.99 L452.3 234.07 L452.45 234.37 L452.6 235.51 L452.75 236.3 L452.9 236.45 L453.04 237.87 L453.19 237.92 L453.33 239.41 L453.48 240.18 L453.62 240.57 L453.77 240.73 L453.91 241.98 L454.06 242.54 L454.2 243.94 L454.39 243.69 L454.57 245.29 L454.76 246.18 L454.94 246.59 L455.13 247.42 L455.31 247.4 L455.5 249.08 L455.69 249.22 L455.87 250.51 L456.06 251.18 L456.24 251.01 L456.43 252.49 L456.61 253.39 L456.8 253.08 L457.07 254.15 L457.34 255.36 L457.61 255.38 L457.89 256.97 L458.16 257.02 L458.43 258.24 L458.7 258.45 L459.2 259.34 L459.7 260.17 L460.2 260.53 L460.7 261.26 L461.2 261.9 L462 261.97 L462.8 262.05 L463.6 262.12 L464.4 262.2 L494.4 262.2 Z" fill="#a8a8a8" fill-opacity="0.85" stroke="none"/><path d="M430.8 262.2 L437 262.2 L437.1 261.48 L437.2 260.76 L437.3 260.25 L437.4 259.32 L437.5 258.4 L437.6 258.14 L437.7 257.31 L437.8 257 L437.9 255.23 L438 254.96 L438.1 254.65 L438.2 253.96 L438.3 253.32 L438.4 251.55 L438.5 251.14 L438.6 250.21 L438.7 249.57 L438.8 249.79 L438.9 248.6 L438.96 248.29 L439.02 246.89 L439.09 246.75 L439.15 245.52 L439.21 244.57 L439.27 244.46 L439.33 243.93 L439.4 242.2 L439.46 242.06 L439.52 241.36 L439.58 240.15 L439.64 239.6 L439.7 238.6 L439.77 237.94 L439.83 237.28 L439.89 236.96 L439.95 236.3 L440.01 235.03 L440.08 234.07 L440.14 233.72 L440.2 233.41 L440.26 232.1 L440.31 231.54 L440.37 230.69 L440.43 230.68 L440.48 229.67 L440.54 228.37 L440.6 227.7 L440.65 227.34 L440.71 226.8 L440.77 226.19 L440.82 224.82 L440.88 224.19 L440.93 224.11 L440.99 223.05 L441.05 222.18 L441.1 221.49 L441.16 221.55 L441.22 220.06 L441.27 219.65 L441.33 218.68 L441.39 218.03 L441.44 217.85 L441.5 217.3 L441.59 215.81 L441.67 214.88 L441.76 214.79 L441.84 213.43 L441.93 212.46 L442.01 212.81 L442.1 211.51 L442.19 211.26 L442.27 210.03 L442.36 209.87 L442.44 208.64 L442.53 207.55 L442.61 206.65 L442.7 206.56 L442.9 205.94 L443.1 205.54 L443.3 203.83 L443.5 203.75 L443.7 202.72 L443.9 202.16 L444.1 201 L444.3 200.44 L444.42 201.43 L444.54 202.61 L444.66 202.33 L444.78 203.49 L444.9 204.57 L445.02 205.46 L445.14 205.24 L445.26 205.85 L445.38 207.53 L445.5 208.27 L445.56 208.39 L445.62 208.59 L445.68 210.34 L445.74 210.41 L445.81 211.74 L445.87 212.11 L445.93 213.07 L445.99 212.98 L446.05 214.44 L446.11 214.48 L446.17 215.41 L446.23 216.65 L446.29 217.34 L446.36 217.28 L446.42 218.03 L446.48 218.96 L446.54 219.81 L446.6 220.36 L446.68 220.76 L446.75 221.62 L446.83 222.91 L446.9 223.83 L446.98 223.51 L447.05 224.85 L447.12 225.8 L447.2 225.65 L447.28 227.32 L447.35 227.17 L447.43 228.46 L447.5 229.11 L447.57 229.91 L447.65 230.24 L447.73 231.09 L447.8 232 L448.06 232.59 L448.32 233.65 L448.58 234.18 L448.84 234.95 L449.1 235.23 L449.36 235.18 L449.62 234.27 L449.88 233.2 L450.14 233.08 L450.4 232.34 L451.05 231.6 L451.7 230.92 L451.85 231.98 L452 232.25 L452.15 232.99 L452.3 234.07 L452.45 234.37 L452.6 235.51 L452.75 236.3 L452.9 236.45 L453.04 237.87 L453.19 237.92 L453.33 239.41 L453.48 240.18 L453.62 240.57 L453.77 240.73 L453.91 241.98 L454.06 242.54 L454.2 243.94 L454.39 243.69 L454.57 245.29 L454.76 246.18 L454.94 246.59 L455.13 247.42 L455.31 247.4 L455.5 249.08 L455.69 249.22 L455.87 250.51 L456.06 251.18 L456.24 251.01 L456.43 252.49 L456.61 253.39 L456.8 253.08 L457.07 254.15 L457.34 255.36 L457.61 255.38 L457.89 256.97 L458.16 257.02 L458.43 258.24 L458.7 258.45 L459.2 259.34 L459.7 260.17 L460.2 260.53 L460.7 261.26 L461.2 261.9 L462 261.97 L462.8 262.05 L463.6 262.12 L464.4 262.2 L494.4 262.2" fill="none" stroke="#000000" stroke-width="1.75" stroke-linejoin="round"/><path d="M423.2 267.1 L435.17 267.09 L435.42 267.04 L435.67 266.79 L435.92 265.84 L436.17 263.12 L436.42 257.27 L436.67 248.18 L436.92 238.71 L437.17 233.87 L437.42 235.9 L437.67 242.47 L437.92 250.74 L438.16 257.96 L438.41 262.8 L438.66 265.4 L438.91 266.53 L439.16 266.94 L439.41 267.06 L486.8 267.1 Z" fill="#22cef8" fill-opacity="0.75" stroke="none"/><path d="M423.2 267.1 L435.17 267.09 L435.42 267.04 L435.67 266.79 L435.92 265.84 L436.17 263.12 L436.42 257.27 L436.67 248.18 L436.92 238.71 L437.17 233.87 L437.42 235.9 L437.67 242.47 L437.92 250.74 L438.16 257.96 L438.41 262.8 L438.66 265.4 L438.91 266.53 L439.16 266.94 L439.41 267.06 L486.8 267.1" fill="none" stroke="#12c2f2" stroke-width="1.2" stroke-linejoin="round"/><path d="M415.6 272 L426.82 271.99 L427.07 271.93 L427.32 271.66 L427.57 270.7 L427.82 268.1 L428.07 262.86 L428.32 255.28 L428.57 248.17 L428.82 245.52 L429.07 249.05 L429.32 256.49 L429.57 263.83 L429.82 268.64 L430.07 270.93 L430.32 271.73 L430.56 271.95 L431.06 272 L479.2 272 Z" fill="#f07080" fill-opacity="0.6" stroke="none"/><path d="M415.6 272 L426.82 271.99 L427.07 271.93 L427.32 271.66 L427.57 270.7 L427.82 268.1 L428.07 262.86 L428.32 255.28 L428.57 248.17 L428.82 245.52 L429.07 249.05 L429.32 256.49 L429.57 263.83 L429.82 268.64 L430.07 270.93 L430.32 271.73 L430.56 271.95 L431.06 272 L479.2 272" fill="none" stroke="#ee2a3a" stroke-width="0.9" stroke-linejoin="round"/><path d="M408 276.9 L419.97 276.9 L420.22 276.82 L420.47 276.09 L420.72 271.81 L420.97 257.57 L421.22 232.72 L421.47 216.15 L421.72 226.62 L421.97 251.86 L422.22 269.39 L422.47 275.55 L422.72 276.75 L422.96 276.89 L471.6 276.9 Z" fill="#f5a050" fill-opacity="0.55" stroke="none"/><path d="M408 276.9 L419.97 276.9 L420.22 276.82 L420.47 276.09 L420.72 271.81 L420.97 257.57 L421.22 232.72 L421.47 216.15 L421.72 226.62 L421.97 251.86 L422.22 269.39 L422.47 275.55 L422.72 276.75 L422.96 276.89 L471.6 276.9" fill="none" stroke="#f7941d" stroke-width="1.0" stroke-linejoin="round"/><g font-size="4.9" font-weight="bold" fill="#707070" text-anchor="middle"><text x="412" y="283.1">-10<tspan font-size="3.3" dy="-1.7">3</tspan></text><text x="421.9" y="283.1">0</text><text x="431.8" y="283.1">10<tspan font-size="3.3" dy="-1.7">3</tspan></text><text x="449.7" y="283.1">10<tspan font-size="3.3" dy="-1.7">4</tspan></text><text x="465.2" y="283.1">10<tspan font-size="3.3" dy="-1.7">5</tspan></text></g><line x1="412" y1="276.9" x2="412" y2="278.1" stroke="#333" stroke-width="0.7"/><line x1="421.9" y1="276.9" x2="421.9" y2="278.1" stroke="#333" stroke-width="0.7"/><line x1="431.8" y1="276.9" x2="431.8" y2="278.1" stroke="#333" stroke-width="0.7"/><line x1="449.7" y1="276.9" x2="449.7" y2="278.1" stroke="#333" stroke-width="0.7"/><line x1="465.2" y1="276.9" x2="465.2" y2="278.1" stroke="#333" stroke-width="0.7"/><text x="442.6" y="290.2" font-size="7.6" font-weight="bold" text-anchor="middle" fill="#111" stroke="#111" stroke-width="0.2">CD140b</text><line x1="413" y1="252" x2="419" y2="255" stroke="#f7941d" stroke-width="1.2"/><text transform="translate(404 251) scale(0.9 1)" font-size="6.4" font-weight="bold" fill="#1a1a1a" stroke="#1a1a1a" stroke-width="0.15">0%</text><line x1="428.8" y1="245" x2="428.8" y2="250" stroke="#ee2a3a" stroke-width="1.2" stroke-dasharray="1.5 1"/><text transform="translate(424 244) scale(0.9 1)" font-size="6.4" font-weight="bold" fill="#1a1a1a" stroke="#1a1a1a" stroke-width="0.15">0%</text><line x1="431.3" y1="231.3" x2="435.7" y2="236.4" stroke="#16c0ee" stroke-width="1.2"/><text transform="translate(426.2 228.7) scale(0.9 1)" font-size="6.4" font-weight="bold" fill="#1a1a1a" stroke="#1a1a1a" stroke-width="0.15">0%</text><line x1="449" y1="223" x2="453" y2="221" stroke="#000" stroke-width="1.2"/><text transform="translate(454.3 220.8) scale(0.9 1)" font-size="6.4" font-weight="bold" fill="#1a1a1a" stroke="#1a1a1a" stroke-width="0.15">44.9%</text></g><path d="M19.4 296.3 V300.8 H482.7 V296.3" fill="none" stroke="#111" stroke-width="0.9"/><rect x="41.9" y="305.4" width="18" height="8.4" fill="#cdcdcd" stroke="#444" stroke-width="0.95"/><text x="62.3" y="312.5" font-size="7.65" font-weight="bold" fill="#111" stroke="#111" stroke-width="0.15">WT-CSC clone at D0</text><rect x="150.4" y="305.4" width="18" height="8.4" fill="#5ad8f4" stroke="#22c4ee" stroke-width="0.95"/><text x="170.8" y="312.5" font-size="7.65" font-weight="bold" fill="#111" stroke="#111" stroke-width="0.15">WT-CSC clone at D4</text><rect x="258.9" y="305.4" width="18" height="8.4" fill="#fab2b6" stroke="#f44050" stroke-width="0.95"/><text x="279.3" y="312.5" font-size="7.65" font-weight="bold" fill="#111" stroke="#111" stroke-width="0.15">WT-CSC clone at D8</text><rect x="367.3" y="305.4" width="18" height="8.4" fill="#fbd0a4" stroke="#f7941d" stroke-width="0.95"/><text x="387.7" y="312.5" font-size="7.65" font-weight="bold" fill="#111" stroke="#111" stroke-width="0.15">WT-CSC clone at D14</text><text x="97.3" y="351.3" font-size="17.4" font-weight="bold" fill="#111">B</text><g font-size="8.4" font-weight="bold" fill="#1a1a1a" stroke="#1a1a1a" stroke-width="0.15" text-anchor="end"><text x="145.7" y="369.96">Gata4</text><text x="145.7" y="381.89">Nkx2.5</text><text x="145.7" y="393.82">Mesp1</text><text x="145.7" y="405.75">Mef2c</text><text x="145.7" y="417.69">Nanog</text><text x="145.7" y="429.61">Oct4</text><text x="145.7" y="441.54">Hand1</text><text x="145.7" y="453.47">Hand2</text><text x="145.7" y="465.4">Myl2</text><text x="145.7" y="477.33">Myl7</text><text x="145.7" y="489.26">Myh6</text><text x="145.7" y="501.19">Myh7</text><text x="145.7" y="513.12">Tnnt2</text><text x="145.7" y="525.06">Actc1</text></g><line x1="147.6" y1="366.46" x2="153.1" y2="366.46" stroke="#000" stroke-width="1.3"/><line x1="147.6" y1="378.39" x2="153.1" y2="378.39" stroke="#000" stroke-width="1.3"/><line x1="147.6" y1="390.32" x2="153.1" y2="390.32" stroke="#000" stroke-width="1.3"/><line x1="147.6" y1="402.25" x2="153.1" y2="402.25" stroke="#000" stroke-width="1.3"/><line x1="147.6" y1="414.19" x2="153.1" y2="414.19" stroke="#000" stroke-width="1.3"/><line x1="147.6" y1="426.11" x2="153.1" y2="426.11" stroke="#000" stroke-width="1.3"/><line x1="147.6" y1="438.04" x2="153.1" y2="438.04" stroke="#000" stroke-width="1.3"/><line x1="147.6" y1="449.97" x2="153.1" y2="449.97" stroke="#000" stroke-width="1.3"/><line x1="147.6" y1="461.9" x2="153.1" y2="461.9" stroke="#000" stroke-width="1.3"/><line x1="147.6" y1="473.83" x2="153.1" y2="473.83" stroke="#000" stroke-width="1.3"/><line x1="147.6" y1="485.76" x2="153.1" y2="485.76" stroke="#000" stroke-width="1.3"/><line x1="147.6" y1="497.69" x2="153.1" y2="497.69" stroke="#000" stroke-width="1.3"/><line x1="147.6" y1="509.62" x2="153.1" y2="509.62" stroke="#000" stroke-width="1.3"/><line x1="147.6" y1="521.56" x2="153.1" y2="521.56" stroke="#000" stroke-width="1.3"/><rect x="153.1" y="360.5" width="11.95" height="11.93" fill="#1e1ef2"/><rect x="165.05" y="360.5" width="11.95" height="11.93" fill="#dcdcd8"/><rect x="177" y="360.5" width="11.95" height="11.93" fill="#dcdcd8"/><rect x="188.95" y="360.5" width="11.95" height="11.93" fill="#dcdcd8"/><rect x="153.1" y="372.43" width="11.95" height="11.93" fill="#1e1ef2"/><rect x="165.05" y="372.43" width="11.95" height="11.93" fill="#e8e4b2"/><rect x="177" y="372.43" width="11.95" height="11.93" fill="#ece69e"/><rect x="188.95" y="372.43" width="11.95" height="11.93" fill="#f0ea8a"/><rect x="153.1" y="384.36" width="11.95" height="11.93" fill="#1e1ef2"/><rect x="165.05" y="384.36" width="11.95" height="11.93" fill="#dcdcd8"/><rect x="177" y="384.36" width="11.95" height="11.93" fill="#9090e8"/><rect x="188.95" y="384.36" width="11.95" height="11.93" fill="#1e1ef2"/><rect x="153.1" y="396.29" width="11.95" height="11.93" fill="#1e1ef2"/><rect x="165.05" y="396.29" width="11.95" height="11.93" fill="#b4b4e2"/><rect x="177" y="396.29" width="11.95" height="11.93" fill="#dcdcd8"/><rect x="188.95" y="396.29" width="11.95" height="11.93" fill="#9090e8"/><rect x="153.1" y="408.22" width="11.95" height="11.93" fill="#1e1ef2"/><rect x="165.05" y="408.22" width="11.95" height="11.93" fill="#dcdcd8"/><rect x="177" y="408.22" width="11.95" height="11.93" fill="#9090e8"/><rect x="188.95" y="408.22" width="11.95" height="11.93" fill="#0000ff"/><rect x="153.1" y="420.15" width="11.95" height="11.93" fill="#1e1ef2"/><rect x="165.05" y="420.15" width="11.95" height="11.93" fill="#6a6ae8"/><rect x="177" y="420.15" width="11.95" height="11.93" fill="#b4b4e2"/><rect x="188.95" y="420.15" width="11.95" height="11.93" fill="#0000ff"/><rect x="153.1" y="432.08" width="11.95" height="11.93" fill="#1e1ef2"/><rect x="165.05" y="432.08" width="11.95" height="11.93" fill="#e8e4b2"/><rect x="177" y="432.08" width="11.95" height="11.93" fill="#dcdac6"/><rect x="188.95" y="432.08" width="11.95" height="11.93" fill="#dcdac6"/><rect x="153.1" y="444.01" width="11.95" height="11.93" fill="#1e1ef2"/><rect x="165.05" y="444.01" width="11.95" height="11.93" fill="#e8e4b2"/><rect x="177" y="444.01" width="11.95" height="11.93" fill="#dcdac6"/><rect x="188.95" y="444.01" width="11.95" height="11.93" fill="#dcdac6"/><rect x="153.1" y="455.94" width="11.95" height="11.93" fill="#1e1ef2"/><rect x="165.05" y="455.94" width="11.95" height="11.93" fill="#dcdcd8"/><rect x="177" y="455.94" width="11.95" height="11.93" fill="#dcdac6"/><rect x="188.95" y="455.94" width="11.95" height="11.93" fill="#f0ea62"/><rect x="153.1" y="467.87" width="11.95" height="11.93" fill="#1e1ef2"/><rect x="165.05" y="467.87" width="11.95" height="11.93" fill="#3333ee"/><rect x="177" y="467.87" width="11.95" height="11.93" fill="#dcdcd8"/><rect x="188.95" y="467.87" width="11.95" height="11.93" fill="#f4f040"/><rect x="153.1" y="479.8" width="11.95" height="11.93" fill="#1e1ef2"/><rect x="165.05" y="479.8" width="11.95" height="11.93" fill="#dcdcd8"/><rect x="177" y="479.8" width="11.95" height="11.93" fill="#f0ea62"/><rect x="188.95" y="479.8" width="11.95" height="11.93" fill="#ffff00"/><rect x="153.1" y="491.73" width="11.95" height="11.93" fill="#1e1ef2"/><rect x="165.05" y="491.73" width="11.95" height="11.93" fill="#dcdcd8"/><rect x="177" y="491.73" width="11.95" height="11.93" fill="#f0ea62"/><rect x="188.95" y="491.73" width="11.95" height="11.93" fill="#ffff00"/><rect x="153.1" y="503.66" width="11.95" height="11.93" fill="#1e1ef2"/><rect x="165.05" y="503.66" width="11.95" height="11.93" fill="#6a6ae8"/><rect x="177" y="503.66" width="11.95" height="11.93" fill="#f4f040"/><rect x="188.95" y="503.66" width="11.95" height="11.93" fill="#ffff00"/><rect x="153.1" y="515.59" width="11.95" height="11.93" fill="#1e1ef2"/><rect x="165.05" y="515.59" width="11.95" height="11.93" fill="#b4b4e2"/><rect x="177" y="515.59" width="11.95" height="11.93" fill="#dcdac6"/><rect x="188.95" y="515.59" width="11.95" height="11.93" fill="#ffff00"/><line x1="153.1" y1="360.5" x2="200.9" y2="360.5" stroke="#1a1a1a" stroke-width="1"/><line x1="153.1" y1="372.43" x2="200.9" y2="372.43" stroke="#1a1a1a" stroke-width="1"/><line x1="153.1" y1="384.36" x2="200.9" y2="384.36" stroke="#1a1a1a" stroke-width="1"/><line x1="153.1" y1="396.29" x2="200.9" y2="396.29" stroke="#1a1a1a" stroke-width="1"/><line x1="153.1" y1="408.22" x2="200.9" y2="408.22" stroke="#1a1a1a" stroke-width="1"/><line x1="153.1" y1="420.15" x2="200.9" y2="420.15" stroke="#1a1a1a" stroke-width="1"/><line x1="153.1" y1="432.08" x2="200.9" y2="432.08" stroke="#1a1a1a" stroke-width="1"/><line x1="153.1" y1="444.01" x2="200.9" y2="444.01" stroke="#1a1a1a" stroke-width="1"/><line x1="153.1" y1="455.94" x2="200.9" y2="455.94" stroke="#1a1a1a" stroke-width="1"/><line x1="153.1" y1="467.87" x2="200.9" y2="467.87" stroke="#1a1a1a" stroke-width="1"/><line x1="153.1" y1="479.8" x2="200.9" y2="479.8" stroke="#1a1a1a" stroke-width="1"/><line x1="153.1" y1="491.73" x2="200.9" y2="491.73" stroke="#1a1a1a" stroke-width="1"/><line x1="153.1" y1="503.66" x2="200.9" y2="503.66" stroke="#1a1a1a" stroke-width="1"/><line x1="153.1" y1="515.59" x2="200.9" y2="515.59" stroke="#1a1a1a" stroke-width="1"/><line x1="153.1" y1="527.52" x2="200.9" y2="527.52" stroke="#1a1a1a" stroke-width="1"/><line x1="153.1" y1="360.5" x2="153.1" y2="527.52" stroke="#1a1a1a" stroke-width="1"/><line x1="165.05" y1="360.5" x2="165.05" y2="527.52" stroke="#1a1a1a" stroke-width="1"/><line x1="177" y1="360.5" x2="177" y2="527.52" stroke="#1a1a1a" stroke-width="1"/><line x1="188.95" y1="360.5" x2="188.95" y2="527.52" stroke="#1a1a1a" stroke-width="1"/><line x1="200.9" y1="360.5" x2="200.9" y2="527.52" stroke="#1a1a1a" stroke-width="1"/><line x1="159.07" y1="355" x2="159.07" y2="360.5" stroke="#000" stroke-width="1.4"/><text transform="translate(158.07 354.2) rotate(-50)" font-size="8.6" font-weight="bold" fill="#111">D0</text><line x1="171.02" y1="355" x2="171.02" y2="360.5" stroke="#000" stroke-width="1.4"/><text transform="translate(170.02 354.2) rotate(-50)" font-size="8.6" font-weight="bold" fill="#111">D4</text><line x1="182.97" y1="355" x2="182.97" y2="360.5" stroke="#000" stroke-width="1.4"/><text transform="translate(181.97 354.2) rotate(-50)" font-size="8.6" font-weight="bold" fill="#111">D8</text><line x1="194.92" y1="355" x2="194.92" y2="360.5" stroke="#000" stroke-width="1.4"/><text transform="translate(193.92 354.2) rotate(-50)" font-size="8.6" font-weight="bold" fill="#111">D14</text><rect x="152.8" y="530.2" width="48.4" height="8.2" fill="#1f5aa8" stroke="#1f5aa8" stroke-width="0.6"/><text x="177" y="537.1" font-size="7" font-weight="bold" text-anchor="middle" fill="#fff">WT-CSCs</text><rect x="221.3" y="360.5" width="11.95" height="11.93" fill="#1e1ef2"/><rect x="233.25" y="360.5" width="11.95" height="11.93" fill="#dcdcd8"/><rect x="245.2" y="360.5" width="11.95" height="11.93" fill="#dcdcd8"/><rect x="257.15" y="360.5" width="11.95" height="11.93" fill="#dcdcd8"/><rect x="221.3" y="372.43" width="11.95" height="11.93" fill="#1e1ef2"/><rect x="233.25" y="372.43" width="11.95" height="11.93" fill="#e8e4b2"/><rect x="245.2" y="372.43" width="11.95" height="11.93" fill="#ece69e"/><rect x="257.15" y="372.43" width="11.95" height="11.93" fill="#f0ea8a"/><rect x="221.3" y="384.36" width="11.95" height="11.93" fill="#1e1ef2"/><rect x="233.25" y="384.36" width="11.95" height="11.93" fill="#dcdcd8"/><rect x="245.2" y="384.36" width="11.95" height="11.93" fill="#9090e8"/><rect x="257.15" y="384.36" width="11.95" height="11.93" fill="#1e1ef2"/><rect x="221.3" y="396.29" width="11.95" height="11.93" fill="#1e1ef2"/><rect x="233.25" y="396.29" width="11.95" height="11.93" fill="#c8c8e2"/><rect x="245.2" y="396.29" width="11.95" height="11.93" fill="#dcdcd8"/><rect x="257.15" y="396.29" width="11.95" height="11.93" fill="#b4b4e2"/><rect x="221.3" y="408.22" width="11.95" height="11.93" fill="#1e1ef2"/><rect x="233.25" y="408.22" width="11.95" height="11.93" fill="#dcdcd8"/><rect x="245.2" y="408.22" width="11.95" height="11.93" fill="#9090e8"/><rect x="257.15" y="408.22" width="11.95" height="11.93" fill="#0000ff"/><rect x="221.3" y="420.15" width="11.95" height="11.93" fill="#1e1ef2"/><rect x="233.25" y="420.15" width="11.95" height="11.93" fill="#9090e8"/><rect x="245.2" y="420.15" width="11.95" height="11.93" fill="#b4b4e2"/><rect x="257.15" y="420.15" width="11.95" height="11.93" fill="#0000ff"/><rect x="221.3" y="432.08" width="11.95" height="11.93" fill="#1e1ef2"/><rect x="233.25" y="432.08" width="11.95" height="11.93" fill="#e8e4b2"/><rect x="245.2" y="432.08" width="11.95" height="11.93" fill="#dcdac6"/><rect x="257.15" y="432.08" width="11.95" height="11.93" fill="#dcdac6"/><rect x="221.3" y="444.01" width="11.95" height="11.93" fill="#1e1ef2"/><rect x="233.25" y="444.01" width="11.95" height="11.93" fill="#e8e4b2"/><rect x="245.2" y="444.01" width="11.95" height="11.93" fill="#dcdac6"/><rect x="257.15" y="444.01" width="11.95" height="11.93" fill="#dcdac6"/><rect x="221.3" y="455.94" width="11.95" height="11.93" fill="#1e1ef2"/><rect x="233.25" y="455.94" width="11.95" height="11.93" fill="#dcdcd8"/><rect x="245.2" y="455.94" width="11.95" height="11.93" fill="#dcdac6"/><rect x="257.15" y="455.94" width="11.95" height="11.93" fill="#f0ea62"/><rect x="221.3" y="467.87" width="11.95" height="11.93" fill="#1e1ef2"/><rect x="233.25" y="467.87" width="11.95" height="11.93" fill="#3333ee"/><rect x="245.2" y="467.87" width="11.95" height="11.93" fill="#dcdcd8"/><rect x="257.15" y="467.87" width="11.95" height="11.93" fill="#f0ea62"/><rect x="221.3" y="479.8" width="11.95" height="11.93" fill="#1e1ef2"/><rect x="233.25" y="479.8" width="11.95" height="11.93" fill="#dcdcd8"/><rect x="245.2" y="479.8" width="11.95" height="11.93" fill="#f0ea62"/><rect x="257.15" y="479.8" width="11.95" height="11.93" fill="#ffff00"/><rect x="221.3" y="491.73" width="11.95" height="11.93" fill="#1e1ef2"/><rect x="233.25" y="491.73" width="11.95" height="11.93" fill="#dcdcd8"/><rect x="245.2" y="491.73" width="11.95" height="11.93" fill="#f0ea62"/><rect x="257.15" y="491.73" width="11.95" height="11.93" fill="#ffff00"/><rect x="221.3" y="503.66" width="11.95" height="11.93" fill="#1e1ef2"/><rect x="233.25" y="503.66" width="11.95" height="11.93" fill="#6a6ae8"/><rect x="245.2" y="503.66" width="11.95" height="11.93" fill="#f4f040"/><rect x="257.15" y="503.66" width="11.95" height="11.93" fill="#ffff00"/><rect x="221.3" y="515.59" width="11.95" height="11.93" fill="#1e1ef2"/><rect x="233.25" y="515.59" width="11.95" height="11.93" fill="#c8c8e2"/><rect x="245.2" y="515.59" width="11.95" height="11.93" fill="#dcdac6"/><rect x="257.15" y="515.59" width="11.95" height="11.93" fill="#ffff00"/><line x1="221.3" y1="360.5" x2="269.1" y2="360.5" stroke="#1a1a1a" stroke-width="1"/><line x1="221.3" y1="372.43" x2="269.1" y2="372.43" stroke="#1a1a1a" stroke-width="1"/><line x1="221.3" y1="384.36" x2="269.1" y2="384.36" stroke="#1a1a1a" stroke-width="1"/><line x1="221.3" y1="396.29" x2="269.1" y2="396.29" stroke="#1a1a1a" stroke-width="1"/><line x1="221.3" y1="408.22" x2="269.1" y2="408.22" stroke="#1a1a1a" stroke-width="1"/><line x1="221.3" y1="420.15" x2="269.1" y2="420.15" stroke="#1a1a1a" stroke-width="1"/><line x1="221.3" y1="432.08" x2="269.1" y2="432.08" stroke="#1a1a1a" stroke-width="1"/><line x1="221.3" y1="444.01" x2="269.1" y2="444.01" stroke="#1a1a1a" stroke-width="1"/><line x1="221.3" y1="455.94" x2="269.1" y2="455.94" stroke="#1a1a1a" stroke-width="1"/><line x1="221.3" y1="467.87" x2="269.1" y2="467.87" stroke="#1a1a1a" stroke-width="1"/><line x1="221.3" y1="479.8" x2="269.1" y2="479.8" stroke="#1a1a1a" stroke-width="1"/><line x1="221.3" y1="491.73" x2="269.1" y2="491.73" stroke="#1a1a1a" stroke-width="1"/><line x1="221.3" y1="503.66" x2="269.1" y2="503.66" stroke="#1a1a1a" stroke-width="1"/><line x1="221.3" y1="515.59" x2="269.1" y2="515.59" stroke="#1a1a1a" stroke-width="1"/><line x1="221.3" y1="527.52" x2="269.1" y2="527.52" stroke="#1a1a1a" stroke-width="1"/><line x1="221.3" y1="360.5" x2="221.3" y2="527.52" stroke="#1a1a1a" stroke-width="1"/><line x1="233.25" y1="360.5" x2="233.25" y2="527.52" stroke="#1a1a1a" stroke-width="1"/><line x1="245.2" y1="360.5" x2="245.2" y2="527.52" stroke="#1a1a1a" stroke-width="1"/><line x1="257.15" y1="360.5" x2="257.15" y2="527.52" stroke="#1a1a1a" stroke-width="1"/><line x1="269.1" y1="360.5" x2="269.1" y2="527.52" stroke="#1a1a1a" stroke-width="1"/><line x1="227.28" y1="355" x2="227.28" y2="360.5" stroke="#000" stroke-width="1.4"/><text transform="translate(226.28 354.2) rotate(-50)" font-size="8.6" font-weight="bold" fill="#111">D0</text><line x1="239.22" y1="355" x2="239.22" y2="360.5" stroke="#000" stroke-width="1.4"/><text transform="translate(238.22 354.2) rotate(-50)" font-size="8.6" font-weight="bold" fill="#111">D4</text><line x1="251.18" y1="355" x2="251.18" y2="360.5" stroke="#000" stroke-width="1.4"/><text transform="translate(250.18 354.2) rotate(-50)" font-size="8.6" font-weight="bold" fill="#111">D8</text><line x1="263.12" y1="355" x2="263.12" y2="360.5" stroke="#000" stroke-width="1.4"/><text transform="translate(262.12 354.2) rotate(-50)" font-size="8.6" font-weight="bold" fill="#111">D14</text><rect x="221" y="530.2" width="48.4" height="8.2" fill="#d99565" stroke="#c07a50" stroke-width="0.6"/><text x="245.2" y="537.1" font-size="7" font-weight="bold" text-anchor="middle" fill="#fff">mT/mG-CSCs</text><rect x="289.4" y="360.5" width="11.95" height="11.93" fill="#1e1ef2"/><rect x="301.35" y="360.5" width="11.95" height="11.93" fill="#dcdcd8"/><rect x="313.3" y="360.5" width="11.95" height="11.93" fill="#dcdcd8"/><rect x="325.25" y="360.5" width="11.95" height="11.93" fill="#dcdcd8"/><rect x="289.4" y="372.43" width="11.95" height="11.93" fill="#1e1ef2"/><rect x="301.35" y="372.43" width="11.95" height="11.93" fill="#e8e4b2"/><rect x="313.3" y="372.43" width="11.95" height="11.93" fill="#ece69e"/><rect x="325.25" y="372.43" width="11.95" height="11.93" fill="#f0ea8a"/><rect x="289.4" y="384.36" width="11.95" height="11.93" fill="#1e1ef2"/><rect x="301.35" y="384.36" width="11.95" height="11.93" fill="#dcdcd8"/><rect x="313.3" y="384.36" width="11.95" height="11.93" fill="#9090e8"/><rect x="325.25" y="384.36" width="11.95" height="11.93" fill="#1e1ef2"/><rect x="289.4" y="396.29" width="11.95" height="11.93" fill="#1e1ef2"/><rect x="301.35" y="396.29" width="11.95" height="11.93" fill="#b4b4e2"/><rect x="313.3" y="396.29" width="11.95" height="11.93" fill="#dcdcd8"/><rect x="325.25" y="396.29" width="11.95" height="11.93" fill="#9090e8"/><rect x="289.4" y="408.22" width="11.95" height="11.93" fill="#1e1ef2"/><rect x="301.35" y="408.22" width="11.95" height="11.93" fill="#dcdcd8"/><rect x="313.3" y="408.22" width="11.95" height="11.93" fill="#b4b4e2"/><rect x="325.25" y="408.22" width="11.95" height="11.93" fill="#0000ff"/><rect x="289.4" y="420.15" width="11.95" height="11.93" fill="#1e1ef2"/><rect x="301.35" y="420.15" width="11.95" height="11.93" fill="#9090e8"/><rect x="313.3" y="420.15" width="11.95" height="11.93" fill="#c8c8e2"/><rect x="325.25" y="420.15" width="11.95" height="11.93" fill="#0000ff"/><rect x="289.4" y="432.08" width="11.95" height="11.93" fill="#1e1ef2"/><rect x="301.35" y="432.08" width="11.95" height="11.93" fill="#e8e4b2"/><rect x="313.3" y="432.08" width="11.95" height="11.93" fill="#dcdac6"/><rect x="325.25" y="432.08" width="11.95" height="11.93" fill="#dcdac6"/><rect x="289.4" y="444.01" width="11.95" height="11.93" fill="#1e1ef2"/><rect x="301.35" y="444.01" width="11.95" height="11.93" fill="#e8e4b2"/><rect x="313.3" y="444.01" width="11.95" height="11.93" fill="#1e1ef2"/><rect x="325.25" y="444.01" width="11.95" height="11.93" fill="#dcdac6"/><rect x="289.4" y="455.94" width="11.95" height="11.93" fill="#1e1ef2"/><rect x="301.35" y="455.94" width="11.95" height="11.93" fill="#dcdcd8"/><rect x="313.3" y="455.94" width="11.95" height="11.93" fill="#dcdac6"/><rect x="325.25" y="455.94" width="11.95" height="11.93" fill="#f0ea62"/><rect x="289.4" y="467.87" width="11.95" height="11.93" fill="#1e1ef2"/><rect x="301.35" y="467.87" width="11.95" height="11.93" fill="#3333ee"/><rect x="313.3" y="467.87" width="11.95" height="11.93" fill="#dcdcd8"/><rect x="325.25" y="467.87" width="11.95" height="11.93" fill="#f4f040"/><rect x="289.4" y="479.8" width="11.95" height="11.93" fill="#1e1ef2"/><rect x="301.35" y="479.8" width="11.95" height="11.93" fill="#c8c8e2"/><rect x="313.3" y="479.8" width="11.95" height="11.93" fill="#f0ea62"/><rect x="325.25" y="479.8" width="11.95" height="11.93" fill="#ffff00"/><rect x="289.4" y="491.73" width="11.95" height="11.93" fill="#1e1ef2"/><rect x="301.35" y="491.73" width="11.95" height="11.93" fill="#dcdcd8"/><rect x="313.3" y="491.73" width="11.95" height="11.93" fill="#f0ea62"/><rect x="325.25" y="491.73" width="11.95" height="11.93" fill="#ffff00"/><rect x="289.4" y="503.66" width="11.95" height="11.93" fill="#1e1ef2"/><rect x="301.35" y="503.66" width="11.95" height="11.93" fill="#6a6ae8"/><rect x="313.3" y="503.66" width="11.95" height="11.93" fill="#f4f040"/><rect x="325.25" y="503.66" width="11.95" height="11.93" fill="#ffff00"/><rect x="289.4" y="515.59" width="11.95" height="11.93" fill="#1e1ef2"/><rect x="301.35" y="515.59" width="11.95" height="11.93" fill="#dcdcd8"/><rect x="313.3" y="515.59" width="11.95" height="11.93" fill="#dcdac6"/><rect x="325.25" y="515.59" width="11.95" height="11.93" fill="#ffff00"/><line x1="289.4" y1="360.5" x2="337.2" y2="360.5" stroke="#1a1a1a" stroke-width="1"/><line x1="289.4" y1="372.43" x2="337.2" y2="372.43" stroke="#1a1a1a" stroke-width="1"/><line x1="289.4" y1="384.36" x2="337.2" y2="384.36" stroke="#1a1a1a" stroke-width="1"/><line x1="289.4" y1="396.29" x2="337.2" y2="396.29" stroke="#1a1a1a" stroke-width="1"/><line x1="289.4" y1="408.22" x2="337.2" y2="408.22" stroke="#1a1a1a" stroke-width="1"/><line x1="289.4" y1="420.15" x2="337.2" y2="420.15" stroke="#1a1a1a" stroke-width="1"/><line x1="289.4" y1="432.08" x2="337.2" y2="432.08" stroke="#1a1a1a" stroke-width="1"/><line x1="289.4" y1="444.01" x2="337.2" y2="444.01" stroke="#1a1a1a" stroke-width="1"/><line x1="289.4" y1="455.94" x2="337.2" y2="455.94" stroke="#1a1a1a" stroke-width="1"/><line x1="289.4" y1="467.87" x2="337.2" y2="467.87" stroke="#1a1a1a" stroke-width="1"/><line x1="289.4" y1="479.8" x2="337.2" y2="479.8" stroke="#1a1a1a" stroke-width="1"/><line x1="289.4" y1="491.73" x2="337.2" y2="491.73" stroke="#1a1a1a" stroke-width="1"/><line x1="289.4" y1="503.66" x2="337.2" y2="503.66" stroke="#1a1a1a" stroke-width="1"/><line x1="289.4" y1="515.59" x2="337.2" y2="515.59" stroke="#1a1a1a" stroke-width="1"/><line x1="289.4" y1="527.52" x2="337.2" y2="527.52" stroke="#1a1a1a" stroke-width="1"/><line x1="289.4" y1="360.5" x2="289.4" y2="527.52" stroke="#1a1a1a" stroke-width="1"/><line x1="301.35" y1="360.5" x2="301.35" y2="527.52" stroke="#1a1a1a" stroke-width="1"/><line x1="313.3" y1="360.5" x2="313.3" y2="527.52" stroke="#1a1a1a" stroke-width="1"/><line x1="325.25" y1="360.5" x2="325.25" y2="527.52" stroke="#1a1a1a" stroke-width="1"/><line x1="337.2" y1="360.5" x2="337.2" y2="527.52" stroke="#1a1a1a" stroke-width="1"/><line x1="295.38" y1="355" x2="295.38" y2="360.5" stroke="#000" stroke-width="1.4"/><text transform="translate(294.38 354.2) rotate(-50)" font-size="8.6" font-weight="bold" fill="#111">D0</text><line x1="307.32" y1="355" x2="307.32" y2="360.5" stroke="#000" stroke-width="1.4"/><text transform="translate(306.32 354.2) rotate(-50)" font-size="8.6" font-weight="bold" fill="#111">D4</text><line x1="319.27" y1="355" x2="319.27" y2="360.5" stroke="#000" stroke-width="1.4"/><text transform="translate(318.27 354.2) rotate(-50)" font-size="8.6" font-weight="bold" fill="#111">D8</text><line x1="331.23" y1="355" x2="331.23" y2="360.5" stroke="#000" stroke-width="1.4"/><text transform="translate(330.23 354.2) rotate(-50)" font-size="8.6" font-weight="bold" fill="#111">D14</text><rect x="289.1" y="530.2" width="48.4" height="8.2" fill="#dcdcdc" stroke="#555" stroke-width="0.6"/><text x="313.3" y="537.1" font-size="7" font-weight="bold" text-anchor="middle" fill="#111">Tomato-CSCs</text><defs><linearGradient id="cb" x1="0" y1="0" x2="0" y2="1"><stop offset="0" stop-color="#ffff00"/><stop offset="0.24" stop-color="#fcf800"/><stop offset="0.5" stop-color="#efeb48"/><stop offset="0.57" stop-color="#eeea70"/><stop offset="0.75" stop-color="#e8e4b0"/><stop offset="0.84" stop-color="#e0dece"/><stop offset="0.9" stop-color="#dcdcdc"/><stop offset="0.94" stop-color="#c8c8ec"/><stop offset="0.965" stop-color="#4848f0"/><stop offset="1" stop-color="#1818f0"/></linearGradient></defs><rect x="357.9" y="360" width="9" height="167.3" fill="url(#cb)" stroke="#999" stroke-width="0.9"/><line x1="357.9" y1="401.7" x2="359.2" y2="401.7" stroke="#555" stroke-width="0.6"/><line x1="365.6" y1="401.7" x2="366.9" y2="401.7" stroke="#555" stroke-width="0.6"/><line x1="357.9" y1="443.8" x2="359.2" y2="443.8" stroke="#555" stroke-width="0.6"/><line x1="365.6" y1="443.8" x2="366.9" y2="443.8" stroke="#555" stroke-width="0.6"/><line x1="357.9" y1="486.2" x2="359.2" y2="486.2" stroke="#555" stroke-width="0.6"/><line x1="365.6" y1="486.2" x2="366.9" y2="486.2" stroke="#555" stroke-width="0.6"/><g font-size="7.9" fill="#333"><text x="369.8" y="366.4">higher</text><text x="369.8" y="446.5">expr.</text><text x="369.8" y="526">lower</text></g></svg></body></html>
